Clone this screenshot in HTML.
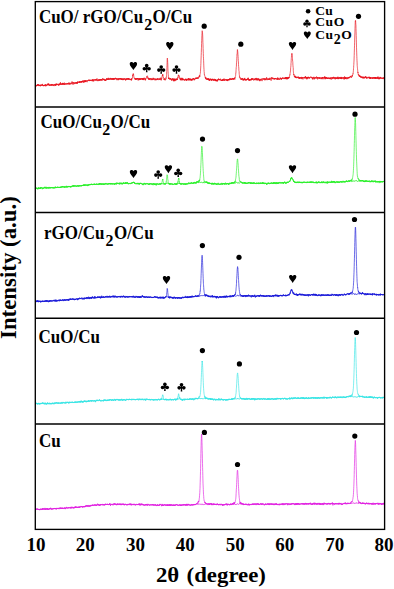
<!DOCTYPE html><html><head><meta charset="utf-8"><style>html,body{margin:0;padding:0;background:#fff;}body{width:394px;height:589px;overflow:hidden;position:relative;font-family:"Liberation Serif",serif;}</style></head><body><svg width="394" height="589" viewBox="0 0 394 589" style="position:absolute;left:0;top:0">
<path d="M35.50,85.3l.1-.1l.1-.3l.1-.3l.1,.4l.1,.1l.1,.5l.1,.9l.1-1.0l.1,.0l.1,.5l.1-.3l.1,.0l.1-.6l.1,.5l.1,.4l.1-.9l.1,.5l.1-.7l.1,.0l.1-.3l.1,.7l.1-1.0l.1,.8l.1,.1l.1,.0l.1-1.2l.1,.9l.1,.6l.1-.2l.1-.9l.1,.9l.1-.2l.1,.2l.1,.8l.1-.9l.1,.5l.1,.2l.1-.9l.1,.3l.1,.2l.1,.3l.1-.9l.1,.5l.1,.6l.1-1.4l.1,1.1l.1-.4l.1-.3l.1,1.3l.1-.4l.1-1.1l.1,.4l.1,.2l.1-.2l.1,.6l.1-.5l.1,.1l.1,.5l.1-1.1l.1,.3l.1-.4l.1,.3l.1-.3l.1,.3l.1,.2l.1,.5l.1,.1l.1-1.2l.1,.1l.1,.6l.1-1.4l.1,1.0l.1,.3l.1,.8l.1-.2l.1-.4l.1-.1l.1-.2l.1,1.1l.1-1.2l.1,.2l.1,.4l.1,.0l.1,.0l.1-.6l.1,.5l.1-.2l.1,.8l.1-.3l.1-.4l.1,.3l.1-.7l.1,.8l.1-.9l.1,.2l.1-.5l.1,.8l.1-1.0l.1-.4l.1,1.3l.1-.3l.1,.3l.1,1.1l.1-1.4l.1,.5l.1,.2l.1,.1l.1-.5l.1,.1l.1,.5l.1-.4l.1-.8l.1,.4l.1,.2l.1-.6l.1,.5l.1-.8l.1,.8l.1-.3l.1-.1l.1-.5l.1,.3l.1-.8l.1,.4l.1,.7l.1-1.3l.1,1.7l.1-1.6l.1,1.2l.1-.9l.1,.9l.1-.1l.1-1.1l.1,1.7l.1,.1l.1-.3l.1,.0l.1,.1l.1-.5l.1,.9l.1-.6l.1,.0l.1-.5l.1-.1l.1-.3l.1,1.5l.1-.8l.1,.6l.1-.5l.1-.4l.1,.3l.1-.1l.1,.4l.1-.1l.1,.1l.1-.5l.1,.0l.1,1.3l.1-1.4l.1-.3l.1,.6l.1,.3l.1-1.2l.1,.6l.1,.0l.1-.6l.1,1.1l.1,.0l.1,.0l.1-.3l.1,.5l.1-.6l.1,.5l.1-.5l.1-.1l.1,1.2l.1-1.0l.1,.7l.1-.3l.1-.6l.1,.2l.1,.5l.1-.2l.1,.1l.1,.2l.1,.7l.1-.4l.1-.3l.1-.8l.1-.6l.1,.7l.1,.1l.1-.5l.1,.7l.1,.3l.1,.0l.1,.4l.1-.9l.1,.9l.1-1.9l.1,1.1l.1-.1l.1,.0l.1,.7l.1-.1l.1-1.0l.1-.4l.1,1.1l.1-.9l.1,.5l.1,.4l.1-1.4l.1-.4l.1,1.4l.1-.1l.1-.1l.1,.1l.1-.3l.1,.0l.1,.6l.1-.2l.1-.5l.1,.9l.1-.3l.1,.2l.1-.6l.1,.3l.1,.0l.1,.1l.1,.6l.1-.7l.1,.4l.1-.4l.1,.9l.1-1.9l.1,1.1l.1-.7l.1,.2l.1-.7l.1,.4l.1,.6l.1-.6l.1,.4l.1-.4l.1,.8l.1-.7l.1-1.2l.1,.8l.1-.7l.1-.7l.1,1.4l.1,.9l.1-.5l.1-.7l.1,.0l.1,1.5l.1-.8l.1,.1l.1,.2l.1-.2l.1,.3l.1-.4l.1,.0l.1-.7l.1,.8l.1-.4l.1,.9l.1-1.6l.1,.7l.1-.1l.1-.8l.1,1.6l.1-.2l.1-.4l.1,.7l.1,.0l.1-1.7l.1,1.4l.1-.1l.1-.2l.1-.9l.1,.4l.1,.2l.1,.8l.1-.5l.1,.1l.1,.9l.1-1.5l.1,.0l.1-.8l.1,1.9l.1-.5l.1-.1l.1,.1l.1-.1l.1,.0l.1-.4l.1-.1l.1,.2l.1,.8l.1-.8l.1-.2l.1-.3l.1,.1l.1,1.1l.1-.3l.1,.1l.1-.4l.1-.3l.1,.3l.1,.6l.1-.7l.1,.1l.1,.0l.1,.0l.1-.6l.1,.5l.1-.3l.1,.7l.1-.8l.1,1.0l.1,.1l.1-.8l.1-.2l.1,.3l.1,.0l.1-.4l.1,.8l.1,.4l.1-1.0l.1,.1l.1-.6l.1,.4l.1-.9l.1,.2l.1,1.1l.1-1.0l.1,1.1l.1,.3l.1-.5l.1,.3l.1,.6l.1-1.2l.1-.1l.1-.2l.1,.7l.1,.6l.1-.2l.1-1.1l.1-.3l.1,.3l.1,.6l.1-.1l.1,.3l.1,.2l.1-.3l.1-.1l.1,.0l.1-.4l.1,.3l.1,.5l.1-.8l.1-.4l.1-1.1l.1,.9l.1-1.1l.1,.3l.1,1.4l.1,.2l.1-.1l.1-.7l.1,.7l.1-.1l.1,.6l.1,.8l.1-1.4l.1-.5l.1-.4l.1,.6l.1-.2l.1-.5l.1,.9l.1-.4l.1,1.3l.1,.0l.1,.0l.1-.8l.1,.4l.1-.6l.1-.2l.1,.0l.1-.4l.1-.2l.1,1.1l.1-.2l.1,.2l.1,.4l.1-1.4l.1,.5l.1,.3l.1-.2l.1-.2l.1,.4l.1-.1l.1-.8l.1,.2l.1,.9l.1-.3l.1-1.0l.1,1.2l.1-.2l.1,.2l.1-.7l.1,.0l.1-.5l.1,1.9l.1-1.5l.1,.9l.1-1.4l.1,.4l.1-.9l.1,.7l.1,.7l.1-.9l.1,1.0l.1-.6l.1-.7l.1,.2l.1,.0l.1,.1l.1-.2l.1,.1l.1,.1l.1,.0l.1,.1l.1,.4l.1,.5l.1-1.4l.1,.8l.1-.4l.1-.5l.1,1.1l.1-.8l.1,.9l.1-1.4l.1,.7l.1-.1l.1-.4l.1,.8l.1-.2l.1,.3l.1-.6l.1-.2l.1,.4l.1,.1l.1,.4l.1-.8l.1,.4l.1-1.0l.1,1.2l.1-.8l.1-.5l.1,1.0l.1,.6l.1-1.3l.1,.3l.1,.0l.1-.4l.1,.8l.1-.6l.1-.2l.1,.3l.1-.8l.1,1.0l.1-1.0l.1-.3l.1-.1l.1,2.2l.1-1.0l.1,.1l.1,.0l.1,.3l.1,.0l.1,.8l.1-1.7l.1-.3l.1,.3l.1-.4l.1,1.0l.1,.1l.1-.7l.1-.1l.1,.5l.1,.8l.1-2.2l.1,1.9l.1-1.0l.1,.9l.1-1.0l.1,.4l.1-.6l.1-.2l.1,1.3l.1-.1l.1-.6l.1-.2l.1-.3l.1,.8l.1,.1l.1-.2l.1-.2l.1-.5l.1,.6l.1,.0l.1,.8l.1,.3l.1-1.2l.1-.4l.1,.0l.1-.2l.1-.2l.1,.4l.1-.3l.1,.8l.1-.2l.1-.1l.1-.2l.1-.4l.1-.2l.1,.3l.1-.1l.1,.4l.1-.4l.1-.6l.1,.8l.1-.7l.1,.5l.1,.5l.1-.7l.1,1.1l.1-.1l.1-.4l.1-.3l.1-.1l.1-.3l.1,.3l.1,.0l.1,.5l.1-.6l.1,.7l.1-.1l.1-.2l.1-.3l.1,.5l.1-1.1l.1,1.0l.1-.2l.1,.3l.1,.1l.1-.6l.1,.2l.1,.3l.1-.1l.1-.2l.1-.6l.1,1.1l.1,.3l.1,.1l.1-.3l.1-1.2l.1,1.1l.1-.6l.1-1.2l.1,1.5l.1-1.0l.1-.1l.1,.5l.1,1.2l.1-.8l.1,.2l.1,.6l.1,.2l.1-1.2l.1-.2l.1-.8l.1,.4l.1,.8l.1-.3l.1,.0l.1,.3l.1-1.0l.1,.1l.1,.2l.1,.3l.1,.0l.1-.1l.1,.0l.1,.5l.1-.6l.1-.4l.1,1.1l.1-.4l.1,.0l.1-1.0l.1,.9l.1,.0l.1,.1l.1-.6l.1,.7l.1,.4l.1-.6l.1-.7l.1,.4l.1,.1l.1-1.4l.1,1.7l.1,.4l.1,.1l.1,.5l.1-.1l.1-.8l.1-.1l.1,.2l.1-.6l.1,.4l.1,.5l.1,.5l.1-1.0l.1-.2l.1,.2l.1,.2l.1-.7l.1,.9l.1-1.1l.1,.5l.1-.3l.1,.8l.1,.0l.1-1.1l.1,.2l.1,.7l.1-.1l.1-.6l.1,1.5l.1-.7l.1,.1l.1-.6l.1,.5l.1-.7l.1,.5l.1-.6l.1-.3l.1,.6l.1-.6l.1,.9l.1-.3l.1-.8l.1,.7l.1-.1l.1,.8l.1-1.0l.1,.2l.1,.6l.1,.6l.1-.1l.1-1.2l.1,.3l.1,.4l.1-.9l.1-.7l.1,.4l.1,.2l.1-.7l.1-.2l.1,.4l.1,1.2l.1-.9l.1,.2l.1,.4l.1,.0l.1-.6l.1,.6l.1-.5l.1,.3l.1-.6l.1,1.5l.1-.4l.1-.6l.1,.2l.1,.2l.1,.6l.1-1.1l.1,.1l.1,.2l.1,1.4l.1-.6l.1-.6l.1,.3l.1,1.0l.1-1.1l.1,.0l.1,.5l.1-.4l.1,.0l.1-.7l.1,1.2l.1-.2l.1-.7l.1,.1l.1-1.5l.1,1.2l.1-.4l.1,.3l.1,.5l.1-.6l.1-.6l.1,1.1l.1-.5l.1,.0l.1-.1l.1,.2l.1-1.0l.1,1.5l.1-.7l.1,.4l.1,.2l.1-.9l.1-1.0l.1,.7l.1,.1l.1,.7l.1,.4l.1-1.2l.1,1.1l.1-1.2l.1,.9l.1-.1l.1-.2l.1,.1l.1-.3l.1,.1l.1-.3l.1,.6l.1,.8l.1-.3l.1-.3l.1-.5l.1-1.0l.1,1.2l.1-.6l.1,.1l.1,.1l.1,.5l.1-.1l.1,.1l.1-.8l.1,.5l.1,1.0l.1-1.4l.1,.2l.1,.1l.1,.1l.1-.9l.1,.7l.1,.6l.1-.3l.1,.0l.1,.7l.1-1.1l.1,.4l.1-.4l.1,.9l.1-1.4l.1,.8l.1,.1l.1,.7l.1,.0l.1,.3l.1-1.9l.1,1.3l.1-.4l.1-.4l.1,.7l.1-.5l.1-.4l.1,.7l.1-.7l.1,.5l.1,.6l.1-.2l.1,.4l.1-.8l.1-.9l.1,.4l.1-.2l.1-.1l.1,.8l.1-.6l.1-.5l.1,1.2l.1-.3l.1,.1l.1,.1l.1,.2l.1-.2l.1,.5l.1-.5l.1,.0l.1,.0l.1-.8l.1,.6l.1,.3l.1,.3l.1-.7l.1,1.6l.1-.8l.1-.7l.1-.3l.1,.6l.1,.1l.1-.3l.1,.5l.1-.3l.1,.4l.1-.6l.1,.3l.1,.5l.1,.6l.1-1.8l.1,.6l.1-.3l.1,.8l.1-.9l.1,.6l.1,.3l.1-.5l.1-.1l.1,.4l.1-1.0l.1,.1l.1,.4l.1,.2l.1,.0l.1-.8l.1,.8l.1,.6l.1-.2l.1-.5l.1-.5l.1,.6l.1-.7l.1-.3l.1,.3l.1,1.3l.1-.5l.1,.3l.1-1.0l.1,.5l.1-.5l.1,.0l.1,1.6l.1-.5l.1-.5l.1,.3l.1,.0l.1,.6l.1-1.0l.1-.7l.1,.8l.1,.3l.1,.2l.1,.6l.1-.5l.1,.2l.1-1.2l.1,.9l.1,.6l.1-.8l.1,.0l.1-.2l.1,.8l.1-1.3l.1,.1l.1,.3l.1-.3l.1-.6l.1,.5l.1-.3l.1,.6l.1,.0l.1-.1l.1,.7l.1,.4l.1-.8l.1,.2l.1,.2l.1-.8l.1,.7l.1-.6l.1,1.1l.1,.7l.1-.2l.1-1.3l.1,.2l.1-.3l.1-.2l.1,.8l.1-1.2l.1,1.1l.1-.4l.1,.5l.1-.5l.1-.5l.1,.4l.1,.1l.1-.4l.1,.5l.1-.5l.1-.7l.1,1.3l.1,.2l.1-.3l.1-.1l.1,.5l.1-.8l.1,.0l.1,.2l.1,.6l.1-1.5l.1,1.3l.1-1.0l.1-.3l.1,1.0l.1-.5l.1-.3l.1,.6l.1,.7l.1,.1l.1-.7l.1,.5l.1,.0l.1-.8l.1,.4l.1,.2l.1,.0l.1-.1l.1,.1l.1,.2l.1-.3l.1,.0l.1,.8l.1-.6l.1,.5l.1-.1l.1-.2l.1,.7l.1-1.5l.1,.9l.1-.6l.1,1.3l.1-.2l.1-2.0l.1,.5l.1,.6l.1,.0l.1-.3l.1-.6l.1-.1l.1-.3l.1-.7l.1,.1l.1-2.2l.1,.9l.1-1.4l.1,.3l.1-.7l.1-.6l.1,.7l.1-.6l.1,.5l.1,.0l.1,1.2l.1,.8l.1,.7l.1,.1l.1,1.0l.1-.2l.1,.1l.1,.4l.1,.2l.1-.6l.1,.1l.1,.3l.1,.2l.1-.2l.1,1.1l.1-.6l.1,.6l.1-.9l.1,.5l.1-.1l.1-.6l.1,1.3l.1-1.0l.1,1.0l.1-.3l.1-1.0l.1,.3l.1,.7l.1-.1l.1,.1l.1-.3l.1-.6l.1,.7l.1-1.2l.1,1.3l.1-.8l.1,.0l.1,.4l.1,.2l.1-1.0l.1-.1l.1,.7l.1-.4l.1,.7l.1,1.4l.1-1.3l.1,.3l.1-1.1l.1,.8l.1-.3l.1,.3l.1,.4l.1,.7l.1-.8l.1,.0l.1-.8l.1,.4l.1-.3l.1,.9l.1-.7l.1,.9l.1-1.8l.1,1.3l.1,.5l.1-.6l.1-.1l.1,.1l.1-.6l.1,.3l.1,1.0l.1-.7l.1-1.1l.1,.1l.1,.4l.1,.7l.1-.8l.1,.0l.1,.8l.1,.0l.1-.5l.1,.1l.1-.2l.1,.4l.1-1.0l.1,1.3l.1-.7l.1,.3l.1,.8l.1-.5l.1-1.0l.1,1.3l.1,.3l.1-1.0l.1-.3l.1,.6l.1-.6l.1,1.5l.1-2.1l.1,.9l.1,.7l.1-.1l.1-.1l.1-.1l.1-.4l.1,.4l.1-1.6l.1,.9l.1,.1l.1,.4l.1,.0l.1-.5l.1-.1l.1,.9l.1-.4l.1-.4l.1,1.7l.1,.1l.1-1.7l.1,.6l.1,.8l.1-.9l.1-.6l.1-.3l.1-.1l.1-.1l.1-.2l.1,.4l.1-.6l.1-.2l.1-.8l.1,.4l.1-.5l.1,.1l.1,.1l.1-.9l.1,.0l.1,.0l.1-.1l.1,.4l.1,.2l.1,1.2l.1-.6l.1,1.6l.1-.4l.1-.3l.1,.3l.1,.2l.1,.5l.1-.4l.1,1.3l.1-1.1l.1-.7l.1,.9l.1-.8l.1,.8l.1,.6l.1,.0l.1-1.1l.1,.2l.1,1.2l.1-.7l.1-.3l.1,.4l.1,.7l.1-.7l.1-.6l.1,.3l.1,.2l.1-.5l.1-.1l.1,.4l.1-.5l.1,.4l.1,.3l.1,1.1l.1-1.6l.1,.6l.1,.0l.1,.5l.1,.1l.1-.8l.1,.0l.1-.6l.1,.6l.1,.5l.1-.2l.1-.5l.1,.7l.1,.4l.1,.2l.1-.6l.1,.3l.1-1.1l.1-.2l.1,1.3l.1-2.0l.1,1.2l.1,.3l.1-.2l.1-.2l.1,.2l.1,.0l.1-.2l.1-.9l.1,1.0l.1-.3l.1,.3l.1,.6l.1,.0l.1,.0l.1-.5l.1,.8l.1,.1l.1-.1l.1,.5l.1-.5l.1-.4l.1,.3l.1-1.0l.1,1.0l.1-.7l.1,.0l.1-.6l.1,.8l.1,.5l.1,.3l.1,.1l.1-.5l.1,.1l.1-.8l.1,.6l.1-.4l.1,.3l.1,.3l.1-1.1l.1-.7l.1,.2l.1-.1l.1,.3l.1,1.4l.1-.5l.1-.7l.1,1.0l.1,.0l.1-.8l.1-.1l.1,.4l.1,.2l.1,.3l.1,.5l.1-.1l.1-.1l.1-.2l.1-.4l.1-1.1l.1,.8l.1,.2l.1-.4l.1,.6l.1-.5l.1-.1l.1,1.0l.1-.5l.1-.3l.1,.3l.1,.2l.1-.4l.1-1.4l.1,.8l.1,.5l.1-.2l.1,.5l.1,.4l.1-.7l.1-.1l.1,1.5l.1-1.3l.1-.5l.1,.6l.1-.3l.1-1.1l.1,.5l.1-1.1l.1-.6l.1,.1l.1-.1l.1-1.1l.1-.2l.1-.3l.1,.9l.1-1.9l.1,1.1l.1-.2l.1,.5l.1,.7l.1,.7l.1,.7l.1,.0l.1-.2l.1,.6l.1,.7l.1,.4l.1,.7l.1-.5l.1,.4l.1-.1l.1-.4l.1-.8l.1-.1l.1,.2l.1,1.4l.1-.9l.1,1.0l.1-.3l.1,.8l.1-.4l.1-.5l.1-.4l.1,.1l.1-.1l.1-.2l.1-.3l.1,.7l.1-1.6l.1,.5l.1-1.1l.1,.0l.1-.1l.1-1.6l.1-.9l.1-2.6l.1-.7l.1-3.5l.1-2.1l.1-2.8l.1-3.8l.1-.7l.1-.2l.1,1.5l.1,.8l.1,2.0l.1,1.8l.1,3.9l.1,2.7l.1,1.0l.1,1.6l.1,1.1l.1,2.3l.1,1.8l.1-.6l.1,.5l.1,.2l.1-1.0l.1,1.3l.1-1.2l.1,.5l.1,.6l.1,.2l.1,.0l.1,.4l.1-.6l.1-.2l.1,.5l.1-.4l.1-.2l.1-.1l.1,.4l.1-.7l.1,.5l.1-.3l.1,.8l.1,.0l.1,.8l.1-1.7l.1,.3l.1,.9l.1-.3l.1,.1l.1,1.2l.1-1.0l.1-.2l.1,.1l.1,.8l.1,.2l.1-1.0l.1,.2l.1,.6l.1-.5l.1-.9l.1,.4l.1,.0l.1-1.2l.1,.8l.1,1.0l.1-.4l.1-.6l.1,1.1l.1,.6l.1,.2l.1-1.9l.1,2.5l.1-2.1l.1,.8l.1,.0l.1,.2l.1-.5l.1-.5l.1,1.0l.1-.8l.1-.9l.1,2.7l.1-1.2l.1,.7l.1-1.4l.1,1.2l.1,.2l.1,.0l.1-.8l.1-.9l.1,.5l.1-.8l.1,.2l.1,.8l.1-.5l.1,.5l.1,.1l.1,.5l.1-.5l.1-.8l.1,.6l.1-1.1l.1,.2l.1,1.0l.1-1.0l.1,.6l.1-.4l.1,.6l.1,.5l.1-1.2l.1,.3l.1-1.1l.1-.6l.1-.5l.1,.8l.1-.1l.1-1.5l.1-.9l.1,.3l.1-.7l.1,.5l.1-.3l.1,.3l.1,.6l.1-.2l.1,.6l.1-.3l.1,1.0l.1,.0l.1,1.0l.1,.0l.1,.7l.1,.4l.1-.6l.1,.2l.1,.0l.1,1.0l.1,.4l.1-.3l.1-.8l.1,.8l.1-1.3l.1,1.4l.1-1.1l.1-1.1l.1,2.8l.1-.3l.1-1.7l.1,.5l.1-.2l.1,.2l.1-.5l.1,.3l.1,1.0l.1-.1l.1,.3l.1-.9l.1,1.2l.1-1.5l.1,.2l.1-1.1l.1,.5l.1,1.7l.1-1.3l.1,1.0l.1-.3l.1-.7l.1,.6l.1-.3l.1,.0l.1,.6l.1,.0l.1-.2l.1-.3l.1,.5l.1-.1l.1,.3l.1,1.0l.1-.9l.1-.4l.1,.1l.1-.4l.1,.0l.1-.1l.1,.2l.1,.1l.1,.3l.1-.6l.1,.2l.1-.7l.1,1.4l.1-.7l.1,.8l.1-.6l.1,.4l.1-.6l.1,.6l.1,.8l.1-2.0l.1,1.4l.1,.2l.1-.7l.1,.2l.1,.5l.1-1.1l.1,.4l.1-.7l.1,.0l.1,.0l.1,.3l.1,.1l.1,.2l.1-.9l.1,1.6l.1-.6l.1-.4l.1-.5l.1,.1l.1,.2l.1,.0l.1-.9l.1,1.4l.1,.9l.1-2.4l.1,1.4l.1,.0l.1-.4l.1,.7l.1-1.1l.1,.6l.1,.8l.1-.9l.1,.0l.1,.4l.1-.1l.1,.9l.1-1.1l.1,.8l.1-1.0l.1,.8l.1-.4l.1-1.1l.1,1.0l.1-.4l.1,.3l.1,1.1l.1-1.4l.1,.0l.1,1.5l.1-.9l.1,.8l.1-.4l.1-.8l.1,.3l.1,.4l.1-.2l.1-.5l.1-.1l.1,.0l.1-.3l.1,1.6l.1-1.1l.1-.8l.1,.3l.1,.5l.1,.1l.1-.5l.1-.2l.1,.3l.1-1.0l.1,.3l.1,1.0l.1-.7l.1,.4l.1,.8l.1-.1l.1-.3l.1,.9l.1-.5l.1-.6l.1,.5l.1-.2l.1-.6l.1,.5l.1-.3l.1-1.0l.1,.6l.1-.3l.1,.0l.1-.6l.1,.6l.1,.2l.1,.0l.1-.5l.1,.5l.1-1.0l.1,.6l.1,.6l.1-.8l.1,.1l.1,.9l.1-.7l.1-.1l.1,.4l.1,.4l.1-1.9l.1,1.0l.1-.1l.1,.2l.1,.1l.1-.2l.1,.5l.1-.7l.1,.2l.1,.1l.1-.7l.1,.5l.1,.6l.1-.8l.1-.3l.1,.0l.1-.5l.1,.2l.1,.4l.1-1.1l.1-.1l.1,.5l.1-1.1l.1,.6l.1-1.1l.1,.0l.1,.1l.1,1.4l.1-1.6l.1-.3l.1-.6l.1-.5l.1-.4l.1-1.4l.1-.3l.1-2.7l.1-1.0l.1-2.6l.1-1.9l.1-3.4l.1-2.1l.1-2.6l.1-2.8l.1-3.7l.1-1.6l.1-3.7l.1-2.9l.1-2.6l.1-2.6l.1-1.8l.1-2.3l.1-.7l.1,.3l.1,.6l.1,1.0l.1,1.5l.1,1.9l.1,3.0l.1,3.5l.1,1.7l.1,4.2l.1,2.7l.1,2.4l.1,3.1l.1,1.6l.1,2.1l.1,2.8l.1,2.8l.1,2.0l.1,1.7l.1,1.9l.1,.5l.1,2.2l.1-.2l.1,.9l.1,.7l.1,.0l.1,.0l.1,.3l.1,.7l.1,.8l.1-.1l.1-.3l.1,.6l.1,.2l.1,.7l.1-1.3l.1,2.0l.1-1.0l.1-.4l.1,.7l.1,.2l.1-.2l.1,.4l.1-.3l.1,.8l.1,.1l.1-.3l.1,.8l.1-.8l.1-.1l.1-.6l.1,.5l.1,.6l.1-.9l.1,1.0l.1-.2l.1,.0l.1-1.2l.1,.9l.1,.3l.1-.6l.1,.6l.1-1.2l.1,1.4l.1-.7l.1,1.0l.1-1.2l.1,1.4l.1-.4l.1,.6l.1-.8l.1,.0l.1,1.3l.1-1.7l.1-.2l.1,.3l.1-.5l.1,1.2l.1,.5l.1-1.6l.1-.3l.1,1.2l.1,.0l.1-.3l.1,.0l.1-.4l.1,.1l.1-.4l.1,.0l.1,1.1l.1-.8l.1,1.4l.1-1.0l.1-.4l.1,1.1l.1,.7l.1-1.0l.1-.9l.1,.8l.1,.5l.1-1.3l.1-.2l.1,1.2l.1-.4l.1-.7l.1,.3l.1-.2l.1,.7l.1,.0l.1,.5l.1,.0l.1-1.1l.1,1.3l.1,.1l.1-.2l.1,.4l.1-.9l.1-.2l.1,.7l.1-.9l.1-.6l.1,1.7l.1-.6l.1,.1l.1-.5l.1,.4l.1-.1l.1,.3l.1,.3l.1-1.3l.1,1.6l.1-1.2l.1,.3l.1,1.0l.1-.5l.1-.8l.1,1.7l.1-1.5l.1,.5l.1-.3l.1,.7l.1-.7l.1,.9l.1-.6l.1,.8l.1-.6l.1,.0l.1,.9l.1-.8l.1-.3l.1,1.3l.1-1.1l.1-.5l.1,.6l.1-1.1l.1,1.2l.1,.1l.1-.8l.1-.1l.1,.4l.1-.2l.1-.6l.1,.6l.1-1.5l.1,.9l.1-.1l.1,.1l.1,.5l.1-.8l.1,.8l.1-.2l.1,.1l.1-.5l.1-.1l.1,.9l.1-.7l.1,.3l.1,.3l.1,.3l.1,.1l.1-1.3l.1-.4l.1,1.2l.1-.3l.1,.1l.1-.2l.1,1.0l.1-.1l.1-.2l.1,.0l.1,.3l.1-.2l.1,.0l.1,.4l.1-.8l.1,1.0l.1-1.0l.1,.4l.1-.6l.1,.0l.1,1.3l.1-1.0l.1-.7l.1,.4l.1,.2l.1,1.0l.1-1.2l.1,.4l.1-.6l.1,.5l.1,.1l.1,.6l.1-1.2l.1,.7l.1-.4l.1-.8l.1,.6l.1-.1l.1-1.0l.1,1.3l.1,.4l.1-.3l.1-.5l.1,1.2l.1-.6l.1,.4l.1-.1l.1-.8l.1,.8l.1-.2l.1,.1l.1-.2l.1,.0l.1,.2l.1-.7l.1-.3l.1,.0l.1,.7l.1-.6l.1,.4l.1,.3l.1-.2l.1,.1l.1-.5l.1,1.4l.1-.3l.1-.5l.1-.3l.1,1.1l.1-.9l.1-.4l.1,.4l.1,.4l.1,.6l.1-.8l.1,1.0l.1-1.3l.1,.4l.1-1.2l.1,1.0l.1-.7l.1,.3l.1,.5l.1,.3l.1-1.2l.1,.6l.1-.7l.1,.6l.1-.1l.1-.2l.1-.2l.1,.3l.1-.3l.1,.8l.1,.3l.1-1.9l.1,1.0l.1-.5l.1,.6l.1-.9l.1,.2l.1-.2l.1,.9l.1-.2l.1-.4l.1,.6l.1-.3l.1-.8l.1,1.0l.1-.3l.1,.1l.1,.3l.1,.4l.1-1.1l.1,.1l.1,1.0l.1-.2l.1-1.1l.1-.3l.1,.0l.1,.3l.1-.3l.1,.8l.1-.8l.1,.0l.1,1.2l.1-.8l.1,.2l.1,.4l.1,.2l.1-.4l.1-.1l.1-.6l.1,1.3l.1-.9l.1-.7l.1,.1l.1,.6l.1-.1l.1,.5l.1-.1l.1-1.1l.1,.2l.1-.4l.1,.8l.1-.3l.1,1.3l.1-1.4l.1-1.1l.1,.4l.1,.0l.1-.8l.1-.2l.1-.4l.1-.4l.1-1.5l.1-1.2l.1,.0l.1-2.2l.1-1.2l.1-1.9l.1-.7l.1-.7l.1-3.3l.1-.8l.1-1.4l.1-2.6l.1-1.6l.1-2.4l.1,.1l.1-1.4l.1-1.9l.1-1.5l.1,.2l.1,1.0l.1,.8l.1,.6l.1,2.1l.1,.6l.1,1.9l.1,1.9l.1,2.1l.1,.5l.1,3.2l.1,2.1l.1,.2l.1,1.4l.1,2.4l.1,.7l.1,.2l.1,2.7l.1,.5l.1,.5l.1,2.1l.1-.3l.1-.1l.1,.8l.1-.2l.1,.1l.1,.6l.1-.4l.1,.2l.1,1.1l.1-.2l.1,.2l.1-.1l.1,.2l.1,.4l.1-.5l.1,.7l.1-1.4l.1,.5l.1-.4l.1,.6l.1,.3l.1,.6l.1-.9l.1,.3l.1-.6l.1-.1l.1-.1l.1,.8l.1-1.0l.1,.9l.1,.0l.1-.2l.1-.3l.1-.3l.1,1.9l.1-1.5l.1,1.6l.1-.4l.1-.6l.1-.2l.1,1.1l.1-.1l.1-1.1l.1,.0l.1,.8l.1-.5l.1,.8l.1-1.2l.1,.3l.1-.9l.1,1.5l.1-1.0l.1-1.0l.1,1.1l.1,.1l.1,1.1l.1-.9l.1,.1l.1,.4l.1,.6l.1-.8l.1,.6l.1-.2l.1-.6l.1,.0l.1,.3l.1-.4l.1,1.0l.1-1.3l.1,1.2l.1,.1l.1-.9l.1-.4l.1,.1l.1,.1l.1,.2l.1,.0l.1,.3l.1-.7l.1,.2l.1-.8l.1,1.2l.1-.5l.1-.4l.1,.8l.1-.1l.1-1.7l.1,1.4l.1-.5l.1,1.4l.1,.5l.1-1.4l.1,.2l.1,.0l.1,.1l.1,.2l.1,.6l.1-1.0l.1,1.4l.1-1.2l.1,.7l.1,.6l.1-.2l.1-.9l.1,.0l.1,.0l.1,.4l.1,.5l.1-1.3l.1,.8l.1,.0l.1,.0l.1-.5l.1,.3l.1-.4l.1,.0l.1-.1l.1,.6l.1-1.6l.1,2.0l.1-.7l.1,.1l.1-.5l.1-.6l.1,.6l.1-.6l.1,.6l.1-1.0l.1,1.7l.1-.5l.1-.3l.1,.0l.1-.1l.1-.4l.1,.2l.1,.5l.1-.1l.1-.5l.1,.5l.1,.1l.1,.4l.1,.8l.1-.6l.1-.7l.1-.4l.1-.1l.1,.0l.1,1.2l.1-.8l.1,.5l.1-.4l.1,.3l.1,.6l.1-1.2l.1,.0l.1-.2l.1,.7l.1-.9l.1,.1l.1-.3l.1,.2l.1,.7l.1,1.0l.1-1.8l.1,.5l.1-.4l.1-.6l.1,.7l.1,.1l.1-.3l.1,1.9l.1-1.7l.1,1.0l.1,.1l.1-.3l.1,.4l.1,.2l.1-.3l.1,.3l.1,.0l.1-1.6l.1,1.9l.1,.3l.1-.8l.1-.1l.1-1.2l.1,.8l.1-.5l.1,.2l.1,.9l.1-1.0l.1,.3l.1-.7l.1,.9l.1,.3l.1-.4l.1,.3l.1,1.4l.1-1.7l.1,.2l.1,.1l.1,1.1l.1,.5l.1-.9l.1-.6l.1,.0l.1,.6l.1-1.0l.1,.9l.1,.1l.1-.5l.1,.0l.1,.1l.1,.4l.1-1.4l.1,.9l.1-.9l.1-.2l.1,.5l.1-.2l.1,.0l.1-.1l.1,.5l.1,1.4l.1,.3l.1-.8l.1,.1l.1-.9l.1,.0l.1,.0l.1-.9l.1,.1l.1,.3l.1-.2l.1-.4l.1,.8l.1-.2l.1,.8l.1-.5l.1-.2l.1,.0l.1-.4l.1-.6l.1,.3l.1,.4l.1,.0l.1,.7l.1-1.3l.1,1.1l.1,.0l.1,.7l.1-.1l.1-.2l.1,.7l.1-.5l.1-.9l.1,.9l.1-.6l.1-.6l.1,.8l.1-.9l.1,.9l.1-.5l.1-.2l.1-.1l.1-.3l.1,.3l.1,.0l.1,.0l.1,.0l.1-1.4l.1,2.2l.1-.7l.1,1.1l.1,.3l.1-.7l.1-.8l.1-.1l.1,.1l.1-.1l.1,.3l.1-.2l.1,1.1l.1-.6l.1,.2l.1-.5l.1,.3l.1-.2l.1,.4l.1,.3l.1-.3l.1-.8l.1-.3l.1,1.4l.1-.9l.1-.1l.1,.9l.1-.3l.1-.2l.1-.6l.1,1.3l.1-.9l.1,.0l.1-.3l.1-.9l.1,.4l.1,.9l.1,.1l.1,.0l.1-.4l.1,.2l.1,.3l.1-.4l.1,1.2l.1-.1l.1,.8l.1-1.0l.1-.6l.1-.6l.1-1.3l.1,1.3l.1,.2l.1,.3l.1-.2l.1,.1l.1-.2l.1,.2l.1,.2l.1-1.1l.1,.0l.1-.5l.1,1.5l.1-.1l.1,.0l.1-1.0l.1,1.2l.1,.0l.1,.0l.1-.2l.1,.3l.1-.5l.1,.3l.1-.5l.1,.1l.1,.2l.1-.2l.1,.6l.1-.5l.1,.6l.1-.5l.1-.4l.1,.8l.1-.9l.1,1.0l.1,.0l.1-1.1l.1,.0l.1,.7l.1-.3l.1-.5l.1,.6l.1-.4l.1,.7l.1-.4l.1,.3l.1,.0l.1,.3l.1,.2l.1-.6l.1-.2l.1-.2l.1,.5l.1,.2l.1-.3l.1-.1l.1,.3l.1,1.0l.1-1.4l.1,.3l.1,.0l.1-1.4l.1,1.7l.1-.5l.1,1.0l.1-.9l.1-.4l.1,.2l.1,.0l.1-.5l.1,.3l.1-.5l.1,.8l.1,.6l.1,.6l.1-.5l.1-.3l.1,.4l.1-.3l.1,.4l.1-.5l.1-.5l.1,.2l.1,.0l.1,.3l.1-.4l.1-.2l.1-.7l.1,.7l.1-.8l.1,1.2l.1,.1l.1-.9l.1,1.0l.1,.0l.1-.4l.1,.9l.1,.0l.1-1.6l.1,1.5l.1-.3l.1,.0l.1,.0l.1-1.0l.1,.2l.1-.2l.1,.0l.1,.1l.1-.6l.1,.5l.1,.6l.1-.5l.1,.3l.1-1.2l.1,.3l.1-.1l.1,.2l.1-.2l.1,.7l.1-.3l.1,.3l.1-.1l.1,.4l.1-.5l.1,1.0l.1-.3l.1,.0l.1-.4l.1,.2l.1,.1l.1-.2l.1-.6l.1,.4l.1,.0l.1,.6l.1-.6l.1-1.1l.1,1.8l.1-.7l.1-.7l.1,.3l.1-.4l.1,1.5l.1-.8l.1-1.0l.1,1.0l.1-.1l.1,1.3l.1-1.6l.1-.5l.1,1.2l.1-.1l.1-.5l.1-.9l.1,1.6l.1,.4l.1-1.9l.1,1.5l.1-.7l.1,1.4l.1-1.3l.1,.0l.1,.6l.1-.5l.1-.4l.1,.5l.1-.5l.1-.8l.1,2.0l.1-1.1l.1-.3l.1,.6l.1-1.0l.1,.1l.1,.5l.1-.3l.1,.2l.1,.5l.1-1.1l.1,.2l.1-.4l.1-1.2l.1,.1l.1-1.0l.1,.4l.1-.6l.1-.9l.1-1.2l.1,.0l.1-1.4l.1-.1l.1-1.9l.1-1.6l.1-.4l.1-1.5l.1-2.1l.1-.6l.1-2.4l.1-1.7l.1-1.3l.1-1.9l.1-1.1l.1-.7l.1,.5l.1,.0l.1-.7l.1,1.4l.1-.1l.1,1.2l.1,1.3l.1,1.3l.1,2.4l.1,.4l.1,.9l.1,2.9l.1,.7l.1,1.5l.1,.1l.1,3.2l.1,1.1l.1,1.0l.1,.9l.1,1.1l.1-.6l.1,.9l.1-.4l.1,.7l.1,.9l.1-.3l.1-.2l.1,1.0l.1-.4l.1-.4l.1,.7l.1-.3l.1-.7l.1,.5l.1,1.8l.1-1.7l.1,1.0l.1,.0l.1,.2l.1-.9l.1,.4l.1,.5l.1,.3l.1-.5l.1,.0l.1,.7l.1,.2l.1-.3l.1-.6l.1,.3l.1-.5l.1,.7l.1-1.3l.1,.5l.1,.2l.1-.2l.1,.8l.1-.2l.1-.1l.1,.4l.1-.8l.1,.6l.1,.2l.1,.0l.1,.3l.1-1.2l.1-.4l.1,.8l.1,.1l.1,.9l.1-.9l.1-.5l.1,.8l.1-.4l.1-.3l.1,1.9l.1-1.2l.1,.0l.1,.0l.1,.4l.1-.6l.1,.6l.1-.9l.1-.1l.1,1.4l.1,.1l.1-.5l.1-.1l.1-.1l.1-.7l.1,1.1l.1-.5l.1-.4l.1-.3l.1,.5l.1-.1l.1,.1l.1-.8l.1,1.3l.1,.9l.1-1.3l.1,.5l.1,.5l.1,.1l.1-.4l.1-1.1l.1,.7l.1-1.0l.1,.2l.1,.4l.1-.2l.1,.6l.1,1.3l.1-1.0l.1,.0l.1-.7l.1,.0l.1-.2l.1,.3l.1-.5l.1,.3l.1,.0l.1-.4l.1-.2l.1,.1l.1,.7l.1-.3l.1,.5l.1,.1l.1-.7l.1,.5l.1-1.0l.1,2.0l.1-.7l.1-1.0l.1-.5l.1,.6l.1-1.2l.1,.4l.1,1.0l.1-.1l.1-.3l.1,.9l.1-1.0l.1,.6l.1-.4l.1,.0l.1,.7l.1-.4l.1,1.6l.1-1.0l.1,1.2l.1-1.6l.1,.7l.1-1.2l.1,.2l.1,.4l.1,.3l.1-.9l.1,1.3l.1-1.0l.1,.2l.1,.3l.1-.1l.1-1.2l.1,1.6l.1-.4l.1-.4l.1-.4l.1-.1l.1,.0l.1,1.1l.1-.4l.1-.4l.1,.3l.1,.9l.1-1.0l.1-.1l.1,1.0l.1-.3l.1-.2l.1-.2l.1-.6l.1-.1l.1,.2l.1-.1l.1,.2l.1-.2l.1,.1l.1,.2l.1-.7l.1-.2l.1,1.0l.1,.0l.1,.2l.1,.2l.1-.1l.1-.4l.1,.3l.1,.1l.1-.5l.1,.8l.1-.7l.1-.3l.1,.7l.1,1.0l.1-1.1l.1,.8l.1,.6l.1,.1l.1-1.2l.1,1.5l.1-1.1l.1-.3l.1-.3l.1,.4l.1-.5l.1-.2l.1,.5l.1-.9l.1-.3l.1,1.3l.1,.3l.1,.4l.1-.9l.1,.9l.1,.1l.1,.4l.1-1.7l.1,.5l.1-.1l.1-.6l.1,.3l.1,.7l.1-1.0l.1,.0l.1,.6l.1,.1l.1,.1l.1-.7l.1,.6l.1,.2l.1-.7l.1,.1l.1,.5l.1,.2l.1-1.4l.1-.5l.1,.4l.1,.2l.1,.6l.1,.6l.1-.6l.1-.1l.1,.6l.1-.6l.1,.3l.1-.3l.1,1.8l.1-1.1l.1-.8l.1-.3l.1,.8l.1-.8l.1,.6l.1,.1l.1,.5l.1-.4l.1-.4l.1-.1l.1,.0l.1,.5l.1,.1l.1,.8l.1-1.0l.1,.7l.1-.7l.1,.1l.1-1.0l.1,.2l.1,.9l.1,.6l.1-.7l.1,.2l.1-.7l.1-.1l.1,.0l.1,.6l.1,.1l.1,.0l.1,.0l.1,.8l.1,.0l.1-.6l.1,.9l.1-.8l.1-.1l.1,.6l.1-.4l.1-.5l.1,.4l.1-1.0l.1,.5l.1-.9l.1,1.6l.1-1.5l.1,1.2l.1-1.0l.1,.0l.1,.7l.1,.4l.1,.1l.1,.8l.1-.9l.1,.1l.1-.9l.1,.7l.1-.3l.1-.6l.1,.6l.1,.1l.1-.2l.1,.1l.1-.4l.1-.1l.1,.7l.1-1.3l.1,.5l.1,.9l.1-2.0l.1,1.1l.1,.7l.1-1.1l.1,2.3l.1-2.4l.1,1.9l.1-.1l.1-.5l.1-.5l.1,.6l.1-.8l.1,.8l.1-.7l.1,.7l.1,.4l.1-1.4l.1,.3l.1,.4l.1-.7l.1,1.4l.1-.3l.1-1.0l.1,1.0l.1-.2l.1,.0l.1,.1l.1-.4l.1,1.0l.1-1.0l.1,.6l.1-.5l.1,.6l.1-.7l.1-.1l.1-.3l.1,1.0l.1,.0l.1,.4l.1-.6l.1-.6l.1,.0l.1,.2l.1-.1l.1,.8l.1,.0l.1-.8l.1-.1l.1,1.3l.1-.5l.1-.3l.1,.7l.1-.7l.1,.3l.1,.0l.1-.7l.1,1.5l.1-1.4l.1,.3l.1-.2l.1,.6l.1-.5l.1,.0l.1-.9l.1,.8l.1-.5l.1,.8l.1,.1l.1,.0l.1,1.1l.1-.9l.1-.3l.1,.0l.1-.2l.1,.3l.1,.0l.1-1.2l.1,1.5l.1-.5l.1,.1l.1-.1l.1-.8l.1,.1l.1,1.4l.1-.8l.1-.9l.1,.8l.1-.2l.1-.7l.1-.3l.1,.4l.1,1.0l.1-.3l.1,.0l.1,.4l.1,.3l.1-1.5l.1,1.2l.1-.1l.1-.3l.1,.3l.1,.1l.1,.3l.1-.9l.1,.5l.1,1.2l.1-1.6l.1-.3l.1,.9l.1,.1l.1-.1l.1-.8l.1,.9l.1-.9l.1-.3l.1,.4l.1,.4l.1,.6l.1,.1l.1-.5l.1,.7l.1-.5l.1,.3l.1-1.5l.1,.0l.1,1.3l.1-1.3l.1,.6l.1,.2l.1-.1l.1-.2l.1,.9l.1-2.0l.1,1.9l.1,.6l.1-1.1l.1,.0l.1,.4l.1,.4l.1-1.6l.1,.9l.1-.1l.1,.6l.1-.6l.1,.3l.1-.8l.1,.1l.1-.4l.1-.1l.1,.6l.1,.1l.1-.4l.1,1.3l.1-1.0l.1-.6l.1,1.4l.1-1.1l.1,.8l.1-.3l.1,.4l.1,.0l.1-.6l.1,.2l.1,.8l.1-1.9l.1,1.0l.1,.2l.1-.7l.1-.2l.1,1.9l.1-1.4l.1,1.2l.1-.9l.1-.1l.1,.3l.1,.1l.1,.2l.1-.6l.1-.1l.1-.1l.1,.5l.1-.2l.1-1.0l.1,.6l.1,.6l.1-.4l.1,.0l.1-.4l.1,.5l.1,.3l.1,.0l.1-.5l.1,1.3l.1-1.0l.1,1.6l.1-1.2l.1-.2l.1-.5l.1-1.2l.1,1.0l.1,.1l.1,.8l.1-1.5l.1,1.9l.1-.9l.1,.9l.1-1.7l.1,1.6l.1-.4l.1,.4l.1-.7l.1-.7l.1,1.1l.1,.0l.1-.1l.1,.4l.1,.5l.1-.6l.1-.8l.1-.3l.1,1.3l.1-.6l.1-.7l.1,.0l.1,.4l.1,.1l.1-.2l.1-.1l.1,1.4l.1-1.0l.1-.5l.1-.3l.1,.1l.1,.8l.1,.2l.1-.6l.1,.0l.1-.1l.1-.3l.1,.7l.1-.7l.1,1.1l.1-1.5l.1,.3l.1,.6l.1-.2l.1-.8l.1,.0l.1,.5l.1,.0l.1-.5l.1,.5l.1,.2l.1-.4l.1-.5l.1-.2l.1,.5l.1,.1l.1-.8l.1,.4l.1-.3l.1-.5l.1,.1l.1,.9l.1,.1l.1,.5l.1-.6l.1,.4l.1,.2l.1-.1l.1-1.0l.1,.3l.1,.0l.1-1.0l.1,.6l.1-.1l.1-.9l.1,.9l.1-1.2l.1-.1l.1-.3l.1-.7l.1,.2l.1-.5l.1,.2l.1-1.2l.1-.9l.1-1.3l.1-1.7l.1-1.0l.1-2.2l.1-.8l.1-2.5l.1-1.1l.1-3.1l.1-2.5l.1-3.3l.1-3.3l.1-3.1l.1-3.6l.1-4.2l.1-3.0l.1-2.1l.1-4.4l.1-2.9l.1-2.5l.1-2.2l.1,.3l.1-.8l.1,.1l.1,1.9l.1,1.8l.1,.6l.1,3.8l.1,3.2l.1,3.6l.1,3.8l.1,3.7l.1,4.3l.1,2.9l.1,2.8l.1,3.4l.1,2.4l.1,2.1l.1,2.1l.1,2.6l.1,.9l.1,1.3l.1,.8l.1,1.3l.1,.8l.1,1.5l.1,.8l.1-.7l.1,1.7l.1,.6l.1-.1l.1-.2l.1,1.1l.1-.8l.1-.1l.1,.3l.1,.8l.1,.5l.1,.3l.1-.5l.1-.5l.1,.8l.1-.4l.1,.5l.1-.7l.1,1.2l.1,.3l.1-1.0l.1,.8l.1-.8l.1-.2l.1,.2l.1,.8l.1,.2l.1-.7l.1,1.1l.1-.8l.1,1.1l.1-.4l.1-.3l.1,.5l.1-.8l.1,.0l.1-.3l.1,.9l.1-.1l.1-.1l.1-.1l.1,1.0l.1-.8l.1-.1l.1,1.1l.1-.1l.1-.5l.1-1.0l.1,.4l.1,.6l.1-.2l.1,1.1l.1-1.8l.1,1.0l.1-.3l.1,.8l.1-1.0l.1,.4l.1-.4l.1-.3l.1,.1l.1,.4l.1-.3l.1,1.3l.1-.1l.1-.7l.1-.7l.1,.6l.1-.3l.1,1.0l.1-.6l.1,.3l.1-.6l.1-1.0l.1,.7l.1-.4l.1,.7l.1-.2l.1-.4l.1,.3l.1,.9l.1-1.0l.1,.3l.1,.7l.1-.4l.1,.3l.1,.6l.1,.5l.1-2.1l.1,.8l.1,.3l.1-.1l.1-.1l.1-.2l.1,.7l.1-.6l.1,.2l.1-.1l.1,.1l.1-.1l.1,.5l.1-.5l.1-.1l.1-.1l.1-.6l.1,.3l.1,.0l.1,.6l.1-.5l.1-.1l.1,.9l.1-.1l.1-1.3l.1,1.7l.1-.7l.1-.1l.1,.6l.1-.3l.1-.3l.1,1.4l.1-1.8l.1,.7l.1,.4l.1-1.2l.1,.5l.1,.3l.1,1.1l.1-1.7l.1,.4l.1,.7l.1-.3l.1-.6l.1,.7l.1-.1l.1,.3l.1,.0l.1,.1l.1-.5l.1,.1l.1-.8l.1,.2l.1,.2l.1-.3l.1,.4l.1-.5l.1,1.0l.1,.7l.1-1.0l.1,.4l.1-.6l.1,.8l.1-.2l.1-.6l.1-.1l.1,.2l.1-.4l.1,.8l.1-.9l.1,.7l.1-.4l.1,.5l.1-.7l.1,.7l.1-.8l.1,1.0l.1-.4l.1,.1l.1,.0l.1,.5l.1-1.5l.1,1.0l.1-1.0l.1,1.6l.1-1.6l.1,.2l.1-.3l.1,1.8l.1-1.3l.1,.8l.1-.3l.1-.6l.1,.8l.1,.5l.1-.7l.1,.4l.1-1.0l.1,.2l.1-.2l.1,.1l.1,1.0l.1-.9l.1,.1l.1-.3l.1-.1l.1,1.4l.1-1.4l.1,.2l.1,.3l.1-.2l.1,1.3l.1-2.4l.1,1.4l.1,.1l.1-.5l.1,.2l.1,.6l.1,.6l.1-.9l.1-.2l.1,1.2l.1,.4l.1-1.0l.1-.9l.1,1.5l.1-1.0l.1,.5l.1-.7l.1-.1l.1,.1l.1,.7l.1-.1l.1-1.5l.1,.6l.1,1.3l.1-1.2l.1-.2l.1,.6l.1-.4l.1,.1l.1,.0l.1,.2l.1-.3l.1,.6l.1-.4l.1,.5l.1-.4l.1,.6l.1-.3l.1-.3l.1,.4l.1-.2l.1,.4l.1-.2l.1,.6l.1-.1l.1-.7l.1-.4l.1,.7l.1,.0l.1-.1l.1-.5l.1-.2l.1,1.3l.1,.2l.1-.2l.1-1.2l.1,.8l.1-.9l.1,.2l.1,.2l.1-.6" fill="none" stroke="#e8101a" stroke-width="0.65" stroke-linejoin="round"/>
<path d="M35.50,188.4l.4-.6l.4,.3l.4,.3l.4-.1l.4,.4l.4,.2l.4-.8l.4,.1l.4-.1l.4,.4l.4,.0l.4-.5l.4-.1l.4-.1l.4,.0l.4,.0l.4,.7l.4-.4l.4-.1l.4,.2l.4-.1l.4-.2l.4-.6l.4,.0l.4,.4l.4,.6l.4-.6l.4,.4l.4,.0l.4-.4l.4,.1l.4,.2l.4-.2l.4-.2l.4,.1l.4,.0l.4,.2l.4-.1l.4-.5l.4,.4l.4,.0l.4-.1l.4,.2l.4-.2l.4,.2l.4,.1l.4-.2l.4,.4l.4-.6l.4-.3l.4,.4l.4,.0l.4-.1l.4-.3l.4,.1l.4,.0l.4,.1l.4,.4l.4-.5l.4,.1l.4,.0l.4-.1l.4-.1l.4,.0l.4-.2l.4,.2l.4-.4l.4,.0l.4,.3l.4-.1l.4,.2l.4,.0l.4,.0l.4-.5l.4,.1l.4,.2l.4,.0l.4-.2l.4,.3l.4-.2l.4-.6l.4,.1l.4,.3l.4-.2l.4,.1l.4,.1l.4,.0l.4,.2l.4-.3l.4-.1l.4-.1l.4-.2l.4-.2l.4,.0l.4,.0l.4,.1l.4,.1l.4-.1l.4,.2l.4-.2l.4-.1l.4,.1l.4,.2l.4-.2l.4-.3l.4,.4l.4,.0l.4-.4l.4-.1l.4,.2l.4-.2l.4,.0l.4,.0l.4,.1l.4-.1l.4-.1l.4-.2l.4,.0l.4,.1l.4-.6l.4,.0l.4,.5l.4-.2l.4-.4l.4,.5l.4,.0l.4-.3l.4,.1l.4,.1l.4,.0l.4,.1l.4-.3l.4,.0l.4,.0l.4-.4l.4-.1l.4,.2l.4-.1l.4-.2l.4,.1l.4-.4l.4,.7l.4-.1l.4-.5l.4,.2l.4-.1l.4-.2l.4,.2l.4-.1l.4,.6l.4-.4l.4,.1l.4-.5l.4,.4l.4-.1l.4,.2l.4,.1l.4-.3l.4,.0l.4-.3l.4-.2l.4,.0l.4,.4l.4-.2l.4,.1l.4-.1l.4,.1l.4-.1l.4,.1l.4-.2l.4,.4l.4-.1l.4-.5l.4-.3l.4,.3l.4,.2l.4,.2l.4-.5l.4,.4l.4,.2l.4-.4l.4,.1l.4,.1l.4-.6l.4,.1l.4,.4l.4-.3l.4,.2l.4-.1l.4,.1l.4-.1l.4,.2l.4,.2l.4,.0l.4-.3l.4,.4l.4-.2l.4,.1l.4-.3l.4-.2l.4-.3l.4,.4l.4-.2l.4,.0l.4-.1l.4,.1l.4-.1l.4,.1l.4,.0l.4,.2l.4-.7l.4,.4l.4-.1l.4,.0l.4-.3l.4,.8l.4,.1l.4-.4l.4-.2l.4-.2l.4,.1l.4,.2l.4-.2l.4,.1l.4-.2l.4,.1l.4-.2l.4,.2l.4,.1l.4-.3l.4,.2l.4,.3l.4,.0l.4,.0l.4-.1l.4,.1l.4,.0l.4,.2l.4-.4l.4-.2l.4-.3l.4,.1l.4-.3l.4-.2l.4-.1l.4,.2l.4,.3l.4,.4l.4,.3l.4,.2l.4-.2l.4,.4l.4-.3l.4-.3l.4,.3l.4,.0l.4-.3l.4,.3l.4,.3l.4-.3l.4,.1l.4-.2l.4-.4l.4,.4l.4,.3l.4-.2l.4,.2l.4,.6l.4,.1l.4-.6l.4,.0l.4-.2l.4-.2l.4,.2l.4,.3l.4,.0l.4-.4l.4,.4l.4-.1l.4-.3l.4,.2l.4,.2l.4-.2l.4,.2l.4-.2l.4-.1l.4,.3l.4-.1l.4-.1l.4,.3l.4-.1l.4-.1l.4,.1l.4,.1l.4-.6l.4,.7l.4,.1l.4-.2l.4,.2l.4-.2l.4,.1l.4,.4l.4-.9l.4,.2l.4,.0l.4,.0l.4,.2l.4,.2l.4,.0l.4-.3l.4,.1l.4-.5l.4,.2l.4-.2l.4,.3l.4-.1l.4-.1l.4,.1l.4,.3l.4-.3l.4,.1l.4,.0l.4,.0l.4,.0l.4-.1l.4,.0l.4-.3l.4-.4l.4,.2l.4-.1l.4-.1l.4,.3l.4,.2l.4,.3l.4,.2l.4-.3l.4,.2l.4-.1l.4,.0l.4,.2l.4-.2l.4,.3l.4,.2l.4-.1l.4,.0l.4-.2l.4,.0l.4-.3l.4,.3l.4,.0l.4-.4l.4,.1l.4,.4l.4-.8l.4-.1l.4,.3l.4-.1l.4-.4l.4-.2l.4,1.0l.4-.4l.4,.4l.4,.1l.4,.2l.4-.4l.4-.1l.4,.0l.4,.2l.4,.4l.4-.3l.4-.1l.4,.3l.4-.1l.4,.0l.4,.2l.4-.2l.4,.1l.4-.7l.4-.1l.4,.8l.4-.5l.4-.5l.4,.1l.4,.4l.4-.2l.4,.1l.4,.0l.4-.4l.4-.3l.4-.1l.4,.4l.4,.2l.4-.2l.4,.0l.4-.1l.4-.2l.4,.1l.4-.3l.4-.2l.4,.1l.4-.1l.4,.0l.4-.3l.4-.1l.4,.0l.4,.2l.4,.2l.4,.0l.4-.3l.4,.0l.4,.1l.4,.2l.4-.1l.4-.1l.4,.0l.4,.0l.4,.4l.4-.2l.4-.1l.4-.3l.4,.9l.4-.2l.4-.2l.4-.1l.4-.1l.4,.0l.4,.2l.4-.6l.4,.2l.4,.8l.4,.1l.4-.3l.4,.7l.4-.1l.4-.1l.4,.2l.4-.1l.4,.1l.4,.3l.4,.0l.4-.4l.4,.3l.4,.2l.4-.2l.4-.2l.4,.4l.4-.3l.4-.3l.4,.3l.4,.3l.4-.2l.4,.3l.4,.2l.4,.1l.4-.2l.4,.1l.4-.4l.4,.3l.4-.1l.4,.3l.4-.1l.4-.1l.4-.1l.4,.3l.4-.5l.4-.3l.4,.3l.4,.2l.4-.5l.4,.6l.4-.4l.4,.2l.4,.2l.4-.5l.4,.0l.4,.5l.4-.3l.4,.0l.4,.1l.4-.1l.4-.3l.4,.1l.4,.3l.4-.1l.4,.0l.4-.5l.4,.0l.4,.4l.4-.1l.4-.6l.4,.0l.4-.1l.4,.4l.4,.0l.4-.4l.4-.1l.4,.2l.4-.1l.4,.2l.4-.2l.4-.2l.4-.4l.4,.3l.4,.1l.4,.2l.4,.1l.4-.4l.4,.5l.4,.3l.4-.4l.4-.4l.4-.4l.4,.1l.4,.2l.4,.2l.4,.0l.4,.0l.4,.5l.4,.0l.4,.0l.4-.7l.4,.2l.4,.2l.4,.3l.4,.0l.4-.3l.4,.4l.4-.2l.4,.1l.4-.2l.4,.1l.4-.1l.4-.1l.4-.3l.4,.5l.4-.3l.4-.1l.4,.7l.4,.0l.4-.2l.4,.0l.4-.3l.4,.3l.4,.3l.4-.6l.4,.2l.4,.0l.4,.2l.4,.0l.4,.1l.4,.0l.4-.3l.4,.5l.4-.3l.4,.1l.4-.2l.4-.1l.4,.2l.4,.2l.4-.4l.4,.1l.4-.1l.4,.1l.4,.4l.4-.4l.4-.2l.4,.3l.4-.6l.4,.5l.4,.2l.4-.1l.4,.1l.4,.0l.4,.0l.4-.1l.4,.0l.4,.0l.4,.5l.4,.1l.4-.5l.4-.2l.4,.2l.4,.2l.4,.2l.4-.1l.4-.6l.4,.0l.4,.3l.4-.2l.4-.1l.4-.2l.4,.3l.4,.3l.4-.6l.4,.2l.4,.2l.4-.3l.4-.2l.4,.5l.4-.1l.4-.2l.4,.2l.4-.4l.4,.7l.4-.1l.4-.3l.4-.2l.4-.1l.4,.3l.4-.7l.4,.2l.4-.1l.4,.5l.4,.0l.4-.2l.4,.1l.4-.1l.4-.2l.4,.3l.4,.2l.4-.5l.4-.2l.4,.0l.4,.7l.4-.1l.4-.3l.4-.1l.4,.1l.4-.2l.4,.0l.4-.2l.4-.2l.4,.0l.4-.4l.4-.2l.4-.5l.4-.8l.4-1.2l.4-.7l.4-.6l.4,.1l.4,.8l.4,.7l.4,.8l.4,.8l.4,.5l.4,.2l.4,.6l.4-.1l.4,.1l.4,.2l.4,.1l.4-.1l.4-.1l.4,.0l.4,.1l.4,.0l.4-.2l.4,.1l.4,.1l.4-.1l.4-.2l.4,.5l.4,.0l.4-.2l.4-.1l.4,.3l.4-.3l.4-.2l.4,.2l.4,.0l.4,.0l.4-.3l.4,.3l.4,.0l.4,.1l.4,.2l.4-.1l.4-.1l.4-.1l.4-.2l.4,.2l.4,.1l.4-.4l.4,.3l.4,.4l.4-.6l.4,.3l.4,.1l.4-.3l.4,.0l.4-.1l.4,.2l.4-.1l.4,.1l.4,.0l.4,.3l.4,.2l.4-.4l.4,.1l.4-.2l.4,.0l.4,.2l.4,.3l.4-.2l.4-.3l.4-.1l.4-.1l.4,.2l.4,.0l.4,.0l.4,.2l.4,.2l.4-.3l.4,.0l.4-.3l.4,.3l.4,.2l.4-.5l.4,.1l.4-.2l.4,.2l.4,.4l.4,.0l.4-.1l.4,.2l.4-.3l.4,.1l.4-.1l.4-.2l.4-.1l.4,.4l.4-.2l.4,.0l.4-.1l.4,.1l.4-.2l.4,.0l.4-.1l.4-.2l.4,.4l.4,.0l.4-.2l.4,.1l.4-.3l.4,.0l.4-.2l.4,.6l.4,.5l.4-.5l.4-.4l.4,.3l.4,.2l.4-.3l.4,.0l.4,.5l.4-.5l.4-.1l.4,.4l.4,.1l.4-.6l.4-.1l.4,.1l.4,.1l.4-.1l.4,.1l.4,.0l.4-.1l.4-.3l.4,.3l.4,.0l.4-.1l.4,.0l.4,.3l.4-.3l.4-.4l.4-.2l.4,.1l.4,.1l.4,.4l.4-.5l.4-.2l.4,.1l.4,.1l.4,.2l.4-.1l.4-.5l.4,.5l.4-.3l.4,.4l.4,.1l.4-.4l.4,.3l.4-.1l.4-.3l.4,.0l.4,.0l.4,.2l.4-.1l.4-.4l.4,.2l.4-.1l.4-.2l.4,.5l.4,.3l.4-.4l.4-.1l.4,.1l.4,.0l.4,.2l.4-.1l.4,.0l.4-.3l.4-.2l.4,.2l.4,.5l.4-.4l.4-.4l.4,.4l.4,.3l.4,.0l.4,.2l.4-.1l.4-.1l.4,.0l.4,.1l.4-.4l.4,.0l.4,.3l.4,.1l.4-.3l.4,.2l.4,.1l.4-.2l.4,.0l.4,.3l.4-.1l.4,.2l.4,.0l.4-.5l.4,.1l.4,.2l.4-.1l.4,.2l.4,.2l.4-.5l.4,.0l.4,.2l.4,.1l.4,.2l.4-.1l.4,.0l.4,.3l.4,.0l.4-.2l.4-.1l.4,.0l.4,.3l.4,.0l.4,.0l.4-.2l.4,.2l.4,.1l.4-.4l.4,.2l.4,.4l.4-.3l.4-.2l.4,.0l.4,.0l.4,.1" fill="none" stroke="#2af02a" stroke-width="1.0" stroke-linejoin="round"/><path d="M35.50,188.3l.1-.2l.1,.1l.1-.3l.1-.1l.1,.4l.1-.5l.1,.1l.1,.2l.1,.3l.1,.2l.1-.3l.1,.6l.1,.2l.1-.3l.1-.6l.1-.4l.1,.4l.1,.2l.1,.5l.1-.2l.1-.1l.1,.7l.1-.6l.1,.7l.1-.4l.1-.9l.1,.5l.1-.6l.1-.2l.1-.2l.1-.2l.1,1.0l.1-.5l.1,.5l.1-.6l.1,.3l.1,.1l.1-.4l.1,.1l.1,.8l.1,.0l.1-.3l.1,.4l.1,.0l.1,.3l.1-1.1l.1,.5l.1,.3l.1-.8l.1,.6l.1-1.5l.1,1.4l.1-.5l.1-.6l.1,.9l.1-.1l.1,.1l.1-.1l.1-.3l.1-.2l.1,.0l.1,.2l.1,.2l.1-.3l.1,.3l.1,.5l.1,.0l.1,.7l.1,.0l.1-1.0l.1-.1l.1-.4l.1-.1l.1,.6l.1-.4l.1-.1l.1,.4l.1,.4l.1-.2l.1-.2l.1,.4l.1-.1l.1-.2l.1,.2l.1-.8l.1,.4l.1-.5l.1,.8l.1-.1l.1-.8l.1,.5l.1-1.0l.1,.9l.1-.4l.1-.5l.1,.0l.1,.4l.1,.4l.1-.1l.1,.3l.1-.4l.1,.7l.1,.2l.1-.8l.1,.6l.1-.7l.1-.7l.1,.7l.1,.0l.1,.5l.1-.4l.1,1.0l.1,.1l.1-.2l.1,.1l.1-.4l.1-.5l.1,.3l.1,.1l.1-.4l.1-.1l.1-.5l.1,1.1l.1-.3l.1-.5l.1,.6l.1,.2l.1-.3l.1,.2l.1,.2l.1-.9l.1,.3l.1,.2l.1,.2l.1,.2l.1-1.4l.1,.7l.1,.4l.1,.2l.1,.1l.1-1.1l.1,.4l.1-.1l.1,.5l.1-.6l.1,.9l.1,.2l.1-.4l.1-.8l.1,.6l.1,.1l.1-.7l.1,.3l.1,.0l.1,.2l.1-.4l.1,.2l.1-.3l.1,.1l.1,.2l.1,.3l.1-.2l.1,.3l.1-.9l.1,1.1l.1-.7l.1,.4l.1-.2l.1,.3l.1,.2l.1-.6l.1,.2l.1,.0l.1-.1l.1-.7l.1,.6l.1-.1l.1-.2l.1,.2l.1-.2l.1,1.0l.1-.1l.1,.3l.1-.9l.1-.1l.1,.2l.1-.5l.1,.5l.1-.3l.1,.2l.1,.2l.1,.3l.1,.4l.1-.6l.1-.8l.1,.7l.1-1.0l.1,.3l.1-.4l.1,.2l.1,.8l.1-.5l.1,.1l.1,.1l.1,.1l.1,.5l.1-.9l.1,.1l.1,.6l.1-.8l.1,.3l.1,.5l.1-.4l.1-.4l.1-.1l.1,.0l.1,.2l.1,.1l.1,.4l.1,.0l.1-.6l.1,.1l.1,.4l.1-.8l.1,.6l.1-.1l.1-.2l.1,.0l.1,.6l.1-.5l.1,.2l.1,.2l.1,.3l.1-.8l.1,.6l.1-.5l.1,.0l.1-.1l.1-.1l.1,.2l.1,.8l.1-.4l.1-.2l.1,.4l.1-.5l.1,.5l.1-.3l.1-.4l.1,.5l.1-.7l.1,.7l.1-.7l.1,.6l.1,.4l.1-.2l.1-.6l.1,.1l.1-.1l.1-.3l.1-.1l.1,.4l.1,.4l.1-.8l.1,.6l.1,.1l.1-.2l.1-.5l.1,.5l.1-.8l.1,.7l.1,.2l.1-1.2l.1,1.0l.1,.1l.1,.0l.1-.3l.1,.1l.1-.4l.1,.4l.1,.2l.1-.4l.1-.2l.1,.5l.1,.2l.1,.1l.1-.2l.1,.1l.1-.5l.1-.5l.1,1.2l.1,.3l.1-1.0l.1,.2l.1,.2l.1,.0l.1-.2l.1,.3l.1-.5l.1,.2l.1,.0l.1-.1l.1,.5l.1-.1l.1,.1l.1-.4l.1,.5l.1-.7l.1,.4l.1-1.3l.1,.6l.1,.6l.1-.4l.1,.2l.1-.6l.1,1.2l.1-.1l.1-.3l.1,.1l.1,.1l.1,.2l.1-.5l.1-.8l.1,.2l.1,.4l.1-.5l.1-.2l.1,.4l.1,.0l.1,.3l.1-.7l.1,.4l.1,.5l.1-.4l.1,.2l.1,.5l.1-.9l.1,.3l.1-.3l.1,.1l.1,.2l.1-.3l.1-.3l.1,1.0l.1-.4l.1,.3l.1-.3l.1,.1l.1,.2l.1,.1l.1-.7l.1,.9l.1-.7l.1,.3l.1,.6l.1-.8l.1,.5l.1-.8l.1,.3l.1-.3l.1,.3l.1-.4l.1,.1l.1,.3l.1-.8l.1,.2l.1,.4l.1-.4l.1-.1l.1-.2l.1,.5l.1-.2l.1,.0l.1-.1l.1,.8l.1-.9l.1-.6l.1,.9l.1,.2l.1-.1l.1-.8l.1,1.0l.1-.4l.1,.0l.1-.5l.1,.7l.1-.1l.1,.3l.1-.4l.1-.5l.1,.5l.1-.3l.1,.5l.1-.3l.1,.3l.1,.0l.1,.1l.1-.2l.1-.2l.1,.1l.1-.1l.1,.2l.1-.2l.1-.7l.1,.8l.1,.5l.1-.5l.1,.2l.1,.0l.1-.3l.1-.1l.1,.6l.1,.3l.1-.3l.1,.0l.1-.1l.1-.3l.1,.0l.1-.1l.1,.1l.1-.6l.1,.2l.1,.4l.1,.1l.1-.7l.1,.9l.1-.7l.1,1.4l.1-.6l.1-.1l.1-.6l.1-.3l.1,.3l.1-.1l.1-.1l.1,.4l.1,.0l.1,.0l.1-.4l.1-.2l.1,.5l.1-.4l.1,.5l.1,.6l.1-.3l.1-.5l.1,.3l.1,.3l.1-.6l.1-.1l.1,.2l.1-.1l.1-.1l.1-.1l.1,.3l.1-.2l.1,.5l.1-.5l.1,.5l.1,.0l.1-.9l.1,.9l.1-.5l.1,.5l.1-.4l.1-.3l.1,.2l.1-.4l.1,.3l.1,.0l.1-.1l.1,.2l.1-.5l.1,.5l.1-.6l.1,.6l.1,.0l.1,.0l.1-.4l.1,.8l.1-1.2l.1,.1l.1-.3l.1,.8l.1-.7l.1,.8l.1-.6l.1,.6l.1-.2l.1,.4l.1-.3l.1-.5l.1,.4l.1-.6l.1,.0l.1,.6l.1-1.2l.1,1.0l.1-.3l.1,.1l.1,.4l.1,.2l.1-.3l.1,.1l.1,.3l.1-.3l.1-.3l.1-.3l.1,.0l.1,.1l.1,.4l.1,.1l.1-.1l.1,.4l.1-.7l.1,.0l.1,.1l.1,.7l.1-1.2l.1,.8l.1,.0l.1,.0l.1,.8l.1-.4l.1-.1l.1-.8l.1,.6l.1-.6l.1,.2l.1-.2l.1-.4l.1,.7l.1,.4l.1-.2l.1-.2l.1-.8l.1,1.1l.1-.2l.1-.4l.1-.1l.1,.1l.1-.3l.1,.3l.1-.5l.1-.1l.1,.4l.1-.4l.1,.4l.1,.3l.1-.6l.1,.6l.1-.6l.1,.5l.1-.2l.1-.4l.1,.0l.1-.3l.1,.2l.1,.1l.1,.8l.1-.2l.1-1.1l.1,.7l.1-.2l.1-.2l.1,.4l.1,.1l.1-.1l.1,.3l.1,.2l.1-.4l.1,.3l.1-.1l.1-.5l.1-.2l.1,.4l.1,.0l.1-.2l.1-.3l.1,.6l.1,.0l.1,.1l.1,.2l.1-.7l.1,.1l.1-.1l.1-.3l.1,1.0l.1-.4l.1-.7l.1,.7l.1-.3l.1,.6l.1-.6l.1-.1l.1,.1l.1,.2l.1,.0l.1,.0l.1,.3l.1,.4l.1-.8l.1,.1l.1,.0l.1,.0l.1,.3l.1-.7l.1,.4l.1-.1l.1,.2l.1-.6l.1,.2l.1,.1l.1-.7l.1,.9l.1-.3l.1,.3l.1,.1l.1,.2l.1,.1l.1,.2l.1-.6l.1-.1l.1,.1l.1,.4l.1,.1l.1-.2l.1-.3l.1,.4l.1-.2l.1,.0l.1-.3l.1-.7l.1,.6l.1,.4l.1-.1l.1-.8l.1,.6l.1-.7l.1,1.2l.1-.7l.1-.6l.1,.6l.1-.4l.1,.4l.1-.2l.1-.4l.1,.7l.1-.7l.1,.9l.1-.3l.1-.2l.1-.2l.1,1.0l.1,.0l.1-1.0l.1,.9l.1-.3l.1-.2l.1,.2l.1-.2l.1,.5l.1-.5l.1-.6l.1,1.2l.1-.4l.1-.6l.1,.3l.1-.1l.1,.2l.1-.1l.1-.1l.1,.0l.1,.0l.1,.5l.1-.4l.1,1.0l.1-1.0l.1,.4l.1-.3l.1-.4l.1,.9l.1-.3l.1-.5l.1,.5l.1,.4l.1-.7l.1,.8l.1-.3l.1-.3l.1,.2l.1,.0l.1-.4l.1-.1l.1,.3l.1-.3l.1-.7l.1,.4l.1,.0l.1-.2l.1-.1l.1,1.0l.1-.3l.1,.0l.1,.5l.1-.5l.1,.2l.1,.0l.1-.2l.1,.0l.1,.2l.1-.4l.1,.3l.1-.5l.1,.3l.1-.3l.1,.5l.1-.1l.1,.7l.1-.2l.1,.0l.1,.4l.1-.1l.1-.5l.1-.6l.1-.2l.1,.5l.1-.2l.1-.1l.1,.2l.1,.0l.1,.7l.1-.9l.1,.1l.1,.3l.1-.8l.1,.5l.1,.1l.1-.4l.1-.2l.1,.2l.1-.3l.1,1.2l.1-.3l.1-.3l.1-.4l.1,.6l.1,.3l.1-1.1l.1,.3l.1-.3l.1,1.0l.1-.3l.1,.7l.1-.8l.1-.3l.1,.1l.1,.5l.1-.9l.1,.8l.1,.0l.1-.3l.1-.3l.1,.7l.1,.3l.1-.8l.1,.3l.1,.5l.1-.6l.1,.0l.1-.3l.1,.5l.1,.2l.1-.1l.1-.3l.1-.3l.1,.2l.1,.0l.1,.2l.1-.3l.1,.0l.1,.6l.1,.1l.1-.4l.1,.2l.1,.4l.1-.2l.1-.4l.1,.3l.1-.1l.1,.3l.1-.6l.1,.7l.1-.3l.1-.7l.1,.8l.1-.1l.1-.8l.1,1.0l.1-1.0l.1,.0l.1,.0l.1,.2l.1,.0l.1-.3l.1,.6l.1-.1l.1,.3l.1,.6l.1-.9l.1-1.1l.1,.7l.1-.2l.1,.3l.1,.1l.1-.5l.1,.1l.1,.2l.1,.2l.1-.8l.1,1.0l.1-.3l.1,.2l.1,.0l.1-.4l.1,.3l.1,.5l.1,.1l.1-.5l.1-.2l.1-.1l.1,.7l.1-.3l.1-.3l.1-.5l.1,.5l.1-.5l.1,1.3l.1-.4l.1-.3l.1,.1l.1,.8l.1-.7l.1-1.0l.1,.3l.1-.3l.1,.0l.1,.7l.1,.8l.1-.3l.1-.4l.1-.1l.1,.0l.1,.3l.1-.8l.1-.1l.1,1.2l.1-.8l.1,.4l.1-.5l.1,.4l.1-.6l.1,.6l.1,.7l.1,.0l.1-.3l.1,.5l.1-.7l.1-.3l.1,.4l.1,.3l.1-.4l.1-.6l.1,.7l.1-.2l.1-.3l.1-.8l.1,1.2l.1-.1l.1-.2l.1-.9l.1,.0l.1,1.1l.1-.1l.1-.1l.1-.1l.1,.3l.1-.3l.1,.0l.1-.4l.1,.3l.1-.2l.1,.5l.1,.0l.1-.7l.1,1.0l.1-.9l.1,.4l.1,.3l.1-.1l.1-1.2l.1,1.3l.1-.1l.1,.2l.1-1.3l.1,.5l.1,.2l.1-.3l.1,.7l.1-.8l.1,.6l.1-.1l.1-.5l.1,.4l.1,.1l.1,.0l.1,.4l.1-.5l.1,.3l.1-1.0l.1-.4l.1,1.1l.1,.2l.1-.1l.1-.3l.1,.5l.1,.7l.1-.8l.1-.1l.1-.1l.1,1.1l.1-.6l.1,.1l.1,.3l.1,.1l.1-.9l.1,.7l.1-.1l.1-.1l.1,.2l.1-.7l.1,.2l.1-.1l.1,.5l.1-.5l.1,.3l.1-.5l.1,.4l.1-.1l.1,.0l.1,.2l.1-.1l.1,.1l.1-.7l.1,1.0l.1-.8l.1,.1l.1-.1l.1,.4l.1-.7l.1,.5l.1,.1l.1,.0l.1-.3l.1-.1l.1-.5l.1,.8l.1,.0l.1-.1l.1,.0l.1-.4l.1-.4l.1,.6l.1,.0l.1-1.0l.1,.8l.1-.3l.1,.2l.1-.4l.1,.3l.1,.1l.1-.2l.1-.6l.1,.8l.1-.2l.1-.5l.1,.8l.1-.7l.1,1.0l.1,.3l.1-.6l.1,.8l.1-.2l.1,.2l.1-.9l.1,.8l.1,.0l.1,.1l.1,.0l.1,.4l.1-.2l.1-.1l.1,.0l.1-.1l.1,.2l.1-.1l.1,.0l.1-.2l.1,.6l.1,.0l.1-.5l.1,.1l.1,.0l.1-.6l.1,.4l.1,.4l.1-.7l.1-.4l.1,.6l.1-.2l.1,1.0l.1-.6l.1,.1l.1-.3l.1,.3l.1-.2l.1-.3l.1,.2l.1-.3l.1,1.0l.1-.9l.1,.2l.1,.0l.1-.1l.1,1.1l.1-1.3l.1,1.3l.1-.9l.1,.4l.1,.6l.1-1.6l.1,.2l.1,.9l.1-.4l.1-.1l.1,.2l.1-.4l.1,.3l.1,.4l.1-.8l.1,.1l.1,.3l.1,.2l.1-.9l.1,.5l.1-.1l.1,.0l.1,.2l.1,.0l.1-.2l.1-.1l.1,.4l.1,.2l.1,.3l.1-.7l.1,.1l.1,.2l.1,.2l.1-.1l.1,.1l.1,.9l.1-.7l.1,.2l.1-.4l.1,.8l.1-.2l.1,.7l.1-.7l.1,.1l.1,.0l.1-.1l.1-1.0l.1,1.0l.1-.6l.1,.0l.1-.3l.1,.1l.1,.1l.1-.9l.1,.9l.1-.2l.1-.2l.1,.1l.1,.9l.1-.5l.1-.2l.1,.6l.1-.8l.1,.5l.1-.2l.1,.1l.1,.3l.1,.2l.1-.6l.1,.2l.1,.0l.1-.4l.1,.0l.1-.2l.1,.2l.1,.0l.1-.3l.1,.8l.1,.0l.1-.4l.1,.0l.1,.0l.1,.0l.1-.1l.1-.1l.1-.2l.1,.8l.1-.1l.1-.2l.1,.3l.1-.2l.1-.1l.1,.2l.1,.9l.1-.6l.1,.0l.1-.5l.1,.2l.1,.8l.1-.7l.1,.2l.1,.1l.1-.3l.1,.5l.1-.7l.1,.1l.1-.5l.1,1.1l.1-.9l.1,.1l.1,.4l.1-.7l.1,.3l.1-.1l.1,.3l.1-.5l.1,.5l.1-.1l.1-.3l.1-.2l.1,.1l.1,.1l.1,.5l.1-.1l.1,.0l.1-.3l.1,.7l.1-.7l.1,.5l.1-.2l.1-.2l.1,.0l.1-.1l.1,.9l.1-.7l.1,.1l.1,.5l.1-.3l.1,.3l.1-.5l.1-.1l.1,1.3l.1-1.2l.1-.1l.1,.0l.1,.0l.1-.6l.1,.7l.1,.1l.1,.4l.1-.1l.1,.0l.1-.3l.1-.6l.1,.9l.1-.8l.1,.5l.1,.6l.1-.7l.1,.4l.1-.2l.1,.3l.1-.3l.1-.1l.1,.5l.1-.5l.1-.6l.1,.4l.1,.5l.1-.6l.1,.9l.1,.2l.1,.7l.1-1.2l.1,.3l.1-1.1l.1,.3l.1-.1l.1,.0l.1,.0l.1-.1l.1,.0l.1,.2l.1,.4l.1,.0l.1-.2l.1,.2l.1,.1l.1-1.0l.1,.3l.1,.2l.1,.0l.1,.5l.1-.1l.1-.4l.1,.2l.1,.4l.1-.3l.1,.0l.1,.3l.1,.0l.1,.3l.1-.3l.1-.3l.1-.4l.1-.1l.1,.1l.1-.7l.1,1.0l.1,.4l.1-.5l.1-.2l.1,.5l.1-.7l.1,.4l.1,.5l.1-.5l.1,.1l.1-.2l.1,.0l.1-.1l.1-.2l.1,.3l.1-.8l.1,.5l.1,.4l.1-.7l.1,.0l.1-.5l.1,.0l.1-.3l.1-.3l.1-.8l.1-.9l.1-.1l.1-.3l.1,.1l.1-1.2l.1,.9l.1-.4l.1,1.3l.1,.4l.1,.4l.1,.5l.1,.3l.1,.0l.1,.7l.1,.6l.1-.2l.1,.3l.1-.4l.1,1.0l.1-.7l.1-.1l.1,.1l.1-.2l.1,.3l.1,.5l.1,.0l.1,.1l.1,.0l.1-.8l.1,.4l.1,.3l.1,.2l.1-1.2l.1,.0l.1,.7l.1-.2l.1-.6l.1,.2l.1-.7l.1-1.1l.1,.2l.1-.9l.1-.6l.1-.9l.1-1.3l.1-.9l.1-1.2l.1-1.2l.1-.1l.1,.3l.1,.1l.1,.9l.1,.0l.1,.5l.1,1.9l.1,1.1l.1,.0l.1,.4l.1,1.5l.1,.8l.1,.0l.1,.6l.1,.1l.1,.4l.1-.1l.1,.7l.1-.1l.1-.3l.1-.4l.1,1.5l.1-.8l.1,.2l.1-.3l.1,.6l.1-.9l.1,.5l.1-.1l.1,.3l.1-.7l.1,.1l.1,.5l.1,.6l.1-1.2l.1,.5l.1-.2l.1,.5l.1-.1l.1-.1l.1,.0l.1,.2l.1-.4l.1,.1l.1-.3l.1,.4l.1-.1l.1-.1l.1,.4l.1,.0l.1-.1l.1,.3l.1-1.0l.1,1.1l.1-.1l.1-.1l.1-.3l.1,.6l.1-.1l.1-.1l.1-.2l.1,.1l.1,.2l.1,.3l.1-.1l.1-.3l.1-.1l.1,.1l.1-.2l.1-.1l.1,.4l.1-.5l.1-.2l.1,.3l.1-.3l.1-.1l.1-.6l.1,.9l.1-.1l.1,.1l.1,.2l.1,.1l.1-.2l.1,.8l.1-1.0l.1,.4l.1,.1l.1-1.0l.1,.3l.1-.4l.1,.8l.1-.4l.1-.2l.1,1.2l.1-.3l.1-.6l.1,.8l.1-.4l.1,.7l.1-.8l.1-.8l.1,.0l.1-.4l.1,.1l.1-.1l.1,.3l.1-.5l.1-.9l.1-.2l.1,.5l.1-.7l.1-1.3l.1-.5l.1-.3l.1-.2l.1-1.0l.1,.9l.1-.3l.1,.6l.1-.5l.1,1.4l.1,1.3l.1-.4l.1,1.8l.1,.3l.1-.3l.1-.1l.1,.9l.1-.1l.1,.0l.1-.2l.1,.1l.1,.6l.1-.5l.1,.5l.1-.7l.1,.3l.1-.3l.1,1.1l.1-1.0l.1,.3l.1,.4l.1-.3l.1,.8l.1-.3l.1-.5l.1-.2l.1-.7l.1,.4l.1,.1l.1,.0l.1-.3l.1,.1l.1,.3l.1,.5l.1,.0l.1-.3l.1,.1l.1,.3l.1-.4l.1,.4l.1-.7l.1,.8l.1,.0l.1-.1l.1-.1l.1-.2l.1,.5l.1-.4l.1-.5l.1,.0l.1,.7l.1,.3l.1-.2l.1,.2l.1-.3l.1-.6l.1,.2l.1-.4l.1,.6l.1-.4l.1,.6l.1-.1l.1-.4l.1,.9l.1,.0l.1-.9l.1,.5l.1,.1l.1-.4l.1,.6l.1-.5l.1,.5l.1-.4l.1-.1l.1-.1l.1-.1l.1-.2l.1-.4l.1-.2l.1,.3l.1,.1l.1,.4l.1,.3l.1,.0l.1,.0l.1,.0l.1,.3l.1-.3l.1-.7l.1,.1l.1-.3l.1-.1l.1,.2l.1-.1l.1-.3l.1-.4l.1,1.1l.1,.5l.1-.7l.1,.5l.1-.2l.1,.3l.1-.5l.1-.1l.1-.1l.1-.5l.1,.6l.1,.1l.1-.7l.1,1.1l.1,.0l.1-.2l.1,.1l.1-.6l.1-.4l.1,.2l.1-.1l.1,.8l.1-.3l.1-.7l.1,.1l.1,.3l.1,.0l.1-.6l.1,.2l.1,.9l.1-.2l.1-.8l.1,.1l.1,.5l.1,.2l.1,.2l.1-.3l.1-.5l.1,.5l.1,.1l.1-.2l.1-.1l.1,.3l.1-.2l.1-.3l.1,.4l.1-.5l.1,.7l.1-.3l.1-.7l.1,.4l.1,.4l.1-1.2l.1,.7l.1,.6l.1-.9l.1,.4l.1-.6l.1,.5l.1-.9l.1,.3l.1,.2l.1,.2l.1,.0l.1,.1l.1,.5l.1-.4l.1,.1l.1-.6l.1,.6l.1,1.0l.1-.6l.1-.4l.1,.1l.1,.0l.1-.6l.1,.9l.1-.9l.1-.1l.1,.6l.1-1.4l.1,.7l.1-.9l.1,.6l.1,.3l.1-.2l.1,.0l.1-.3l.1,.2l.1-.4l.1,.3l.1-.2l.1,.6l.1-.6l.1,.7l.1-.3l.1-.1l.1,.4l.1-.2l.1-.9l.1,.7l.1-1.5l.1,1.0l.1-.4l.1-.8l.1,.5l.1-.5l.1,.7l.1-1.2l.1,.6l.1-.6l.1-1.3l.1-.7l.1,.0l.1-1.3l.1-1.1l.1-1.4l.1-1.8l.1-1.4l.1-2.3l.1-2.5l.1-1.6l.1-1.7l.1-2.5l.1-3.0l.1-2.3l.1-2.2l.1-2.0l.1-2.1l.1-1.7l.1-.6l.1,.0l.1,1.0l.1-.1l.1,1.0l.1,2.8l.1,1.6l.1,2.5l.1,2.8l.1,2.0l.1,1.9l.1,2.2l.1,2.9l.1,1.6l.1,2.2l.1,1.0l.1,1.8l.1,.9l.1,1.9l.1,1.1l.1,1.3l.1,1.2l.1,.0l.1,.2l.1,1.2l.1-.2l.1,.4l.1,.1l.1,.4l.1,.0l.1-.2l.1,.2l.1-.5l.1,.2l.1,.2l.1,.3l.1,.0l.1,.0l.1-.2l.1-.2l.1-.1l.1,.9l.1-.1l.1-.3l.1,.6l.1-.1l.1-.2l.1-.9l.1,.3l.1,.0l.1,.7l.1-.8l.1,.2l.1-.1l.1,.4l.1,.6l.1-.8l.1,.0l.1,1.4l.1-.1l.1-.4l.1,.5l.1,.0l.1-1.2l.1,.6l.1,.4l.1-.4l.1,.2l.1,.7l.1-.3l.1-.3l.1,.2l.1-.5l.1,.8l.1-.9l.1,.9l.1-1.0l.1,.7l.1-.3l.1,.3l.1,.6l.1,.0l.1,.1l.1-.6l.1,.0l.1,.1l.1,.1l.1-.3l.1,.5l.1-.2l.1,.5l.1-.2l.1,.1l.1-.5l.1,.3l.1-.3l.1,.3l.1-.1l.1,.5l.1-1.0l.1,1.4l.1-1.3l.1,.7l.1-.1l.1-1.2l.1,.9l.1,.7l.1-1.2l.1,.9l.1-.5l.1,.1l.1,.3l.1-.9l.1,.8l.1-.3l.1-.2l.1,.6l.1,.8l.1-1.0l.1,.2l.1-.1l.1-.2l.1,.3l.1,.6l.1-.6l.1,.0l.1-.6l.1,1.0l.1-1.4l.1,.6l.1,.0l.1,.1l.1-.3l.1-.1l.1,.5l.1,.2l.1-.4l.1,.1l.1,.5l.1,.1l.1-.8l.1,.0l.1,.0l.1,1.3l.1-.8l.1,.1l.1,.3l.1,.6l.1-.3l.1-1.0l.1,.7l.1-.1l.1,.1l.1-.5l.1,.3l.1-.2l.1,.4l.1-.2l.1-.6l.1,.2l.1,.3l.1,.4l.1-.1l.1-.3l.1-1.2l.1,.8l.1,.0l.1,.1l.1-.2l.1,.4l.1,.0l.1,1.1l.1-.8l.1-.3l.1,.1l.1,.0l.1,.2l.1-.1l.1,.3l.1,.2l.1-.1l.1-.2l.1,.3l.1-.4l.1-.5l.1-.2l.1,.3l.1,.1l.1,.2l.1,.3l.1-.4l.1,.0l.1,.4l.1,.3l.1-.7l.1,.3l.1,.0l.1-.4l.1-.2l.1-.8l.1,1.1l.1-.3l.1-.1l.1-.1l.1-.2l.1,.5l.1,.1l.1,.6l.1-.8l.1,.8l.1-.6l.1,.3l.1-.8l.1,.2l.1,.5l.1-.2l.1-.4l.1,.5l.1,.1l.1-.7l.1-.1l.1,.4l.1-.4l.1,.4l.1-.3l.1-.1l.1,.4l.1,.8l.1-.8l.1,.4l.1-.2l.1-.6l.1,.9l.1-.5l.1-.1l.1-.8l.1-.1l.1,.0l.1,.8l.1,.1l.1,.7l.1,.3l.1-.4l.1-.2l.1,.2l.1,.2l.1-1.0l.1,.4l.1-.3l.1,.1l.1,.4l.1-.6l.1-.1l.1,.8l.1-.4l.1-.3l.1,.1l.1,.5l.1-.6l.1,.4l.1-.3l.1,.5l.1,.0l.1-.2l.1-.2l.1,.1l.1-.1l.1,1.4l.1-1.1l.1,.2l.1,.2l.1-.9l.1,.3l.1,.0l.1-.3l.1-.1l.1,.2l.1,.8l.1-.5l.1-.3l.1-.2l.1-.6l.1,.9l.1-.4l.1-.4l.1,.5l.1,.0l.1,.0l.1-.1l.1,.2l.1-.1l.1,.5l.1-.1l.1,.0l.1-.4l.1-.1l.1,.6l.1-1.5l.1,1.0l.1-.1l.1,.0l.1-.3l.1,.0l.1-.4l.1,.0l.1,.4l.1-.7l.1,1.1l.1,.2l.1-1.4l.1,.7l.1,.6l.1,.1l.1-.1l.1,.0l.1-.1l.1-.1l.1,.3l.1-.8l.1,.3l.1-.9l.1,.5l.1-.5l.1,1.0l.1,.3l.1-.6l.1-.8l.1,.3l.1,.0l.1-.1l.1,.2l.1-.3l.1-1.2l.1,1.4l.1-.9l.1-.4l.1,.2l.1-1.1l.1-.9l.1-.6l.1-.3l.1-.6l.1-.7l.1-1.5l.1-1.5l.1-.8l.1-1.8l.1-.6l.1-2.0l.1-1.6l.1-1.5l.1-1.2l.1-1.9l.1-1.5l.1-.7l.1-1.0l.1-.2l.1-.3l.1,.0l.1,.8l.1,.7l.1,1.8l.1,.6l.1,1.1l.1,1.7l.1,1.7l.1,1.3l.1,1.6l.1,1.7l.1,1.6l.1,1.4l.1,1.3l.1,.3l.1,1.2l.1,.0l.1,1.9l.1,.6l.1,.6l.1-.1l.1,.7l.1-.1l.1-.1l.1-.3l.1,.3l.1,.3l.1,.3l.1,.3l.1-.5l.1,.4l.1,.1l.1-.4l.1-.3l.1,.6l.1-.2l.1,.5l.1,.0l.1,.2l.1,.1l.1,.2l.1-.4l.1,.6l.1-.9l.1,.6l.1,.1l.1-.4l.1-.3l.1,1.1l.1-.4l.1,.6l.1,.1l.1-.2l.1,.0l.1,.2l.1-.2l.1-.3l.1,.5l.1-.1l.1-.1l.1-.1l.1-.3l.1-.3l.1-.5l.1,.0l.1,.8l.1-.7l.1,.5l.1-.4l.1,.6l.1-.3l.1,1.3l.1-1.2l.1,.0l.1,.7l.1,.2l.1-1.1l.1,.9l.1,.2l.1-.8l.1,.5l.1-.6l.1-.1l.1,.2l.1,.1l.1-.3l.1,1.4l.1-.9l.1-.1l.1,.4l.1-.4l.1,.6l.1-.5l.1,.2l.1-.2l.1,.1l.1,.0l.1-.1l.1,.6l.1-.9l.1,.1l.1,.2l.1,.2l.1-.1l.1,.2l.1-.7l.1,.6l.1-.4l.1-.1l.1,.2l.1-.9l.1,.9l.1-.4l.1-.5l.1,.5l.1,.5l.1-.5l.1,.3l.1,.0l.1-.1l.1-.1l.1,.3l.1,.4l.1-.3l.1-.6l.1,.4l.1-.1l.1-.3l.1,.7l.1-.4l.1,.0l.1,1.1l.1-1.1l.1,.9l.1-.7l.1,.4l.1-.1l.1-.2l.1-.7l.1,.8l.1-.2l.1-.2l.1,.4l.1,.3l.1-.5l.1,.2l.1-.5l.1,.4l.1,.0l.1,.8l.1-.6l.1,.0l.1,.6l.1-.6l.1,.7l.1-.7l.1,.0l.1,.4l.1-.4l.1,.1l.1-.9l.1,.6l.1-.3l.1,.2l.1-.5l.1,1.0l.1-.3l.1-.4l.1-.1l.1,.1l.1,.8l.1-.4l.1-.1l.1,.2l.1-.3l.1,.4l.1,.2l.1-.3l.1,.3l.1-.6l.1,.5l.1-.1l.1,.1l.1-.1l.1-.3l.1,.0l.1,.4l.1-.6l.1-.3l.1,.9l.1,.3l.1-.3l.1,.1l.1-.4l.1,.2l.1,.3l.1-.1l.1-.3l.1-.2l.1-.2l.1,.7l.1-.1l.1,.1l.1,.3l.1-.5l.1,.1l.1-1.0l.1,1.0l.1,.0l.1,.2l.1-.2l.1,.0l.1,.6l.1-.8l.1,.4l.1,.2l.1-.7l.1-.3l.1,.4l.1-.2l.1,.3l.1,.0l.1-.6l.1,.5l.1,.3l.1-.5l.1,.0l.1-.4l.1,.7l.1,.3l.1-1.0l.1,.8l.1,.0l.1-.3l.1,.1l.1-.1l.1,.0l.1,.4l.1-.1l.1-.2l.1,.2l.1-.4l.1-.6l.1,1.0l.1,.3l.1-.6l.1,.7l.1-.5l.1,.1l.1,.2l.1-1.7l.1,.2l.1,1.2l.1-.5l.1-.2l.1,1.1l.1-.3l.1-.6l.1,.1l.1,.7l.1,.2l.1-1.2l.1,.7l.1-.2l.1-.5l.1,.5l.1-.3l.1,.3l.1,.9l.1-.4l.1-.1l.1,.0l.1-.1l.1,.2l.1-.8l.1,.4l.1,.5l.1-.7l.1,.0l.1,.6l.1,.2l.1-.9l.1-.1l.1,.6l.1-.2l.1-.3l.1,.4l.1,.1l.1,.1l.1,1.0l.1-.4l.1-.1l.1,.3l.1,.6l.1-.8l.1-.5l.1,.1l.1-.2l.1-.4l.1,.3l.1-.1l.1-.2l.1-.2l.1,.5l.1-.8l.1,.8l.1-.1l.1,.1l.1-.9l.1,1.4l.1-1.1l.1,.4l.1,.5l.1-.4l.1,.1l.1-.5l.1,.5l.1,.3l.1,.1l.1-.3l.1,.0l.1,.0l.1-.5l.1-.2l.1,.7l.1-.8l.1,.8l.1-.4l.1,.5l.1-.6l.1,.5l.1-.1l.1-.2l.1-.1l.1-.3l.1,.3l.1-.2l.1,.5l.1-.4l.1-.4l.1,.4l.1,.1l.1-.5l.1,.6l.1-.1l.1,.3l.1-.7l.1,.3l.1,.8l.1-.8l.1,.6l.1-.1l.1-.3l.1,.0l.1-.6l.1,.3l.1-.3l.1,.0l.1,.9l.1-.8l.1-.2l.1,1.3l.1-.8l.1-1.0l.1,1.4l.1,.3l.1-.4l.1,.2l.1-.6l.1,.2l.1-.8l.1,.5l.1,.6l.1-.2l.1-.1l.1-.5l.1,.6l.1-.3l.1,.5l.1-.6l.1,.4l.1-.8l.1,1.0l.1-.9l.1,.7l.1,.8l.1-.8l.1-.3l.1,.5l.1-.2l.1-.2l.1-1.0l.1,.7l.1-.5l.1,1.5l.1-.3l.1-.1l.1,.4l.1-.1l.1-.7l.1,.8l.1-.8l.1-.6l.1,1.2l.1,.1l.1-.2l.1-.4l.1-.5l.1,.6l.1,.3l.1-.5l.1,.4l.1-.6l.1,.7l.1,.1l.1-1.0l.1-.2l.1,.1l.1,.1l.1,.0l.1-.2l.1,.1l.1,.0l.1,.1l.1,.1l.1,.0l.1-.3l.1,.2l.1-.2l.1,.7l.1-.3l.1,.7l.1-.3l.1,.0l.1-.4l.1,.1l.1,.1l.1-.1l.1-.3l.1-.2l.1,.6l.1,.0l.1,.3l.1,.0l.1-.5l.1-.5l.1,.5l.1-.6l.1,.2l.1,.9l.1-.4l.1-.6l.1,.2l.1,.2l.1-.6l.1,1.0l.1-.2l.1,.9l.1-1.1l.1,.7l.1-.7l.1,.5l.1-.8l.1,.5l.1-.3l.1-.1l.1,.1l.1,.0l.1,.0l.1,.4l.1-.2l.1-1.3l.1,1.2l.1-.4l.1,.7l.1,.3l.1-.6l.1,.1l.1,.3l.1-.2l.1,.7l.1-.3l.1-.1l.1,.2l.1-.8l.1,.2l.1-.4l.1,.3l.1,.5l.1,.3l.1-.7l.1-.3l.1,.0l.1-.2l.1,.2l.1,.5l.1-1.3l.1,.1l.1,1.2l.1-1.1l.1,.7l.1-.7l.1,.8l.1-.1l.1-.2l.1,.1l.1-.4l.1,.2l.1,.4l.1-.2l.1-.6l.1-.1l.1,.1l.1,.0l.1-.2l.1-.2l.1,.2l.1-.1l.1,.1l.1-.2l.1,.3l.1-1.0l.1,.9l.1-.5l.1-.2l.1-.1l.1-.1l.1-.3l.1-.4l.1-.5l.1-.9l.1,.4l.1-.4l.1-.2l.1,.7l.1-1.5l.1,.5l.1,.2l.1-.1l.1-.1l.1-.9l.1,.0l.1,.5l.1-.1l.1,.9l.1-.2l.1,.0l.1,.4l.1,.0l.1,.3l.1-.1l.1,.3l.1,.1l.1,.4l.1-.3l.1,.1l.1,.7l.1,.3l.1-.2l.1,.4l.1-.2l.1,1.3l.1-1.0l.1,1.1l.1-.9l.1,.5l.1-.1l.1,.0l.1,.6l.1,.1l.1-.2l.1-.1l.1,1.1l.1-.2l.1-.5l.1-.3l.1,.1l.1-.1l.1,.5l.1-.6l.1,.4l.1-.3l.1,.9l.1,.1l.1-.5l.1,.1l.1,.5l.1-.6l.1-.3l.1,.7l.1-.2l.1-.3l.1,.2l.1-.3l.1-.7l.1,.8l.1-.2l.1,.4l.1-.4l.1,.0l.1,.3l.1-.2l.1-.5l.1,.7l.1-.2l.1,.5l.1,.3l.1-1.1l.1,.1l.1-.1l.1,.0l.1,.0l.1,.3l.1,.2l.1-.8l.1,.1l.1-.1l.1,1.1l.1,.2l.1-1.1l.1,.0l.1,.5l.1,.3l.1,.0l.1-.4l.1,.1l.1-.2l.1-.3l.1,1.0l.1-.6l.1-.2l.1,.4l.1-.4l.1,.5l.1,.4l.1-.8l.1,.6l.1,.4l.1-.7l.1-.5l.1,.2l.1,.0l.1-.2l.1-.1l.1,.4l.1,.2l.1,.3l.1-.6l.1,1.0l.1-.4l.1,.0l.1-.7l.1,.6l.1-.7l.1,.7l.1-.2l.1-.8l.1,.1l.1,1.0l.1-.1l.1-.4l.1,.0l.1,.0l.1-.2l.1,.1l.1-.2l.1,.1l.1,.4l.1-.7l.1,.6l.1-.3l.1,.2l.1,.1l.1,.2l.1,.1l.1-.1l.1-.3l.1,.2l.1-.5l.1,.3l.1,.2l.1-.1l.1,.0l.1-.4l.1,.9l.1-.6l.1,.5l.1-.1l.1,.3l.1-.5l.1-.3l.1-.3l.1,.3l.1-.3l.1,.8l.1,.2l.1-1.2l.1,.2l.1,.6l.1,.3l.1-.4l.1,.0l.1,.0l.1-.1l.1,.4l.1-.4l.1-.5l.1,.4l.1,.1l.1-.2l.1,.2l.1-.1l.1,.0l.1,.2l.1-.3l.1-.4l.1,.2l.1,.3l.1,.6l.1-.4l.1,.5l.1-.1l.1-.9l.1,.9l.1-.8l.1-.2l.1-.1l.1,1.0l.1-1.2l.1,.3l.1,1.0l.1-.1l.1-.8l.1,.7l.1-.2l.1,.1l.1,.2l.1-.6l.1,.2l.1,.4l.1-1.2l.1,.5l.1,.3l.1-.5l.1,.1l.1-.3l.1,.5l.1-.2l.1,.6l.1,.1l.1-.3l.1-.1l.1,.3l.1,.0l.1-.6l.1,.7l.1-.1l.1,.2l.1-.8l.1,.7l.1,.5l.1-.4l.1-.8l.1,.5l.1,.0l.1,.1l.1,.1l.1,.2l.1-.2l.1,.3l.1-.3l.1,.3l.1,.1l.1-.7l.1,.2l.1-.4l.1,.2l.1-.1l.1,.6l.1-.5l.1,.9l.1-1.3l.1,.3l.1,.4l.1,.0l.1-.7l.1-.2l.1,1.0l.1-1.0l.1,1.0l.1-.4l.1,.3l.1,.8l.1-.3l.1,.2l.1-.9l.1,.5l.1-.3l.1,.0l.1,.5l.1-1.2l.1,.5l.1-.1l.1-.2l.1,.8l.1-.9l.1,.3l.1,.0l.1-.8l.1,.3l.1,.1l.1,.5l.1,.3l.1,.0l.1-.2l.1-.9l.1,.8l.1-.1l.1,.5l.1,.0l.1,.3l.1-.6l.1,.1l.1-.6l.1,.3l.1-.4l.1,.8l.1-.6l.1,.3l.1-.1l.1,.2l.1,.4l.1-.4l.1,.1l.1-.4l.1,.7l.1-.7l.1,.5l.1,.4l.1-1.6l.1,.5l.1,.3l.1,.5l.1-.9l.1,.4l.1-.2l.1,.6l.1-.7l.1,.7l.1-1.1l.1,.4l.1,1.2l.1-.8l.1-.4l.1,1.0l.1-.5l.1,.1l.1-.8l.1,.5l.1,.1l.1-.9l.1,.9l.1-.4l.1,.5l.1-.1l.1-.6l.1,.1l.1,.3l.1,.2l.1,.0l.1,.3l.1,.2l.1-.1l.1,.4l.1-.3l.1-.6l.1-.5l.1,1.0l.1-.3l.1-.1l.1,.1l.1-.2l.1,.4l.1-.9l.1,.7l.1-.1l.1,.9l.1-.7l.1,.0l.1,.1l.1,.3l.1-.8l.1,.0l.1,.0l.1,1.1l.1-.9l.1-.9l.1,1.0l.1,.8l.1-1.4l.1,1.4l.1-1.4l.1,.3l.1-.3l.1,.1l.1-.2l.1,.3l.1-.3l.1,1.1l.1-.9l.1,.4l.1,.0l.1-.4l.1,.2l.1,.0l.1-.1l.1,.2l.1,.0l.1-.5l.1-.1l.1,.2l.1,.3l.1,.5l.1,.1l.1-.5l.1,.3l.1-.4l.1,.3l.1-.3l.1,.2l.1-.4l.1,.1l.1,.9l.1-1.2l.1,.4l.1-.4l.1,.6l.1,.3l.1-1.0l.1-.9l.1,1.4l.1,.1l.1-.7l.1,.5l.1,.4l.1-.9l.1,.9l.1-.1l.1-.5l.1-.3l.1,.1l.1,.1l.1,.3l.1-.4l.1,1.2l.1-.7l.1-1.1l.1,1.3l.1-.5l.1-.3l.1,.1l.1-.4l.1,.8l.1-1.1l.1,.5l.1,.7l.1,.0l.1-.7l.1-.2l.1,.8l.1-.2l.1,.3l.1,.4l.1-.5l.1,.8l.1-1.0l.1,1.3l.1-1.0l.1,.1l.1-.3l.1,.4l.1-.1l.1-.2l.1-.1l.1,.1l.1-.1l.1-.7l.1-.1l.1,.0l.1,.8l.1,.0l.1,.2l.1,.2l.1-.3l.1-.4l.1-.2l.1-.2l.1,.8l.1,.1l.1-.6l.1,.5l.1,.4l.1,.5l.1-.7l.1,.3l.1,.2l.1-1.3l.1,.2l.1,.1l.1-.1l.1,.9l.1-.4l.1-.2l.1-.4l.1,.9l.1,.0l.1-.4l.1,.0l.1-.3l.1,.5l.1,.2l.1-.3l.1-.2l.1,.1l.1-.6l.1,.1l.1,.5l.1-.3l.1-.4l.1,.5l.1,.2l.1-.1l.1-.1l.1-.2l.1,.2l.1,.6l.1-.8l.1-.2l.1,.4l.1-.5l.1,.5l.1-.2l.1,.6l.1-.3l.1,.2l.1,.4l.1-.8l.1-.2l.1,.4l.1-.2l.1,.1l.1-.3l.1,.2l.1-.2l.1-.8l.1,.7l.1,.1l.1,.4l.1-.4l.1-.1l.1,.7l.1-.6l.1,.4l.1-.1l.1,.3l.1-.3l.1-.5l.1,.7l.1-.4l.1-.1l.1,.8l.1-.4l.1-.5l.1,.3l.1-.1l.1,.1l.1-.5l.1,1.0l.1-.2l.1-.3l.1-.1l.1,.0l.1,.0l.1-.8l.1,.3l.1-.2l.1,.2l.1,.0l.1-.6l.1,.4l.1,.7l.1-.8l.1,.3l.1-.3l.1,.8l.1-.4l.1-.1l.1-.1l.1,.5l.1,.4l.1-.1l.1-.8l.1,1.0l.1-1.0l.1-.3l.1,.3l.1-.1l.1-.2l.1,.1l.1,.3l.1-.2l.1-.5l.1,.6l.1-.2l.1,.6l.1-.2l.1,.1l.1,.0l.1,.3l.1-.6l.1-.2l.1,.4l.1-1.1l.1,.6l.1,.1l.1-.5l.1,.5l.1-.3l.1-.2l.1-.1l.1,.4l.1-.3l.1-.1l.1,.5l.1-.2l.1,.3l.1-.8l.1-.6l.1,1.0l.1,.1l.1-.5l.1,.7l.1-.1l.1-1.2l.1-.2l.1-.5l.1,.6l.1-.4l.1-.3l.1-.8l.1-.1l.1-.7l.1-.7l.1-.5l.1-.8l.1-.6l.1-1.0l.1-1.4l.1-1.8l.1-2.0l.1-2.0l.1-2.2l.1-3.0l.1-2.8l.1-3.4l.1-3.6l.1-3.6l.1-4.3l.1-3.1l.1-5.0l.1-3.3l.1-4.3l.1-2.2l.1-3.0l.1-3.0l.1-1.3l.1-.7l.1,.8l.1,1.3l.1,2.8l.1,1.4l.1,4.3l.1,3.3l.1,4.3l.1,4.4l.1,3.8l.1,4.0l.1,3.4l.1,3.4l.1,3.2l.1,3.3l.1,1.9l.1,2.8l.1,1.9l.1,2.2l.1,1.7l.1,2.0l.1,1.6l.1,.8l.1-.2l.1,1.0l.1,.0l.1,.9l.1,.7l.1,.1l.1,.3l.1-.1l.1-.6l.1,.4l.1,.6l.1,.2l.1,.6l.1-.5l.1,.4l.1,.1l.1,.4l.1-.3l.1-.4l.1,.9l.1-.1l.1,.1l.1-.6l.1,.6l.1-.6l.1,.0l.1,.6l.1-.2l.1,.5l.1,.3l.1-.5l.1,.5l.1-.9l.1,.5l.1-.6l.1,.4l.1-.3l.1,.1l.1,.3l.1-.6l.1,.7l.1-.1l.1,.5l.1,.1l.1-.2l.1-.1l.1-.3l.1,.3l.1-.4l.1,.3l.1-.7l.1,.8l.1-.8l.1,1.0l.1-.6l.1,.5l.1-.3l.1,.6l.1-.2l.1,.4l.1-.2l.1,.0l.1,.4l.1-.8l.1,.6l.1-.4l.1-.4l.1,.6l.1,.0l.1,.7l.1-1.0l.1,.3l.1,.0l.1-.7l.1,.7l.1-.6l.1,.9l.1,.0l.1-.7l.1-.6l.1,.8l.1,.0l.1,.4l.1-.3l.1-.4l.1,.3l.1-.3l.1,.9l.1-1.2l.1,.2l.1,.4l.1-.5l.1,.1l.1,.1l.1,.1l.1,.2l.1,.5l.1-.2l.1-.6l.1,.4l.1,.3l.1-.7l.1,.2l.1,.0l.1,.1l.1-.2l.1-.1l.1-.1l.1,.6l.1-.4l.1,1.0l.1-.8l.1,.0l.1,.4l.1-.3l.1-.1l.1-.1l.1-.1l.1,.0l.1-.2l.1,.7l.1-.5l.1,.2l.1,.0l.1,.4l.1,.7l.1-1.0l.1,.4l.1-.3l.1-.1l.1,.5l.1-.8l.1,.8l.1-.2l.1-.3l.1,.9l.1-.4l.1,.1l.1-1.0l.1,.4l.1-.5l.1,.5l.1,.2l.1-1.1l.1,.7l.1,.0l.1,.7l.1-.5l.1-.4l.1,.4l.1-.3l.1,.0l.1,.2l.1-.1l.1,.2l.1-.5l.1,1.5l.1-.3l.1-.2l.1-.7l.1-.3l.1,.3l.1,.1l.1,.7l.1-.4l.1-.6l.1,.5l.1,.2l.1-.5l.1,.5l.1-.2l.1-.3l.1-.2l.1,.3l.1,.5l.1-.8l.1,.0l.1,1.0l.1-1.3l.1,1.6l.1-.7l.1,.4l.1,.3l.1-1.4l.1,.3l.1,1.2l.1-1.0l.1,.1l.1,.2l.1,.3l.1,.1l.1-.2l.1-.1l.1-.1l.1,.3l.1,.3l.1-.4l.1,.5l.1-1.0l.1,.7l.1,.3l.1-.1l.1-.5l.1-.5l.1,.0l.1,.1l.1,.3l.1-.3l.1-.3l.1,.4l.1,.4l.1,.3l.1-.8l.1,.3l.1-.4l.1,.4l.1,1.5l.1-1.3l.1,.0l.1,.0l.1-.4l.1-.2l.1,.6l.1-.2l.1,.5l.1-1.2l.1,1.0l.1,.3l.1-1.1l.1,1.0l.1-.8l.1,.9l.1,.3l.1-.6l.1,.1l.1-.6l.1,.2l.1,.3l.1-.6l.1,.2l.1,.3l.1,.3l.1-.8l.1,.8l.1-.3l.1,.3l.1,.0l.1-.1l.1,.3l.1-1.1l.1,.3l.1-.3l.1,.5l.1-.1l.1,.0l.1-.3l.1,.3l.1-.1l.1,.3l.1-.4l.1,.6l.1-.5l.1-.6l.1,.6l.1-.4l.1,1.0" fill="none" stroke="#2af02a" stroke-width="0.65" stroke-linejoin="round"/>
<path d="M35.50,301.4l.4,.2l.4,.1l.4-.2l.4-.3l.4,.0l.4,.4l.4,.1l.4-.5l.4,.0l.4,.2l.4,.2l.4,.1l.4,.0l.4-.2l.4-.2l.4,.1l.4,.1l.4-.6l.4,.2l.4,.2l.4,.3l.4-.3l.4-.2l.4,.2l.4-.3l.4,.0l.4-.1l.4,.3l.4-.1l.4,.2l.4-.1l.4,.3l.4-.4l.4,.2l.4-.1l.4-.6l.4,.1l.4,.0l.4,.1l.4,.2l.4-.4l.4,.3l.4,.2l.4-.5l.4-.1l.4,.1l.4,.2l.4-.3l.4,.2l.4-.1l.4,.2l.4,.0l.4-.1l.4,.0l.4,.0l.4-.2l.4-.2l.4,.1l.4-.1l.4-.2l.4,.4l.4-.1l.4-.3l.4-.1l.4,.6l.4-.3l.4,.2l.4-.6l.4,.2l.4,.2l.4-.1l.4-.1l.4-.1l.4,.5l.4-.1l.4-.3l.4-.2l.4-.2l.4,.1l.4-.1l.4,.0l.4,.4l.4-.2l.4-.4l.4-.5l.4,.4l.4,.0l.4-.2l.4,.0l.4,.0l.4,.4l.4-.5l.4,.2l.4,.1l.4-.2l.4,.2l.4,.1l.4-.1l.4,.0l.4-.1l.4-.3l.4-.1l.4,.0l.4,.3l.4,.1l.4-.3l.4-.4l.4,.1l.4,.0l.4-.6l.4,.0l.4,.3l.4,.2l.4-.3l.4-.2l.4,.4l.4,.2l.4-.1l.4,.1l.4,.0l.4,.0l.4-.1l.4-.2l.4,.0l.4-.1l.4-.4l.4-.1l.4,.3l.4,.2l.4-.3l.4-.1l.4-.1l.4,.2l.4,.5l.4-.2l.4-.7l.4,.5l.4-.1l.4-.1l.4,.0l.4-.3l.4-.5l.4,.3l.4,.4l.4,.1l.4,.0l.4-.3l.4,.0l.4,.1l.4-.1l.4,.5l.4-.4l.4,.0l.4-.2l.4,.1l.4,.0l.4-.6l.4,.2l.4,.1l.4,.2l.4-.5l.4,.2l.4,.8l.4-.6l.4-.4l.4,.1l.4,.4l.4-.6l.4,.3l.4-.1l.4-.1l.4,.3l.4-.1l.4-.5l.4,.1l.4,.0l.4,.3l.4-.2l.4-.2l.4,.2l.4,.0l.4-.1l.4,.2l.4,.2l.4-.6l.4,.0l.4,.4l.4,.1l.4-.5l.4-.3l.4,.5l.4-.1l.4-.6l.4,.3l.4,.1l.4,.1l.4,.0l.4-.3l.4,.1l.4,.3l.4,.0l.4,.2l.4-.2l.4,.3l.4,.1l.4-.6l.4,.2l.4,.0l.4-.4l.4,.3l.4-.1l.4,.1l.4,.1l.4,.0l.4,.0l.4-.4l.4,.1l.4,.4l.4-.1l.4-.5l.4,.4l.4,.1l.4,.0l.4-.2l.4,.6l.4-.5l.4,.1l.4,.2l.4-.4l.4,.3l.4,.0l.4-.1l.4,.2l.4,.0l.4-.1l.4-.4l.4,.2l.4,.1l.4,.0l.4,.3l.4-.2l.4,.3l.4-.4l.4-.3l.4,.4l.4-.1l.4,.0l.4,.2l.4-.2l.4,.3l.4-.7l.4,.1l.4,.4l.4-.2l.4,.4l.4-.2l.4,.3l.4-.3l.4,.2l.4,.1l.4-.1l.4,.1l.4-.5l.4,.4l.4-.1l.4,.0l.4-.4l.4,.1l.4,.2l.4,.0l.4,.1l.4,.0l.4,.1l.4,.0l.4,.0l.4-.1l.4,.2l.4-.4l.4,.5l.4,.0l.4,.2l.4-.3l.4-.3l.4,.5l.4,.1l.4,.0l.4-.1l.4-.6l.4,.7l.4,.1l.4-.1l.4-.1l.4,.3l.4-.1l.4-.1l.4-.2l.4-.2l.4-.4l.4,.4l.4,.1l.4,.3l.4-.1l.4-.2l.4,.3l.4,.0l.4-.3l.4,.6l.4,.1l.4-.2l.4-.4l.4,.0l.4,.4l.4,.0l.4-.1l.4,.2l.4-.1l.4,.0l.4,.0l.4-.2l.4,.6l.4-.1l.4-.2l.4-.4l.4,.0l.4-.2l.4-.2l.4-.2l.4,.4l.4-.1l.4-.2l.4,.2l.4,.2l.4,.3l.4-.1l.4,.2l.4-.3l.4-.1l.4,.3l.4-.2l.4-.2l.4,.5l.4,.0l.4-.1l.4,.5l.4-.2l.4-.5l.4-.3l.4,.5l.4,.3l.4,.0l.4,.0l.4-.1l.4,.2l.4,.2l.4-.2l.4-.4l.4,.2l.4,.0l.4,.3l.4-.2l.4,.3l.4,.0l.4-.1l.4,.1l.4-.2l.4-.1l.4-.4l.4,.0l.4,.4l.4-.2l.4-.3l.4,.0l.4-.2l.4-.2l.4,.4l.4,.1l.4-.3l.4,.4l.4-.2l.4,.1l.4-.4l.4,.2l.4,.1l.4-.1l.4-.2l.4-.1l.4-.2l.4,.0l.4,.3l.4-.2l.4-.1l.4-.3l.4-.2l.4,.4l.4,.0l.4-.1l.4,.0l.4-.1l.4-.4l.4-.2l.4,.3l.4,.2l.4,.1l.4-.3l.4-.3l.4,.5l.4-.3l.4,.0l.4,.1l.4,.1l.4,.1l.4-.6l.4,.0l.4-.1l.4,.0l.4-.1l.4,.1l.4,.0l.4,.0l.4,.0l.4-.4l.4,.5l.4,.1l.4,.1l.4,.1l.4-.2l.4,.0l.4-.3l.4,.1l.4,.2l.4,.1l.4,.5l.4,.0l.4,.1l.4,.2l.4-.5l.4,.0l.4,.4l.4-.3l.4,.3l.4,.1l.4-.7l.4,.5l.4,.3l.4-.2l.4-.1l.4,.1l.4-.2l.4,.3l.4-.1l.4,.4l.4,.2l.4-.3l.4-.3l.4,.2l.4,.3l.4,.2l.4,.2l.4-.1l.4-.8l.4,.2l.4,.0l.4,.1l.4,.3l.4-.3l.4,.2l.4-.2l.4,.0l.4,.3l.4-.5l.4-.2l.4,.1l.4,.3l.4-.5l.4,.4l.4,.3l.4-.8l.4-.1l.4,.6l.4,.1l.4-.1l.4-.1l.4-.4l.4,.2l.4-.3l.4,.2l.4,.2l.4-.4l.4,.2l.4,.2l.4,.1l.4-.5l.4-.3l.4,.4l.4-.2l.4-.1l.4-.2l.4-.3l.4,.5l.4,.3l.4-.4l.4,.2l.4-.4l.4-.3l.4-.3l.4,.7l.4-.1l.4,.1l.4-.2l.4,.1l.4,.4l.4-.1l.4-.1l.4-.2l.4,.1l.4,.2l.4,.2l.4,.0l.4-.1l.4,.0l.4-.1l.4-.2l.4,.0l.4,.0l.4,.4l.4-.1l.4-.1l.4,.1l.4,.0l.4-.5l.4,.3l.4,.0l.4-.2l.4,.2l.4-.1l.4,.4l.4-.1l.4,.1l.4,.2l.4,.2l.4-.8l.4,.3l.4,.0l.4-.2l.4,.4l.4,.1l.4-.6l.4-.4l.4,1.0l.4,.1l.4-.3l.4,.0l.4,.0l.4-.6l.4,.2l.4-.1l.4,.0l.4,.2l.4,.0l.4,.0l.4-.1l.4-.2l.4,.1l.4,.4l.4-.4l.4,.0l.4,.3l.4-.2l.4-.2l.4,.3l.4,.4l.4-.2l.4,.1l.4,.0l.4,.1l.4,.1l.4-.5l.4-.1l.4-.2l.4,.3l.4-.2l.4,.0l.4,.2l.4,.1l.4,.2l.4-.2l.4,.1l.4-.3l.4,.5l.4,.2l.4-.2l.4-.3l.4-.4l.4,.3l.4,.1l.4-.2l.4-.1l.4-.3l.4-.1l.4,.0l.4,.3l.4,.0l.4-.2l.4-.2l.4,.4l.4,.7l.4-.7l.4-.1l.4,.2l.4,.0l.4-.2l.4-.2l.4,.2l.4,.0l.4,.3l.4,.0l.4-.3l.4,.3l.4-.7l.4-.1l.4,.6l.4-.2l.4,.3l.4-.1l.4,.0l.4-.3l.4,.0l.4,.4l.4-.3l.4-.1l.4-.2l.4-.5l.4,.1l.4-.2l.4-.1l.4-.7l.4-.8l.4-1.4l.4-1.1l.4-.4l.4,.1l.4,.8l.4,1.0l.4,1.2l.4,.2l.4,.5l.4,.4l.4,.2l.4,.4l.4-.2l.4,.1l.4-.6l.4,.4l.4,.6l.4-.2l.4,.0l.4-.1l.4-.1l.4-.1l.4-.3l.4,.2l.4,.2l.4-.1l.4,.4l.4-.3l.4-.1l.4-.2l.4,.4l.4,.0l.4,.0l.4-.2l.4,.6l.4,.0l.4,.0l.4,.0l.4-.3l.4,.3l.4-.1l.4-.3l.4,.4l.4-.4l.4,.1l.4,.3l.4-.5l.4,.1l.4,.2l.4,.2l.4-.1l.4-.5l.4-.1l.4,.4l.4-.2l.4-.1l.4,.6l.4-.4l.4-.5l.4,.5l.4,.1l.4-.2l.4,.4l.4,.3l.4-.5l.4-.1l.4,.7l.4,.1l.4-.2l.4-.4l.4,.2l.4-.2l.4,.3l.4-.2l.4,.0l.4,.3l.4-.1l.4-.2l.4-.2l.4,.0l.4,.3l.4-.1l.4,.0l.4,.2l.4,.0l.4,.0l.4-.4l.4,.3l.4,.1l.4-.3l.4,.3l.4-.1l.4-.3l.4,.1l.4-.1l.4-.1l.4,.4l.4-.1l.4,.3l.4-.3l.4-.1l.4,.5l.4-.6l.4-.5l.4,.3l.4,.0l.4,.1l.4,.5l.4-.4l.4-.3l.4-.2l.4,.4l.4,.4l.4-.2l.4-.7l.4,.6l.4,.0l.4,.0l.4,.6l.4,.1l.4-.4l.4-.3l.4-.2l.4,.2l.4,.1l.4,.1l.4-.5l.4,.4l.4-.5l.4,.1l.4,.5l.4-.2l.4,.2l.4-.4l.4-.1l.4,.0l.4-.1l.4,.2l.4,.2l.4-.3l.4-.4l.4,.0l.4-.4l.4,.5l.4,.2l.4-.2l.4-.4l.4,.4l.4,.1l.4-.5l.4-.5l.4,.3l.4,.4l.4,.0l.4,.0l.4-.2l.4-.1l.4-.2l.4-.1l.4,.2l.4,.9l.4-.5l.4-.3l.4,.2l.4,.6l.4-.4l.4-.1l.4-.2l.4,.3l.4-.1l.4-.6l.4,.4l.4,.0l.4,.2l.4-.3l.4-.3l.4,.3l.4,.3l.4-.5l.4-.4l.4,.3l.4,.3l.4-.5l.4,.6l.4,.1l.4,.2l.4,.0l.4-.6l.4,.7l.4,.1l.4,.0l.4-.3l.4-.1l.4,.0l.4,.3l.4,.2l.4-.2l.4-.3l.4,.4l.4-.2l.4-.1l.4,.1l.4,.5l.4-.7l.4,.4l.4-.2l.4-.2l.4,.0l.4,.2l.4-.2l.4,.3l.4,.1l.4-.1l.4,.2l.4,.3l.4-.2l.4,.0l.4-.1l.4-.1l.4-.1l.4,.4l.4,.0l.4-.3l.4,.4l.4,.0l.4-.2l.4-.1l.4,.0l.4,.2l.4,.0l.4,.2l.4,.0l.4-.2l.4,.0" fill="none" stroke="#1a1ad8" stroke-width="0.8" stroke-linejoin="round"/><path d="M35.50,301.2l.1,.6l.1,.0l.1-.8l.1,.8l.1,.1l.1-.5l.1,.5l.1,.1l.1-.8l.1-.4l.1,.9l.1-.4l.1-.5l.1,.5l.1-.9l.1,.7l.1,.5l.1-1.6l.1,1.5l.1-.7l.1,.5l.1-.2l.1,.9l.1-.3l.1-.3l.1-.2l.1,.2l.1,.8l.1-1.2l.1,.5l.1-.2l.1-.9l.1,1.1l.1-.7l.1,.9l.1,.2l.1-.7l.1,.0l.1-.3l.1-.1l.1,1.1l.1-.6l.1,.0l.1,.2l.1,.3l.1,.1l.1-.5l.1,.2l.1-.1l.1,.8l.1-1.6l.1,.5l.1,.6l.1-.5l.1,.5l.1,.2l.1,.2l.1-1.3l.1,.8l.1-.4l.1,.4l.1-.4l.1,.4l.1-.6l.1,.5l.1,.0l.1,.0l.1-.3l.1-.3l.1,.9l.1-.8l.1,.2l.1-.9l.1,.0l.1,.6l.1,.0l.1,.6l.1,.2l.1,.2l.1-.1l.1-.3l.1-.2l.1-.4l.1,.9l.1-.7l.1,.0l.1,.4l.1-.2l.1,.2l.1-.7l.1,.8l.1-.5l.1-.3l.1,.0l.1,.0l.1-.2l.1,1.2l.1-1.4l.1,.9l.1-.4l.1-.3l.1,.0l.1,.1l.1,.6l.1-.1l.1-.4l.1-.6l.1-.1l.1,1.3l.1-.9l.1-.2l.1,1.2l.1-1.2l.1,.9l.1,.2l.1-.3l.1,.3l.1-1.0l.1,.2l.1,.5l.1,.0l.1-.4l.1,.4l.1-.3l.1-.6l.1,1.1l.1-.3l.1,.7l.1,.4l.1-.9l.1,.2l.1-.7l.1,.9l.1-.3l.1,.0l.1,.3l.1-.9l.1,.8l.1,.0l.1,.3l.1-1.5l.1,.5l.1,.9l.1-1.3l.1,.0l.1,.8l.1,.4l.1-1.0l.1-.3l.1,.2l.1,.1l.1-.3l.1-.2l.1,.7l.1,.0l.1,.1l.1-.2l.1-.2l.1,1.1l.1-.6l.1-.3l.1,.2l.1,.0l.1-.4l.1,.0l.1,.5l.1,.1l.1-.4l.1,.2l.1-.2l.1,.1l.1,.4l.1,.1l.1-.6l.1-.1l.1-.3l.1,.3l.1-.6l.1,.4l.1,.1l.1-.7l.1,.6l.1-.1l.1,.4l.1-.4l.1,.6l.1,.6l.1-.7l.1-.1l.1-.6l.1,.4l.1-.8l.1,.7l.1-.3l.1,.6l.1-.9l.1,.3l.1,.3l.1,.3l.1-.9l.1,.7l.1,1.2l.1-.8l.1-.2l.1-1.3l.1,1.0l.1,.4l.1,.0l.1,.2l.1,.2l.1-.2l.1-.1l.1-.9l.1,1.5l.1-1.2l.1,.0l.1,.6l.1-.1l.1,.2l.1-.6l.1,.2l.1,.1l.1-.7l.1,.4l.1-.1l.1-.1l.1-.2l.1-.3l.1,.7l.1-.1l.1,.2l.1-.2l.1-.1l.1-.3l.1,.7l.1-.5l.1,1.2l.1-.2l.1-.3l.1-1.2l.1-.1l.1,.7l.1-.4l.1,1.1l.1-.4l.1-.3l.1,.0l.1,.6l.1-.9l.1,.5l.1-.9l.1,.4l.1-.2l.1,.3l.1,.0l.1,.4l.1,.0l.1-.3l.1-.2l.1,.3l.1,.0l.1,.0l.1-.4l.1,.8l.1,.1l.1-.4l.1-.3l.1,.3l.1,.0l.1-.2l.1-.7l.1,.2l.1-.5l.1,.5l.1,.5l.1-.5l.1,.3l.1-.1l.1,.1l.1,1.1l.1-.7l.1-.1l.1-.3l.1,.4l.1-.5l.1,.3l.1-.5l.1,.3l.1-.3l.1-.5l.1,1.5l.1-.4l.1-.5l.1-.2l.1,.6l.1,.0l.1,.1l.1-.3l.1,.3l.1,.2l.1-.1l.1-1.1l.1,.8l.1-.4l.1-.3l.1,.3l.1,.0l.1,.5l.1-.2l.1-.4l.1,.0l.1,.8l.1-.2l.1-.4l.1,.0l.1,.4l.1-.2l.1-.5l.1,1.0l.1-.9l.1,.3l.1-.6l.1,.5l.1-.3l.1,.3l.1,.4l.1-.5l.1,.3l.1,.1l.1-.4l.1,.9l.1-1.3l.1,1.5l.1-1.6l.1,.7l.1,.2l.1-.5l.1-1.0l.1,.3l.1,.2l.1,.4l.1,.2l.1,.0l.1,.2l.1-.7l.1,.8l.1-1.3l.1,.8l.1-.5l.1-.3l.1,.8l.1-.3l.1,.4l.1-1.0l.1,.2l.1,.4l.1-.2l.1,.2l.1-.1l.1,.0l.1-.3l.1,1.0l.1-.5l.1-.1l.1,.4l.1-.2l.1-.1l.1-.1l.1-.4l.1,.1l.1-.8l.1,.6l.1,.1l.1,.5l.1,.5l.1-.5l.1-.2l.1,.4l.1-.5l.1,.5l.1-.1l.1-.8l.1,.9l.1,.0l.1-.6l.1,.1l.1,.1l.1,.9l.1,.2l.1-.7l.1,.4l.1-1.1l.1,.8l.1,.4l.1-.2l.1-.8l.1,.7l.1-.5l.1,.6l.1-.8l.1,.3l.1-.5l.1,.5l.1-.3l.1,.6l.1-.3l.1-.1l.1-.3l.1-.2l.1,.1l.1,.3l.1-.2l.1,.1l.1,.0l.1,.1l.1-.2l.1-.7l.1,1.2l.1,.1l.1-.6l.1,1.3l.1-1.3l.1,1.0l.1-.8l.1,.0l.1,.3l.1-.4l.1-.4l.1-.5l.1,.1l.1,.7l.1,.5l.1-.3l.1-.3l.1,.0l.1,.1l.1,.2l.1-1.0l.1,.4l.1-.3l.1-.2l.1-.3l.1,.9l.1-.3l.1-.2l.1,.3l.1,.3l.1-.2l.1,.5l.1-.7l.1-.1l.1,.3l.1-.4l.1,.3l.1,.7l.1-.1l.1-.5l.1-.3l.1-.4l.1-.1l.1,.7l.1,.0l.1-.1l.1,.0l.1,.9l.1,.0l.1-.3l.1-.1l.1,.5l.1-.5l.1,.1l.1-.9l.1-.2l.1,.0l.1-.2l.1,1.1l.1-.1l.1-.5l.1,.6l.1,.2l.1-.3l.1-.6l.1,1.2l.1,.1l.1-.8l.1,1.0l.1-.8l.1-.4l.1,.2l.1-.6l.1,.4l.1-.6l.1,1.0l.1-.2l.1-.8l.1,.9l.1-.7l.1,.7l.1,.1l.1-.3l.1-.4l.1,.2l.1-.1l.1-.1l.1,.5l.1,.2l.1-.1l.1-1.0l.1-.2l.1,.5l.1,.3l.1-1.0l.1,.8l.1,1.1l.1-1.1l.1,.0l.1,.2l.1,.3l.1-.5l.1-.2l.1-.6l.1,1.0l.1-.5l.1,.0l.1,.3l.1,.3l.1-.8l.1-.3l.1,.2l.1-.1l.1-.6l.1,1.1l.1,.7l.1-.5l.1,.8l.1-1.4l.1,.9l.1,.8l.1-.2l.1-.8l.1-.3l.1,.3l.1-.7l.1,.1l.1-.4l.1,.8l.1,.0l.1,.9l.1-.6l.1-.6l.1,.4l.1-.5l.1,.3l.1-.1l.1,.3l.1,.2l.1-1.3l.1,1.1l.1,.3l.1-.9l.1,1.1l.1-.9l.1,1.2l.1-.9l.1-.2l.1-.2l.1,.4l.1-1.2l.1,.0l.1-.4l.1,1.3l.1-.5l.1,.7l.1,.0l.1-.8l.1,1.0l.1-.2l.1,.0l.1,.1l.1,.0l.1,.1l.1,.3l.1-.7l.1-.2l.1,.3l.1,.5l.1-.7l.1,.9l.1-2.2l.1,.9l.1,.1l.1,.5l.1,.6l.1-.7l.1-.2l.1,.6l.1,.2l.1-1.8l.1,1.2l.1,.1l.1-.3l.1,.3l.1,.5l.1-.1l.1-.1l.1-.5l.1,.2l.1-.3l.1,.2l.1-.2l.1,.2l.1,.4l.1-.2l.1,.0l.1-.9l.1,.8l.1,.1l.1-.4l.1,.1l.1-1.1l.1,1.3l.1,.0l.1-.9l.1,1.0l.1-.5l.1,.3l.1-.5l.1,.1l.1-.3l.1,.0l.1,.4l.1,.2l.1-1.0l.1,.9l.1-.3l.1-.3l.1,1.2l.1-.1l.1-.9l.1,.0l.1,.9l.1-.5l.1-.4l.1-.8l.1,.6l.1,.5l.1-.5l.1,.4l.1,1.0l.1-.2l.1,.4l.1-.2l.1,.0l.1-1.4l.1,.3l.1-.4l.1,1.3l.1-.9l.1-.2l.1-.2l.1,.0l.1-1.0l.1,2.3l.1-1.0l.1,.2l.1-.6l.1,.6l.1,.5l.1-.4l.1,.2l.1-.7l.1,.3l.1,.1l.1-.2l.1,.1l.1,.0l.1-.2l.1,.7l.1-.6l.1-.3l.1,.7l.1-1.2l.1,.6l.1,.5l.1,.1l.1-.3l.1,.0l.1,.4l.1-.4l.1-.1l.1,.5l.1-.3l.1,.0l.1,.2l.1-.3l.1-.6l.1,.3l.1,.7l.1-.9l.1,.1l.1-.2l.1,.5l.1-.7l.1,.7l.1,.2l.1-.4l.1,.0l.1-.3l.1,.6l.1-.4l.1,.0l.1,.1l.1-.3l.1,.5l.1,.4l.1-1.6l.1,.4l.1,.6l.1-.5l.1,.4l.1,.2l.1,.6l.1,.0l.1-.7l.1,.2l.1-.3l.1,.0l.1-.4l.1-.3l.1,.6l.1,.6l.1,.1l.1-1.0l.1,.7l.1-.1l.1,.4l.1-.7l.1,.6l.1-.5l.1,.2l.1,.0l.1-1.2l.1,.9l.1,.6l.1-.7l.1,.6l.1-.2l.1-.1l.1,.2l.1,.4l.1,.3l.1-.1l.1-1.1l.1,.6l.1-.9l.1,.3l.1-.1l.1,.2l.1-.1l.1,.3l.1-.7l.1,1.1l.1-.3l.1-.1l.1-.3l.1,.8l.1-.3l.1,.0l.1-.6l.1-.1l.1-.1l.1,.0l.1,.0l.1,.5l.1-.6l.1,1.1l.1-1.9l.1,1.5l.1-.4l.1,.9l.1-1.2l.1,.9l.1-.8l.1-.1l.1,.6l.1,.3l.1-.7l.1,1.3l.1-1.3l.1,.9l.1-.9l.1-.3l.1,.3l.1-.5l.1,.9l.1-1.1l.1,1.0l.1,.0l.1-.3l.1,.4l.1-.1l.1-.1l.1,.6l.1-.3l.1,.2l.1,.5l.1-.6l.1,.4l.1-.7l.1,.4l.1-.1l.1-.4l.1-.4l.1,.1l.1,.4l.1,.6l.1-.2l.1-.1l.1,.4l.1,.1l.1,.1l.1-.8l.1,.3l.1-.3l.1-.6l.1,.5l.1-.4l.1,.4l.1,.5l.1-.8l.1,.2l.1-.1l.1,.2l.1-.5l.1,.4l.1-.5l.1,.3l.1,.6l.1-.2l.1-.1l.1,.0l.1,.6l.1,.1l.1-.9l.1-.1l.1,.0l.1,1.1l.1-1.1l.1-.2l.1,.8l.1,.4l.1-1.1l.1,.3l.1-.6l.1,.4l.1,1.0l.1-.7l.1,.0l.1,.2l.1,.0l.1-.3l.1-.5l.1,.0l.1,1.1l.1-1.2l.1,.8l.1-.7l.1,.9l.1-.3l.1-.3l.1,1.2l.1-1.1l.1,.3l.1-.3l.1,.0l.1,.1l.1-.2l.1,.1l.1,.4l.1-1.3l.1,.4l.1,.2l.1,.2l.1,.7l.1,.0l.1,.0l.1-.4l.1,1.1l.1-1.5l.1,.1l.1,.3l.1,.2l.1-.2l.1-.5l.1-.2l.1,.4l.1,.2l.1,.1l.1-.1l.1,1.2l.1-.5l.1,.4l.1-1.0l.1,.1l.1-.1l.1-.1l.1,.1l.1,.0l.1-.6l.1,.8l.1,.2l.1-.9l.1,.6l.1,.4l.1,.0l.1-.7l.1,.4l.1,.6l.1-.3l.1-.5l.1,.2l.1,.8l.1-.5l.1-.5l.1,.2l.1,.2l.1-.3l.1-.1l.1-.1l.1-.2l.1,1.2l.1-.1l.1,.0l.1-.7l.1,.2l.1,.2l.1,.2l.1-1.3l.1,.8l.1-.4l.1,.5l.1-.5l.1,.6l.1-.4l.1,.0l.1,.5l.1-.6l.1-.2l.1,.4l.1-.1l.1,.2l.1,.3l.1-.4l.1-.1l.1,.6l.1-.4l.1,.2l.1-.3l.1-.5l.1,.4l.1-.6l.1,1.0l.1-.2l.1-.1l.1-.3l.1,.5l.1,.0l.1,.3l.1-.5l.1-.3l.1,.8l.1-.9l.1,.4l.1,.5l.1-1.3l.1,.8l.1,.0l.1-.2l.1,.2l.1-.4l.1-.5l.1,1.7l.1-1.0l.1,.5l.1,.1l.1-.6l.1,.3l.1,.2l.1,.6l.1-.5l.1,.3l.1-.6l.1-.1l.1,.2l.1,.0l.1,.0l.1,.6l.1-.2l.1-.2l.1,.7l.1-.8l.1-.1l.1-.1l.1-.6l.1-.3l.1,.6l.1-.1l.1-.3l.1,.6l.1,.2l.1-.3l.1-.5l.1,.7l.1,.8l.1-.5l.1,.0l.1-.2l.1,.4l.1-.7l.1,.2l.1,.5l.1-.8l.1,.4l.1,.0l.1,.6l.1-.8l.1,.6l.1-.4l.1,.1l.1-.9l.1,.5l.1,.7l.1-.3l.1-.2l.1,1.0l.1-.6l.1-.5l.1,.4l.1-.2l.1,.9l.1-1.1l.1,.5l.1,.2l.1-.8l.1,.7l.1-.9l.1,.9l.1-1.1l.1,.6l.1,.8l.1-.7l.1-.2l.1,.0l.1,.9l.1-.6l.1,.4l.1-.7l.1,.0l.1-.1l.1,.2l.1-.1l.1,.6l.1,.0l.1-.4l.1-.4l.1-1.0l.1,.7l.1,.4l.1,.1l.1-1.5l.1,.4l.1,1.1l.1-.5l.1,.3l.1,.1l.1,.4l.1-.8l.1,.4l.1,.7l.1-.4l.1-.4l.1,.6l.1-.1l.1-.4l.1,.7l.1,.0l.1-.3l.1,.3l.1-.8l.1,.8l.1-.3l.1-.4l.1,.0l.1,.9l.1-.8l.1,.2l.1-.2l.1,.0l.1,.9l.1,.3l.1-.2l.1-.5l.1,.0l.1-.4l.1,.0l.1-.1l.1,.9l.1-.6l.1,.0l.1-.2l.1,.2l.1-.5l.1,.5l.1,.1l.1,.4l.1-.8l.1,.5l.1-.3l.1-.1l.1,1.1l.1-.3l.1-.5l.1,.4l.1-.1l.1,.5l.1-.9l.1,.3l.1-.3l.1,.0l.1-.2l.1-.2l.1,.2l.1,.6l.1-.5l.1,.2l.1,.3l.1-.3l.1,.5l.1-.2l.1-.9l.1,.8l.1-.3l.1,.6l.1,.2l.1-.6l.1-.1l.1,.1l.1,.0l.1,.2l.1-.2l.1-.4l.1,.3l.1-.1l.1-.3l.1,.1l.1,.3l.1,.5l.1,.1l.1,.2l.1-.5l.1-.1l.1,.2l.1,.5l.1-.5l.1,.0l.1-.6l.1,.6l.1,.0l.1-.5l.1,1.0l.1-1.0l.1,1.0l.1-.5l.1,.1l.1-.5l.1,.2l.1,.4l.1-.5l.1,.0l.1,.6l.1-.1l.1-.3l.1,.0l.1,.5l.1-.9l.1,.2l.1-.1l.1-.7l.1-.1l.1,.6l.1,.3l.1-.5l.1-.1l.1,.0l.1,.7l.1-.4l.1-.6l.1,1.0l.1-.1l.1,.1l.1,.2l.1,.3l.1-.2l.1-.2l.1-.9l.1,.9l.1-.1l.1,.5l.1-.2l.1-.2l.1,.2l.1-.5l.1,.0l.1-.3l.1,.5l.1,.2l.1,.5l.1-.8l.1,.6l.1,.5l.1-1.7l.1,.3l.1,.1l.1,.5l.1,.4l.1-.1l.1-.2l.1-.2l.1,.3l.1,.2l.1,.0l.1-.5l.1,1.2l.1-1.1l.1,.7l.1-.5l.1-.5l.1,.5l.1-.3l.1-.3l.1,.3l.1-.4l.1,1.2l.1-.6l.1-.6l.1-.3l.1,1.5l.1-.5l.1,.0l.1-.4l.1-.3l.1-.1l.1,1.7l.1-.3l.1-.8l.1,.7l.1-1.4l.1,.9l.1,.1l.1-.5l.1,.2l.1-.1l.1,.2l.1,.5l.1-.2l.1-.2l.1,.2l.1-1.0l.1,1.6l.1-.8l.1-.5l.1,.2l.1-.2l.1,.0l.1,.1l.1-.8l.1,1.5l.1,.1l.1-.8l.1,1.3l.1-.2l.1-.2l.1,.2l.1-1.1l.1,.8l.1-.9l.1,1.4l.1-1.3l.1-.3l.1,1.0l.1-.4l.1-.2l.1,.2l.1,.0l.1,.5l.1-1.1l.1,.1l.1-.1l.1,.2l.1-.1l.1-.4l.1,.6l.1-.8l.1,.3l.1-.2l.1-.3l.1,.5l.1-.2l.1-.5l.1-.3l.1-1.4l.1-.2l.1-1.8l.1-.8l.1-1.2l.1-1.5l.1-.5l.1,.1l.1,.5l.1,.2l.1,.9l.1,.8l.1,1.7l.1,.5l.1,.8l.1,1.4l.1,.6l.1,.2l.1,.0l.1,1.1l.1,.6l.1-.4l.1-.2l.1-.7l.1,1.2l.1-.8l.1,.7l.1-.4l.1,.2l.1,.1l.1-.8l.1,1.8l.1-1.7l.1,.5l.1-.4l.1,.1l.1,.5l.1-1.0l.1,.7l.1,.4l.1-.1l.1,.1l.1-.2l.1-.5l.1,.0l.1,.3l.1,.3l.1-.3l.1,.6l.1-.7l.1,.2l.1,.1l.1-.5l.1,1.0l.1-.7l.1,.5l.1,1.0l.1-1.6l.1,.4l.1,.0l.1,.2l.1-.2l.1,.0l.1,1.1l.1-1.5l.1,.4l.1,.9l.1-.4l.1-.6l.1,.1l.1,.1l.1,1.0l.1-.8l.1-.9l.1,.4l.1-.5l.1,1.0l.1-.6l.1,.6l.1-.2l.1,.6l.1-.5l.1-.1l.1-.2l.1,.3l.1,.2l.1-.1l.1,1.1l.1-1.1l.1-.3l.1,.6l.1-.6l.1,.4l.1-.1l.1-.1l.1,.6l.1-.6l.1,.5l.1-.5l.1-.6l.1,.2l.1,.4l.1,.1l.1,.1l.1,.2l.1-.5l.1,.3l.1-.4l.1,.2l.1,1.2l.1-.8l.1-.8l.1,1.0l.1-.3l.1-.1l.1,.4l.1-.6l.1,.0l.1-.4l.1,.7l.1-.9l.1,.4l.1,.5l.1-.2l.1,.5l.1,.5l.1-1.1l.1,.7l.1-1.0l.1,.1l.1,.2l.1,.4l.1-.5l.1,.2l.1,.2l.1-.4l.1,.4l.1-.2l.1,.1l.1,.2l.1-.3l.1,.7l.1-.8l.1,.1l.1,1.1l.1-.2l.1-.6l.1,.3l.1-.2l.1-.5l.1,.6l.1-.3l.1,.4l.1-1.3l.1,.9l.1-.4l.1-.5l.1,.1l.1-.1l.1-.2l.1,.2l.1,.6l.1-.8l.1,.7l.1-.8l.1,.8l.1,.6l.1-.3l.1,.0l.1-.8l.1,.7l.1-.7l.1,.4l.1-.1l.1-.3l.1,.9l.1-.7l.1,.4l.1-.4l.1-.1l.1,.3l.1-.2l.1-.3l.1-.1l.1,.2l.1-.2l.1-.2l.1-.3l.1-.5l.1,1.4l.1-.1l.1,.6l.1-.2l.1,.2l.1,.2l.1-1.1l.1-.3l.1,.9l.1-.7l.1,.3l.1,.9l.1-.3l.1,.2l.1-1.0l.1,.3l.1,.5l.1-1.1l.1,.7l.1,.1l.1-.9l.1,1.6l.1-1.2l.1,.2l.1,.5l.1-1.2l.1,.7l.1-.2l.1,.3l.1-.3l.1,.8l.1-1.0l.1,.7l.1,.0l.1-.4l.1,.0l.1,.1l.1,.5l.1-.3l.1-.4l.1-.3l.1,.4l.1,.2l.1-.5l.1,.8l.1-1.3l.1,1.8l.1-1.1l.1-.6l.1-.3l.1,1.0l.1,.0l.1-.4l.1,.1l.1,.4l.1-.2l.1,.5l.1-.2l.1-.3l.1-.6l.1,1.1l.1-.7l.1-.4l.1,.8l.1-.2l.1-1.2l.1,.2l.1,.4l.1-.4l.1,.2l.1,1.1l.1,.3l.1-1.3l.1,.3l.1,.3l.1-.2l.1-.5l.1,.8l.1-.5l.1,.4l.1,.1l.1-.7l.1,1.0l.1-.5l.1-.1l.1-.2l.1,.4l.1,.3l.1-.9l.1,.5l.1-.4l.1-.3l.1,.2l.1,.0l.1,.2l.1,.1l.1-.7l.1-.1l.1,.1l.1,.4l.1-.4l.1-.3l.1-.2l.1,1.3l.1,.0l.1-.6l.1,.9l.1-.6l.1,.2l.1,.3l.1-.5l.1-.2l.1-.4l.1,.9l.1,.2l.1,.0l.1-.5l.1-.4l.1,.5l.1-1.0l.1,.4l.1,.2l.1,.0l.1,.9l.1-.7l.1,.3l.1-.2l.1-.6l.1,.7l.1-.6l.1-.3l.1-.1l.1-.4l.1,.3l.1-.1l.1,.3l.1-.5l.1,.3l.1-.5l.1-.7l.1,.2l.1-.4l.1-.2l.1-.1l.1,.2l.1-1.4l.1-1.2l.1-.3l.1,.3l.1-2.3l.1-1.2l.1-1.7l.1-1.1l.1-1.6l.1-2.7l.1-1.9l.1-3.3l.1-2.1l.1-3.3l.1-1.9l.1-3.2l.1-2.2l.1-2.8l.1-1.6l.1-1.6l.1-1.1l.1-.4l.1,.3l.1,1.2l.1,2.2l.1,1.7l.1,2.1l.1,3.0l.1,2.1l.1,2.9l.1,2.8l.1,2.6l.1,2.5l.1,2.4l.1,2.3l.1,1.1l.1,1.5l.1,1.5l.1,1.6l.1,1.1l.1,.4l.1,1.1l.1,.6l.1,.6l.1,.5l.1,.4l.1,.3l.1,.9l.1-.8l.1,.8l.1,.6l.1,.2l.1-.7l.1,.0l.1-.4l.1,.7l.1,1.0l.1-1.7l.1,.3l.1,.8l.1,.1l.1-1.0l.1,.7l.1,.2l.1-.9l.1,.9l.1-1.0l.1,1.2l.1-.3l.1-.4l.1-.4l.1,.7l.1,.3l.1-.1l.1-.3l.1,.3l.1,.7l.1-.8l.1,.2l.1,.3l.1,.0l.1,.3l.1,.3l.1-.4l.1,.3l.1-1.2l.1,.7l.1,.6l.1-.6l.1,.9l.1-1.3l.1,1.4l.1-.2l.1-.4l.1,.0l.1,.1l.1-.3l.1-.5l.1,.1l.1,.7l.1-.2l.1,.3l.1-.8l.1,.2l.1,.0l.1,.4l.1,.4l.1,.4l.1-.6l.1,.0l.1,.5l.1-1.2l.1-.5l.1,1.1l.1,.0l.1,.0l.1,.3l.1-.2l.1,.1l.1,.0l.1,.0l.1-.1l.1-.4l.1-.2l.1-1.0l.1,1.5l.1-1.0l.1,.9l.1,1.0l.1-1.0l.1-.3l.1,1.2l.1-.8l.1-.2l.1,.0l.1,.5l.1-.2l.1-.5l.1,.6l.1-.6l.1,.8l.1-.6l.1,.5l.1-.6l.1,.1l.1,.8l.1-1.3l.1,.1l.1,.6l.1,.0l.1-.2l.1,.2l.1,1.0l.1-1.4l.1,.4l.1,.1l.1-.4l.1,.4l.1,.4l.1-.4l.1,.8l.1-.8l.1,.5l.1,.2l.1,1.1l.1-2.1l.1,.6l.1,.9l.1-1.2l.1,.5l.1-.5l.1-.6l.1,.9l.1-.4l.1,.3l.1-.7l.1,1.1l.1-1.2l.1,.9l.1,.6l.1-.3l.1-.2l.1,.3l.1-.3l.1,1.2l.1-1.2l.1,.4l.1-.3l.1-.1l.1,.7l.1-.4l.1-.4l.1-.3l.1,.2l.1,.0l.1-.5l.1,.2l.1-.1l.1,1.1l.1-.8l.1,.0l.1,.3l.1-.3l.1-.7l.1,.4l.1,1.0l.1-.4l.1,.2l.1-.5l.1-.2l.1,.4l.1,.8l.1-1.0l.1,.0l.1,.6l.1-.6l.1-.1l.1,.3l.1,.0l.1-.1l.1,.5l.1-.6l.1,.2l.1,.1l.1-.7l.1,.2l.1-.5l.1,1.1l.1,.0l.1,.3l.1-.1l.1,.2l.1-.3l.1-.9l.1,.7l.1-.8l.1,1.3l.1-1.1l.1,.1l.1-.6l.1,.7l.1,.1l.1-1.0l.1,.6l.1,.2l.1,.0l.1,.9l.1,.3l.1-1.4l.1,.8l.1-.8l.1,.6l.1-1.3l.1,.7l.1,.9l.1-.8l.1,1.0l.1-.6l.1,.5l.1-.1l.1-.7l.1-.1l.1,.0l.1,.3l.1-.4l.1-.5l.1,1.5l.1-1.9l.1,.7l.1,.5l.1-.4l.1,.5l.1,.0l.1-.6l.1,.9l.1-.6l.1-.2l.1,.9l.1-1.0l.1,.8l.1,.1l.1,.1l.1-.2l.1-.3l.1-.5l.1,.6l.1-.1l.1-.6l.1,.0l.1,.9l.1-.8l.1,.5l.1-.2l.1-.6l.1,1.2l.1-.6l.1,.0l.1-.7l.1,.5l.1,.2l.1-.2l.1,1.1l.1-1.6l.1,1.0l.1-1.1l.1,.2l.1-.3l.1,.8l.1-.3l.1-.1l.1,.0l.1-.2l.1,.4l.1-.3l.1,.4l.1,.1l.1-.7l.1,.7l.1,.7l.1-.6l.1,.1l.1-.3l.1-.3l.1,.1l.1-.7l.1,.5l.1-.7l.1,.8l.1-.6l.1,1.2l.1,.0l.1-1.0l.1,1.1l.1-.5l.1,.4l.1-.9l.1,.2l.1-.2l.1,.4l.1-1.1l.1,1.2l.1-.5l.1-.5l.1,.0l.1,.4l.1-.3l.1,.0l.1-.9l.1-.4l.1,.4l.1,.0l.1-.1l.1,.6l.1,.1l.1-1.1l.1-1.1l.1,.5l.1-1.6l.1-.5l.1-.4l.1-1.0l.1-1.5l.1-1.0l.1-1.0l.1-1.5l.1-1.2l.1-4.0l.1-.9l.1-1.7l.1-1.2l.1-2.2l.1-1.8l.1-2.5l.1-.8l.1-.7l.1-1.1l.1-.1l.1,.6l.1,1.2l.1-.2l.1,2.7l.1,1.0l.1,1.3l.1,2.3l.1,1.7l.1,2.2l.1,1.0l.1,2.5l.1,.9l.1,2.1l.1,1.3l.1,.8l.1,1.5l.1,.5l.1,1.4l.1,.2l.1,.6l.1,.9l.1,.6l.1,.0l.1,.9l.1-.1l.1,.5l.1-.7l.1,.0l.1,.6l.1,.0l.1,.3l.1,.3l.1,.2l.1,.4l.1-.5l.1-.5l.1,.6l.1-.4l.1,.5l.1-.6l.1,1.2l.1-.4l.1-.2l.1-.4l.1,.8l.1-.3l.1,.3l.1-.5l.1,.1l.1,.7l.1,.2l.1-1.2l.1,.4l.1,.4l.1-.3l.1-.3l.1,1.3l.1-1.2l.1,.4l.1-.3l.1,.2l.1-.7l.1,.9l.1-.5l.1-.2l.1,.9l.1-.9l.1-.2l.1,.1l.1,.7l.1-.5l.1-.1l.1-.4l.1,.3l.1,.4l.1-.1l.1-.8l.1,.7l.1,.5l.1,.9l.1-1.2l.1-.6l.1,1.0l.1-.6l.1-.2l.1,.8l.1-.5l.1-.5l.1,.0l.1,.8l.1,.0l.1-.7l.1,1.0l.1-.9l.1,1.1l.1-.8l.1-.3l.1,.0l.1-.2l.1,.3l.1,.7l.1-.7l.1,.6l.1-.5l.1,.2l.1,.5l.1-1.1l.1,.4l.1-1.1l.1,.4l.1,.5l.1,.6l.1,.0l.1-.5l.1,.3l.1,.1l.1-.9l.1,.7l.1,.5l.1,.1l.1-.5l.1,.0l.1-.2l.1,.1l.1,.1l.1,.3l.1-.1l.1-.3l.1,.6l.1,.1l.1-.6l.1,.2l.1-.1l.1-.6l.1,1.0l.1,.4l.1,.6l.1-.8l.1-.2l.1,.0l.1-.1l.1,.1l.1-1.0l.1,.6l.1,.0l.1-1.0l.1,1.6l.1-.8l.1,.5l.1-.5l.1,.2l.1,.0l.1,.1l.1,.3l.1-.6l.1-.3l.1,.2l.1,.1l.1,.7l.1-.8l.1,1.3l.1-.4l.1-.3l.1,.4l.1-.8l.1,.1l.1,.1l.1-.5l.1-.7l.1,1.4l.1-.7l.1-.8l.1,.7l.1,.8l.1,.2l.1,.4l.1,.4l.1-.4l.1,.4l.1-.6l.1-.8l.1,.9l.1-.9l.1,.4l.1-.1l.1-.5l.1,.1l.1,.2l.1,.4l.1,.4l.1-.6l.1,.5l.1-.7l.1-.7l.1,.0l.1,.3l.1-.2l.1,.3l.1,.4l.1-.2l.1,.3l.1-.5l.1-.4l.1-.1l.1-.2l.1,.6l.1,.2l.1-.2l.1,.3l.1,.7l.1-1.2l.1,.5l.1-.3l.1-.2l.1,1.0l.1-.4l.1,.4l.1-1.1l.1,1.3l.1,.3l.1-1.3l.1,.3l.1-.2l.1,.4l.1-.7l.1,.5l.1,.0l.1-.6l.1-.7l.1,.7l.1,.2l.1,.7l.1-.5l.1-.3l.1,.9l.1-.2l.1,.1l.1-.4l.1,.3l.1,.0l.1-1.1l.1,.7l.1,.3l.1-.4l.1,.9l.1-.9l.1,.7l.1-.7l.1,.3l.1-.3l.1-.2l.1-.2l.1,.5l.1,.0l.1-.4l.1-.1l.1,.1l.1,.8l.1-.7l.1,1.2l.1-1.0l.1,1.0l.1,.0l.1,.2l.1-.6l.1-.4l.1-.2l.1,.8l.1-.3l.1-.1l.1,.0l.1,.4l.1-.2l.1,.5l.1-1.4l.1,1.0l.1-.5l.1,.3l.1,.1l.1-.1l.1,.4l.1,.0l.1-.7l.1,.4l.1-.1l.1,.2l.1-.3l.1-.1l.1,.3l.1-.9l.1,1.4l.1-1.1l.1-.3l.1,.6l.1,.1l.1,.3l.1,.2l.1-.5l.1-.1l.1,.2l.1-.1l.1-.5l.1,.8l.1,.1l.1-.6l.1,.1l.1-.4l.1-.4l.1,.4l.1,.2l.1,.2l.1-.5l.1-.1l.1,1.0l.1,.4l.1-1.4l.1,.9l.1,.5l.1-.9l.1-.2l.1,.7l.1-.4l.1-.2l.1,.7l.1,.2l.1-.1l.1-.5l.1,.0l.1,.2l.1-.4l.1,.6l.1-.1l.1-.7l.1,.8l.1,.5l.1-.3l.1-.8l.1,.3l.1,.2l.1,.1l.1-.3l.1-.2l.1,.7l.1,.3l.1-1.1l.1-.4l.1,.8l.1-.1l.1-.1l.1-.6l.1,.3l.1-.6l.1,1.2l.1,.3l.1-1.0l.1-.6l.1,1.0l.1,.1l.1,.0l.1-.3l.1,.4l.1,.9l.1-1.5l.1,.1l.1,.3l.1-.8l.1,.8l.1-.6l.1-.5l.1,.2l.1,.6l.1,.0l.1,.0l.1-.3l.1-.3l.1,.3l.1-.1l.1,1.0l.1-1.8l.1,1.5l.1-.2l.1,.1l.1-.3l.1-.2l.1,.1l.1-.4l.1,1.4l.1-.4l.1-.1l.1-.3l.1-1.0l.1,.7l.1,.2l.1,.3l.1-1.1l.1,.5l.1-.2l.1,.4l.1-.2l.1,.7l.1,.1l.1-.5l.1,1.3l.1,.1l.1-1.2l.1,.6l.1-1.1l.1-.1l.1,1.0l.1-.5l.1,.4l.1-.4l.1,.5l.1-.3l.1,.4l.1,.1l.1-.5l.1-.4l.1,.1l.1-.4l.1,.7l.1-.2l.1-.4l.1,.3l.1-.6l.1,1.0l.1-.3l.1,.4l.1-.8l.1-.1l.1-.3l.1,.9l.1-.8l.1,1.0l.1-.4l.1,.4l.1-.9l.1,.6l.1,.3l.1,.2l.1-.9l.1,.6l.1-.4l.1,.5l.1-.5l.1-.1l.1,.3l.1,.5l.1-.5l.1,.5l.1-.7l.1,.4l.1-.7l.1,.3l.1-.7l.1,.1l.1,.1l.1-.4l.1-.2l.1,.8l.1,.2l.1,.2l.1-.3l.1,.5l.1-.6l.1,.3l.1-.4l.1,.6l.1,.2l.1-.6l.1,.4l.1,.3l.1-.1l.1,.0l.1-.3l.1-.6l.1,.7l.1-.5l.1,.5l.1-1.0l.1,1.6l.1,.1l.1-.8l.1-.7l.1,.3l.1,.6l.1-.2l.1-.5l.1,.9l.1,.0l.1,.0l.1-.7l.1,.2l.1-.4l.1,.5l.1-.5l.1,.6l.1-.4l.1,.1l.1,.0l.1,.0l.1-.7l.1,.9l.1-.6l.1-.3l.1-.2l.1-.1l.1-.2l.1,.5l.1-.1l.1,.2l.1,.0l.1-.3l.1,1.1l.1-1.1l.1,.1l.1,.2l.1-.2l.1,.1l.1,.1l.1-.7l.1-.3l.1,.1l.1-1.2l.1,.8l.1-.4l.1-.1l.1-1.3l.1,.2l.1-.5l.1-.1l.1,.1l.1-.6l.1-.4l.1,.5l.1-.8l.1-1.0l.1,.5l.1,.6l.1-.1l.1-.1l.1,.0l.1-.2l.1,.3l.1-.3l.1,.5l.1,.3l.1,.4l.1,.3l.1,.4l.1-.1l.1,1.0l.1-.4l.1,1.2l.1,.1l.1-.7l.1,.8l.1-.7l.1,.9l.1-.3l.1-.4l.1-.5l.1,1.1l.1-.4l.1,1.5l.1-1.0l.1,.3l.1,.4l.1-.2l.1,.1l.1-.1l.1,.5l.1-.4l.1,.6l.1-.7l.1,.6l.1-.8l.1,.4l.1,.3l.1,.3l.1-1.2l.1,.5l.1-.1l.1,.5l.1-.9l.1,.4l.1-.4l.1-.4l.1,.7l.1-.3l.1,.9l.1,.3l.1,.4l.1-.9l.1,1.1l.1,.0l.1-1.3l.1,1.5l.1-.4l.1-1.0l.1,.6l.1-.9l.1,.7l.1,.0l.1,.2l.1-.7l.1,.4l.1-.3l.1,.4l.1,.2l.1-.3l.1,.6l.1-.5l.1-.3l.1,.4l.1-.9l.1,.4l.1-1.0l.1,.8l.1-.2l.1,.4l.1-.5l.1,.2l.1,.4l.1,.1l.1,.3l.1-.7l.1-.3l.1-.3l.1,1.4l.1-1.0l.1,.4l.1,.1l.1,.7l.1-.5l.1,.5l.1-.9l.1,.6l.1,.0l.1,.1l.1-.9l.1,.3l.1,.1l.1-.9l.1,.8l.1,.0l.1,.1l.1-.6l.1,.7l.1,.3l.1,.2l.1-.6l.1,.5l.1,.5l.1-1.0l.1,.0l.1,.1l.1-.5l.1,.5l.1,.6l.1-1.1l.1,.3l.1,.6l.1,.0l.1-.3l.1,.0l.1,.3l.1,.1l.1,.2l.1-.4l.1,.5l.1-1.2l.1,1.0l.1-.5l.1,.4l.1-.1l.1,.5l.1-.5l.1,.3l.1-.8l.1,.5l.1,.5l.1-.3l.1-.4l.1,.3l.1-.1l.1,.0l.1,.0l.1,.7l.1-.2l.1,.1l.1,.0l.1-1.1l.1,.4l.1-.4l.1-.4l.1,.4l.1,.3l.1,.9l.1-.7l.1-.2l.1-.1l.1-.3l.1,.3l.1-.1l.1-.5l.1,.4l.1,1.8l.1-1.0l.1-.4l.1,.4l.1-.7l.1,.4l.1,.2l.1-1.2l.1,.4l.1,.2l.1-.1l.1,.0l.1,.4l.1,.5l.1-.2l.1,.1l.1,.2l.1-.6l.1,.3l.1-.3l.1,.4l.1-.4l.1,.1l.1,.7l.1-.7l.1-.8l.1,.5l.1-.1l.1-.3l.1,.1l.1,.3l.1-.5l.1,.4l.1-.1l.1,.4l.1-.2l.1-.3l.1,.3l.1,.6l.1-1.4l.1,.1l.1,.7l.1-.7l.1,1.2l.1-1.3l.1,.2l.1,.6l.1,.8l.1-.1l.1-.1l.1-.2l.1,.1l.1-1.6l.1,.8l.1,.5l.1-1.1l.1,.7l.1,.5l.1,.1l.1-.5l.1,.6l.1-.4l.1,.3l.1-.7l.1,.0l.1-.2l.1,1.1l.1-1.6l.1,.0l.1,1.1l.1,.2l.1-1.1l.1,1.1l.1-.1l.1,.8l.1-1.1l.1,.1l.1,.6l.1-.3l.1-.6l.1,.2l.1-.7l.1,1.3l.1-.7l.1,.9l.1,.0l.1-.5l.1,.4l.1,.4l.1-.1l.1,.3l.1,.1l.1-.4l.1,.1l.1-.6l.1,.0l.1,.6l.1-.4l.1-.8l.1,.4l.1-.3l.1,.2l.1,.7l.1-.8l.1,.3l.1,.3l.1-.4l.1,.1l.1-.7l.1,.6l.1-.1l.1,.1l.1,.1l.1,.0l.1,.3l.1,.4l.1-.7l.1,.4l.1-.3l.1-.6l.1,.9l.1,.4l.1,.0l.1-.8l.1,1.2l.1-1.0l.1-.2l.1,.1l.1,.8l.1-.5l.1,.1l.1-1.3l.1,.8l.1,.0l.1,.2l.1-.6l.1,.7l.1-.7l.1-.2l.1-.2l.1,1.1l.1,.1l.1-.5l.1,.7l.1-.5l.1,.1l.1-.6l.1,.2l.1,.1l.1,.1l.1-.3l.1,.7l.1,.2l.1-1.0l.1,.6l.1-.6l.1,.5l.1-.5l.1,.4l.1,.3l.1-.3l.1,.5l.1-.6l.1,.1l.1,.2l.1-.5l.1,.2l.1-.2l.1-.1l.1,.5l.1-.3l.1,.6l.1,.2l.1-.6l.1-.1l.1,.1l.1,.1l.1-.7l.1,1.2l.1-.5l.1,.6l.1-.9l.1,.4l.1,.1l.1,.0l.1,.4l.1-.5l.1-.1l.1,.0l.1-1.1l.1,.6l.1,.0l.1,1.0l.1-.5l.1,.1l.1,.0l.1-.3l.1,.7l.1-.9l.1-.5l.1,.9l.1,.2l.1-.5l.1,.0l.1,.4l.1,.4l.1-.5l.1,.7l.1-.6l.1,.7l.1-1.3l.1,.8l.1-.1l.1,.0l.1-.5l.1,.9l.1-.4l.1-.3l.1,.1l.1-.2l.1,.2l.1-.5l.1-.1l.1,.6l.1,.0l.1,.8l.1-.9l.1,.7l.1,.2l.1-.8l.1,.2l.1-.3l.1-.3l.1,.5l.1-1.1l.1,.0l.1-.4l.1,.6l.1,.6l.1-.4l.1,.4l.1-.5l.1,.6l.1-.5l.1-.2l.1,.7l.1-.3l.1,.2l.1-.1l.1,.4l.1-.1l.1-.4l.1,.3l.1,.3l.1-.2l.1-.4l.1,.8l.1-1.0l.1,.2l.1-.1l.1-.4l.1-.1l.1,.5l.1-.1l.1-.1l.1-.5l.1,.7l.1,.2l.1,.5l.1,.3l.1-.4l.1,.3l.1,.3l.1-1.3l.1,1.1l.1-.8l.1,.4l.1-.5l.1-.7l.1-.1l.1,.6l.1-.1l.1,.4l.1-.1l.1,1.0l.1-.7l.1,.8l.1-1.2l.1,.4l.1,.1l.1-.8l.1,.2l.1,.5l.1,.3l.1,.3l.1,.1l.1,.3l.1-1.0l.1,.3l.1,.8l.1-.9l.1-.3l.1-.6l.1,.8l.1-.6l.1,.6l.1,.3l.1-.5l.1-.1l.1-.6l.1,.5l.1-.5l.1,.4l.1,.9l.1-1.4l.1,.5l.1-.3l.1,1.0l.1-.7l.1-.1l.1,.1l.1,1.0l.1-.3l.1,.0l.1-.3l.1,.2l.1,.1l.1-.5l.1-.6l.1,.0l.1,.2l.1,.6l.1-.8l.1,.3l.1,.0l.1-.5l.1-.2l.1,.8l.1,.1l.1,.1l.1,.1l.1,.4l.1-.4l.1,.0l.1-.8l.1,.7l.1-.1l.1,.5l.1-.1l.1,.4l.1,.0l.1-.1l.1-.3l.1-.3l.1-.3l.1,.1l.1-.5l.1,.3l.1-.1l.1-.6l.1-.3l.1,.7l.1,.0l.1,.3l.1,.5l.1-.8l.1-.1l.1,.5l.1,.5l.1,.1l.1-1.0l.1,.4l.1-.2l.1,.8l.1-.2l.1-.1l.1,.2l.1-.7l.1,.2l.1,.0l.1-.3l.1-.2l.1,.4l.1-.2l.1,.4l.1-.1l.1-.4l.1-.9l.1,.1l.1,.3l.1,.2l.1-.6l.1,.3l.1,.3l.1-.1l.1,.4l.1,.0l.1,.0l.1,.0l.1,.2l.1,.1l.1-.5l.1-.5l.1,.4l.1,.4l.1-.9l.1,.9l.1-.7l.1,.0l.1-.3l.1,.8l.1,.0l.1,.1l.1-.9l.1,1.1l.1-1.0l.1,.3l.1,.2l.1-.5l.1,.2l.1-.4l.1,.0l.1-.5l.1,.5l.1,.2l.1-.8l.1,.1l.1,.2l.1-.1l.1,.3l.1,.1l.1,.0l.1,.2l.1-.4l.1-.9l.1,.2l.1,.5l.1,.4l.1-1.1l.1-.5l.1,.7l.1-.9l.1-.1l.1-.2l.1-1.2l.1-.2l.1-.5l.1-.6l.1-.6l.1-1.7l.1-.6l.1-2.6l.1-.9l.1-1.7l.1-2.6l.1-3.1l.1-2.3l.1-3.4l.1-2.4l.1-4.4l.1-3.5l.1-4.0l.1-3.9l.1-4.4l.1-4.1l.1-4.5l.1-3.2l.1-3.7l.1-1.9l.1-1.7l.1-.3l.1,.1l.1,.9l.1,2.5l.1,3.3l.1,4.4l.1,3.6l.1,4.4l.1,4.9l.1,3.7l.1,4.4l.1,3.8l.1,3.5l.1,3.6l.1,3.6l.1,2.8l.1,2.1l.1,3.1l.1,.8l.1,1.3l.1,1.2l.1,1.3l.1,1.5l.1-.3l.1,1.8l.1,.2l.1,.8l.1,.3l.1-.2l.1,.6l.1,1.0l.1-.8l.1,.3l.1-.1l.1,1.0l.1,.1l.1-.2l.1,.4l.1,.2l.1-.6l.1,.9l.1-.6l.1,.1l.1,.2l.1-.1l.1,.6l.1,.0l.1,.5l.1-.6l.1-.4l.1,.2l.1-.5l.1,.3l.1,.9l.1-.9l.1,.2l.1,.4l.1,.0l.1,.2l.1-.4l.1,.1l.1,.9l.1-.7l.1,.0l.1,.2l.1-1.0l.1,.4l.1-.3l.1,.4l.1-.3l.1-.8l.1,1.1l.1-1.2l.1,1.2l.1-.1l.1,.1l.1,.2l.1,.5l.1-.7l.1-.3l.1,.5l.1-.1l.1,.2l.1-.1l.1-.1l.1,.2l.1,.2l.1,.6l.1,.0l.1,.2l.1-1.2l.1,.3l.1,.0l.1,.3l.1-.2l.1,1.3l.1-.3l.1-.8l.1-.2l.1-.1l.1-.3l.1-.1l.1,.7l.1,.6l.1-.1l.1,.2l.1-1.0l.1-.4l.1,1.8l.1-.7l.1-.2l.1,.6l.1-1.0l.1,.2l.1-.1l.1,.8l.1-.3l.1-1.1l.1,1.4l.1-.9l.1,.1l.1-.3l.1,1.0l.1-.6l.1,.4l.1-.9l.1,.9l.1-.4l.1-.2l.1,.1l.1-.1l.1-.1l.1,.1l.1,.6l.1,.3l.1-1.1l.1,.2l.1,.1l.1-.5l.1,.3l.1,.1l.1,.0l.1,.3l.1,.5l.1,.1l.1-.3l.1,.1l.1-.6l.1,.0l.1,.5l.1-.2l.1,.7l.1-1.0l.1-.3l.1,.5l.1-.3l.1-.2l.1,1.0l.1,.4l.1-.3l.1-.5l.1,.5l.1-.3l.1-.6l.1,.7l.1-.4l.1,.4l.1-.7l.1,.4l.1,.0l.1-.6l.1,1.7l.1-1.9l.1,.3l.1,.2l.1-.5l.1,.6l.1-.3l.1,.3l.1,.2l.1-.2l.1,.0l.1,.1l.1,.2l.1,.2l.1-.5l.1-.1l.1,.0l.1,.1l.1-.2l.1-.2l.1-.2l.1,1.4l.1-1.1l.1,1.3l.1-.2l.1,.1l.1-.5l.1,.1l.1,.1l.1-.2l.1,.1l.1,.3l.1-.7l.1,.5l.1,.4l.1,.2l.1-.9l.1,.4l.1,.1l.1-.1l.1-1.0l.1,1.2l.1-1.0l.1,1.6l.1-.9l.1-.2l.1,.3l.1-.2l.1-.4l.1,.1l.1,.4l.1-.6l.1,.7l.1,.1l.1,.0l.1,.0l.1,.0l.1-.2l.1,.1l.1-.4l.1,.3l.1,.4l.1,.4l.1-1.0l.1-.4l.1,1.4l.1-.4l.1,.1l.1-.6l.1-.1l.1-.3l.1-.2l.1,1.0l.1,.1l.1-.2l.1-.6l.1,.3l.1,.0l.1,.1l.1-1.2l.1,1.4l.1,.6l.1-1.1l.1,.3l.1,.0l.1-.4l.1,.4l.1-.5l.1,.2l.1,.2l.1-.1l.1,.1l.1-.4l.1,.6l.1-.6l.1,.7l.1-.4l.1-.3l.1,.4l.1-.3l.1,.1l.1,.3l.1,.5l.1-.1l.1,.0l.1-.3l.1-.5l.1,.4l.1-.1l.1,.1l.1-.2l.1,.2l.1,.4l.1-.8l.1,.4l.1,.6" fill="none" stroke="#1a1ad8" stroke-width="0.65" stroke-linejoin="round"/>
<path d="M35.50,404.0l.4-.1l.4-.3l.4-.1l.4,.0l.4,.5l.4-.3l.4-.3l.4,.0l.4,.3l.4,.4l.4-.6l.4,.3l.4-.4l.4,.3l.4-.1l.4-.5l.4,.1l.4,.1l.4,.2l.4,.0l.4,.0l.4-.2l.4,.5l.4-.2l.4,.2l.4,.0l.4,.1l.4-.1l.4-.3l.4-.1l.4,.0l.4,.4l.4-.2l.4-.4l.4,.1l.4,.0l.4,.2l.4-.1l.4,.2l.4-.1l.4-.2l.4-.1l.4,.0l.4-.2l.4,.4l.4,.2l.4-.4l.4,.0l.4,.1l.4-.2l.4,.0l.4-.2l.4,.0l.4,.1l.4,.1l.4,.2l.4,.0l.4-.3l.4,.0l.4,.0l.4-.1l.4,.0l.4,.2l.4,.2l.4-.4l.4-.1l.4,.1l.4-.1l.4-.3l.4-.1l.4,.6l.4-.2l.4,.1l.4-.1l.4,.1l.4-.2l.4-.1l.4,.0l.4-.1l.4-.3l.4,.1l.4,.4l.4,.3l.4-.5l.4-.1l.4,.2l.4-.2l.4-.1l.4,.1l.4-.1l.4,.1l.4-.2l.4-.1l.4,.3l.4,.1l.4-.2l.4-.3l.4,.2l.4,.2l.4-.2l.4-.3l.4,.2l.4,.3l.4-.4l.4,.2l.4-.1l.4-.2l.4,.2l.4-.4l.4,.0l.4-.1l.4,.3l.4-.3l.4,.1l.4-.1l.4-.1l.4,.3l.4,.1l.4-.1l.4,.0l.4-.1l.4-.2l.4-.1l.4,.1l.4-.1l.4,.2l.4-.2l.4,.0l.4,.1l.4-.1l.4,.1l.4-.3l.4-.2l.4-.2l.4,.3l.4,.0l.4-.1l.4-.3l.4,.1l.4,.4l.4-.4l.4-.1l.4,.1l.4,.2l.4-.1l.4-.1l.4-.1l.4,.1l.4,.0l.4,.6l.4-.5l.4-.3l.4-.1l.4,.2l.4-.1l.4-.4l.4,.4l.4,.3l.4-.8l.4,.0l.4-.1l.4,.6l.4,.1l.4,.1l.4-.4l.4,.1l.4,.2l.4-.1l.4-.1l.4-.1l.4-.2l.4,.1l.4-.1l.4-.1l.4,.3l.4,.2l.4,.1l.4-.3l.4,.1l.4-.2l.4,.0l.4-.3l.4,.3l.4-.3l.4,.0l.4-.1l.4-.2l.4,.1l.4-.1l.4,.6l.4,.0l.4-.5l.4,.3l.4-.1l.4,.1l.4,.0l.4-.5l.4,.0l.4,.3l.4,.2l.4-.2l.4-.3l.4,.0l.4,.2l.4-.1l.4,.0l.4,.2l.4,.1l.4-.3l.4,.3l.4,.0l.4-.1l.4,.1l.4-.3l.4-.2l.4,.4l.4,.0l.4,.1l.4,.2l.4-.4l.4-.2l.4,.1l.4,.1l.4,.2l.4,.1l.4,.0l.4-.4l.4-.5l.4,.4l.4-.2l.4,.2l.4,.1l.4,.0l.4-.2l.4-.4l.4,.0l.4,.5l.4-.1l.4,.1l.4-.1l.4,.1l.4-.1l.4,.1l.4-.1l.4-.2l.4,.1l.4,.2l.4-.2l.4,.2l.4,.1l.4-.2l.4-.5l.4,.5l.4-.2l.4,.3l.4-.4l.4,.5l.4,.0l.4-.4l.4,.0l.4,.2l.4-.1l.4,.1l.4,.0l.4-.1l.4,.1l.4-.2l.4,.2l.4,.0l.4,.4l.4-.1l.4-.3l.4,.2l.4-.2l.4,.4l.4-.3l.4-.3l.4-.1l.4,.0l.4,.0l.4,.3l.4,.1l.4,.0l.4,.1l.4-.3l.4,.2l.4,.2l.4-.1l.4-.2l.4-.2l.4,.4l.4,.0l.4-.1l.4-.1l.4,.4l.4-.2l.4,.2l.4-.1l.4-.3l.4,.2l.4,.0l.4,.0l.4,.0l.4,.0l.4-.1l.4,.0l.4-.1l.4-.2l.4,.4l.4,.4l.4-.6l.4-.2l.4,.2l.4-.1l.4-.1l.4-.1l.4,.1l.4-.1l.4-.1l.4,.2l.4,.3l.4,.1l.4-.1l.4,.2l.4-.5l.4-.1l.4,.3l.4,.4l.4,.1l.4-.5l.4,.0l.4,.5l.4-.3l.4-.1l.4,.0l.4,.5l.4-.7l.4-.1l.4,.3l.4,.1l.4-.1l.4,.1l.4-.2l.4,.2l.4,.0l.4,.0l.4-.3l.4-.1l.4,.2l.4,.2l.4,.0l.4-.2l.4,.2l.4-.5l.4-.3l.4,.5l.4-.4l.4-.2l.4,.0l.4,.2l.4-.4l.4,.4l.4,.4l.4,.0l.4,.0l.4,.5l.4,.1l.4-.4l.4-.3l.4-.2l.4,.5l.4,.1l.4-.2l.4,.1l.4-.5l.4,.0l.4-.1l.4,.4l.4,.2l.4-.3l.4,.1l.4,.0l.4-.1l.4,.0l.4-.1l.4,.1l.4-.4l.4,.1l.4,.3l.4-.1l.4-.2l.4,.1l.4-.3l.4-.2l.4,.5l.4,.3l.4-.5l.4,.0l.4-.4l.4,.2l.4,.2l.4-.5l.4,.0l.4,.5l.4-.3l.4,.1l.4-.2l.4-.3l.4,.1l.4,.1l.4,.2l.4,.1l.4-.2l.4-.5l.4,.5l.4,.2l.4,.1l.4-.3l.4-.1l.4,.4l.4-.2l.4-.2l.4,.0l.4,.0l.4,.3l.4-.1l.4-.4l.4,.3l.4,.2l.4,.1l.4-.3l.4,.5l.4,.0l.4-.2l.4,.2l.4-.3l.4,.1l.4,.5l.4,.1l.4-.1l.4,.1l.4-.1l.4,.0l.4,.2l.4,.1l.4-.1l.4-.3l.4,.0l.4,.4l.4,.3l.4-.2l.4-.2l.4,.1l.4,.2l.4-.5l.4,.7l.4-.4l.4-.1l.4,.3l.4-.4l.4,.1l.4,.2l.4,.1l.4-.5l.4,.0l.4,.1l.4,.4l.4-.3l.4,.3l.4,.1l.4-.4l.4,.0l.4,.2l.4,.5l.4-.2l.4-.2l.4-.1l.4,.0l.4-.1l.4,.2l.4,.1l.4-.1l.4-.3l.4-.2l.4,.1l.4,.4l.4-.5l.4,.1l.4,.0l.4-.5l.4,.1l.4,.2l.4-.3l.4,.0l.4,.0l.4,.0l.4,.1l.4-.3l.4-.1l.4,.1l.4,.2l.4,.3l.4-.4l.4-.5l.4,.2l.4,.5l.4-.3l.4,.1l.4,.0l.4,.1l.4,.2l.4-.5l.4-.1l.4,.3l.4-.2l.4,.2l.4,.0l.4,.1l.4-.3l.4,.3l.4-.1l.4,.1l.4,.4l.4-.1l.4-.3l.4,.3l.4-.1l.4-.4l.4,.7l.4-.4l.4,.2l.4-.3l.4-.1l.4,.0l.4-.1l.4,.4l.4,.2l.4-.3l.4,.1l.4-.2l.4,.0l.4,.3l.4-.3l.4-.2l.4,.2l.4,.1l.4,.0l.4,.4l.4-.2l.4-.2l.4,.2l.4,.2l.4-.4l.4,.0l.4,.1l.4,.0l.4-.5l.4,.2l.4,.3l.4-.2l.4,.0l.4,.1l.4-.2l.4,.2l.4-.2l.4,.1l.4,.4l.4-.3l.4-.3l.4,.1l.4,.0l.4,.2l.4,.1l.4-.1l.4-.1l.4,.0l.4,.0l.4,.4l.4-.1l.4-.5l.4,.4l.4-.1l.4-.1l.4-.3l.4,.5l.4,.2l.4-.3l.4,.1l.4,.0l.4-.4l.4,.3l.4,.4l.4-.6l.4,.2l.4,.3l.4,.0l.4-.1l.4-.4l.4,.1l.4,.1l.4-.1l.4,.1l.4,.0l.4-.7l.4,.2l.4,.1l.4,.0l.4,.4l.4-.4l.4-.1l.4,.0l.4,.0l.4,.2l.4-.1l.4-.4l.4,.5l.4-.3l.4,.1l.4,.4l.4,.1l.4-.1l.4-.3l.4-.4l.4,.3l.4,.5l.4-.1l.4-.1l.4,.1l.4,.1l.4,.1l.4-.4l.4,.0l.4,.2l.4-.6l.4,.0l.4,.3l.4-.1l.4-.1l.4,.1l.4-.3l.4,.0l.4,.3l.4,.0l.4,.0l.4-.4l.4-.2l.4,.1l.4-.1l.4,.1l.4-.2l.4,.3l.4,.1l.4,.1l.4,.0l.4,.0l.4,.1l.4-.2l.4-.1l.4,.3l.4-.2l.4,.1l.4,.0l.4-.1l.4,.1l.4-.1l.4-.3l.4,.1l.4,.2l.4-.1l.4,.1l.4,.0l.4,.2l.4,.1l.4-.4l.4,.3l.4-.1l.4-.4l.4,.2l.4,.4l.4-.2l.4-.1l.4-.1l.4-.3l.4,.5l.4,.2l.4-.3l.4-.1l.4,.0l.4-.5l.4,.5l.4,.2l.4-.6l.4,.0l.4-.3l.4,.7l.4,.2l.4-.4l.4,.0l.4,.2l.4-.2l.4,.1l.4,.1l.4-.2l.4-.1l.4,.2l.4,.1l.4-.1l.4-.3l.4,.1l.4,.3l.4-.4l.4,.0l.4,.3l.4-.3l.4,.1l.4,.1l.4-.2l.4,.1l.4-.2l.4-.3l.4,.4l.4,.2l.4-.5l.4,.3l.4-.1l.4,.2l.4-.1l.4,.1l.4,.5l.4-.3l.4-.5l.4,.2l.4,.1l.4,.0l.4-.3l.4,.0l.4-.2l.4,.5l.4,.2l.4-.2l.4-.1l.4-.4l.4-.1l.4,.1l.4,.1l.4-.2l.4,.2l.4-.2l.4-.1l.4,.0l.4,.1l.4,.1l.4,.4l.4-.2l.4-.3l.4-.3l.4,.3l.4,.1l.4,.2l.4-.3l.4,.2l.4,.0l.4-.1l.4-.3l.4,.4l.4-.2l.4,.0l.4-.2l.4,.0l.4,.1l.4,.4l.4-.1l.4-.1l.4,.2l.4-.1l.4,.0l.4-.6l.4,.0l.4-.1l.4-.2l.4,.2l.4,.1l.4-.3l.4-.2l.4,.1l.4,.3l.4-.2l.4,.2l.4-.2l.4-.1l.4,.4l.4-.1l.4,.0l.4,.4l.4-.2l.4-.2l.4,.0l.4,.1l.4,.0l.4,.0l.4,.3l.4,.2l.4-.3l.4,.2l.4-.3l.4-.4l.4-.3l.4,.4l.4,.5l.4-.3l.4-.3l.4,.5l.4-.4l.4,.0l.4-.1l.4,.0l.4,.0l.4,.3l.4-.2l.4,.4l.4,.1l.4-.1l.4,.2l.4-.1l.4,.1l.4,.1l.4,.0l.4,.1l.4,.1l.4-.1l.4-.1l.4-.1l.4-.1l.4,.1l.4-.2l.4,.3l.4-.1l.4-.4l.4,.4l.4,.1l.4-.3l.4,.0l.4,.5l.4,.3l.4,.0l.4-.6l.4-.3l.4,.6l.4,.2l.4,.0l.4,.0l.4-.2l.4,.1l.4,.3l.4,.1l.4-.2l.4-.4l.4,.0l.4,.0l.4-.1l.4-.1l.4,.2l.4,.2l.4,.0l.4,.1l.4,.3l.4,.0l.4-.4l.4-.2l.4,.0l.4,.3" fill="none" stroke="#38e4e4" stroke-width="1.0" stroke-linejoin="round"/><path d="M35.50,404.3l.1,.3l.1-.2l.1,.0l.1-.3l.1-.3l.1,.2l.1-.4l.1-.1l.1-.8l.1,.2l.1,.8l.1,.1l.1-.2l.1-.1l.1-.2l.1,.4l.1-.3l.1,.4l.1,.7l.1-.9l.1,.4l.1,.0l.1-.7l.1,.0l.1,.6l.1-.3l.1-.3l.1,.5l.1-.6l.1,1.1l.1-.9l.1-.2l.1,.7l.1-.2l.1,.0l.1,.0l.1-.3l.1-.1l.1,.8l.1,.4l.1-.8l.1,.1l.1-.7l.1-.1l.1,.5l.1,.5l.1,.2l.1,.0l.1-.7l.1,.3l.1,.2l.1-.9l.1,.2l.1,.4l.1-.1l.1,.4l.1-.1l.1-.1l.1-.9l.1,1.0l.1,.1l.1-.3l.1-.2l.1-.2l.1,.3l.1-.6l.1,.2l.1-.4l.1,.4l.1-.2l.1,.0l.1-.4l.1,.8l.1,.2l.1-1.3l.1,1.6l.1-.5l.1-.3l.1,.3l.1,.1l.1,.2l.1,.4l.1-.4l.1,.0l.1-.3l.1-.1l.1-.4l.1,.4l.1,.0l.1,.8l.1-.4l.1,.4l.1,.2l.1-.2l.1-.6l.1,.7l.1-1.3l.1,1.1l.1-1.3l.1,.8l.1,.1l.1-.1l.1-.5l.1,.3l.1,.5l.1-.7l.1,.9l.1,.3l.1,.1l.1-.5l.1,.1l.1-.4l.1,.9l.1-.4l.1-.3l.1-.2l.1,.0l.1-.9l.1,1.2l.1-.7l.1-.7l.1,1.2l.1-.5l.1,.4l.1-.4l.1,.1l.1,.9l.1-.3l.1,.2l.1-.8l.1,.7l.1-.7l.1,.3l.1-.5l.1,.2l.1,.1l.1-.6l.1,.8l.1-.5l.1,.6l.1-.2l.1-.2l.1,1.1l.1-.8l.1-.3l.1,.6l.1-.2l.1,.3l.1-1.0l.1,1.1l.1-.9l.1,.1l.1-.1l.1,.3l.1,.8l.1-.7l.1-.2l.1,.0l.1,.2l.1,.2l.1-.5l.1,.2l.1,.8l.1-1.0l.1,.0l.1-.5l.1,.8l.1-.5l.1,.9l.1-.1l.1-.3l.1-.6l.1,.0l.1,.0l.1,.0l.1-.1l.1,.0l.1,.2l.1,.3l.1-.1l.1,.6l.1-.1l.1-.5l.1,1.1l.1-.9l.1,.2l.1,.0l.1-1.0l.1,.7l.1,.0l.1,.2l.1-.1l.1,.2l.1-1.0l.1,.1l.1,.7l.1-1.0l.1,.4l.1,.0l.1,.4l.1,.0l.1-.2l.1-.4l.1,.1l.1,.5l.1-.2l.1,.0l.1-.2l.1,.0l.1-.5l.1,.4l.1,.3l.1-.6l.1,.6l.1,.0l.1,.7l.1-.7l.1-.2l.1-.1l.1-.1l.1-.1l.1-.1l.1,.9l.1-.1l.1,.2l.1-.6l.1-.3l.1,.1l.1,1.1l.1-.1l.1-1.1l.1,.4l.1,.2l.1-.4l.1,.2l.1,.3l.1,.1l.1-.1l.1-.1l.1-.2l.1,.0l.1,.0l.1,.5l.1-.5l.1,.1l.1-.1l.1-.2l.1,.1l.1-.1l.1-.1l.1,.6l.1,.6l.1-.6l.1,.0l.1-.2l.1-.3l.1,.6l.1-.2l.1-.5l.1,.3l.1-.5l.1,.7l.1-.4l.1,.2l.1,.4l.1-1.5l.1,1.2l.1-.1l.1-.2l.1,.1l.1,.3l.1-.6l.1,.0l.1,.8l.1-.3l.1-.4l.1,.2l.1-.4l.1-.1l.1,.0l.1,.4l.1-.1l.1-.3l.1,.5l.1,.1l.1-.1l.1,.2l.1-.2l.1,.3l.1-.3l.1,.1l.1,.1l.1,.0l.1-.3l.1-.3l.1,.7l.1-.7l.1,.5l.1-.3l.1,.3l.1,.3l.1,.1l.1-1.0l.1-.2l.1-.6l.1,1.3l.1,.3l.1-.5l.1-.3l.1,.4l.1-.4l.1,.4l.1,.3l.1-.1l.1-.2l.1-.5l.1,.1l.1-.3l.1,.8l.1-.2l.1-.5l.1,.1l.1,.1l.1-.3l.1,.6l.1,.1l.1,.1l.1-.1l.1-.9l.1,.9l.1-.3l.1,.0l.1,1.1l.1-.9l.1-.1l.1-.2l.1-.3l.1,.7l.1-1.1l.1,.9l.1-.4l.1,.9l.1-.2l.1-.3l.1-.6l.1,.8l.1,.0l.1-.1l.1-.4l.1,.3l.1-.4l.1,.2l.1,.0l.1-.2l.1,.0l.1,.1l.1-.3l.1-.1l.1,.9l.1-.6l.1-.1l.1,.0l.1,.4l.1-.2l.1-.3l.1,.4l.1-.1l.1-.4l.1,.1l.1,.6l.1-.5l.1,.4l.1-.1l.1-.1l.1,.0l.1,.7l.1-.8l.1,.3l.1-.3l.1,.3l.1-.3l.1,.5l.1-.6l.1,.4l.1-.1l.1,.0l.1-.5l.1,.6l.1,.4l.1-.6l.1-.2l.1,.4l.1-.1l.1,.0l.1,.3l.1-.8l.1,.6l.1-.4l.1-.3l.1,.2l.1,.5l.1-.7l.1,.5l.1-.7l.1,.6l.1-.1l.1,.2l.1-.2l.1,.0l.1-.4l.1,.8l.1,.2l.1-.2l.1-.3l.1,.1l.1,.0l.1-.4l.1,.1l.1,.2l.1,.1l.1-.5l.1-.3l.1,.6l.1,.3l.1,.3l.1-.6l.1-.5l.1,.5l.1-.3l.1,.0l.1-.3l.1,.0l.1,.3l.1-.1l.1,.2l.1-.2l.1,.2l.1,.5l.1-.8l.1,.6l.1-.8l.1,.0l.1-.1l.1-.3l.1,1.3l.1-.3l.1,.1l.1,.4l.1-.6l.1,.2l.1-1.3l.1,1.3l.1-.4l.1-.4l.1,.6l.1-.2l.1-.3l.1-.5l.1,1.4l.1-1.6l.1,.9l.1,.5l.1-.3l.1-.5l.1,.1l.1,.0l.1,.6l.1-.2l.1-.3l.1-.1l.1,1.0l.1-1.0l.1,.0l.1,1.2l.1-1.2l.1,.0l.1,.2l.1,.6l.1-.6l.1,.1l.1-.7l.1,.3l.1,.3l.1,.1l.1,.3l.1-.3l.1-1.4l.1,.6l.1,.1l.1,.3l.1,.2l.1,.2l.1-.7l.1-.3l.1,1.1l.1-.7l.1-.3l.1,.3l.1,.0l.1-.2l.1,.1l.1,.7l.1-.7l.1,.7l.1,.0l.1-.3l.1,.8l.1-1.3l.1,1.3l.1-1.3l.1,.3l.1,.3l.1,.4l.1-.2l.1-.3l.1,.0l.1,.3l.1,.2l.1-.7l.1,.6l.1-.3l.1,.0l.1-.3l.1-.2l.1,.5l.1-1.2l.1,.8l.1,.2l.1-.8l.1,1.1l.1,.0l.1-1.0l.1,.4l.1,.0l.1-.1l.1-.3l.1,.5l.1,.5l.1-.6l.1,.1l.1,.0l.1,.1l.1,.3l.1-.6l.1,.0l.1,.3l.1-.8l.1,.4l.1,.0l.1,.1l.1-.7l.1,.2l.1,.2l.1,.2l.1-.2l.1,.2l.1-.3l.1,.6l.1-.9l.1,1.2l.1,.1l.1-.5l.1-.3l.1,.6l.1-.9l.1,.7l.1-.5l.1-.1l.1,.1l.1-.2l.1,.2l.1,.4l.1-.3l.1-.2l.1,.4l.1,.3l.1-.2l.1,.1l.1,.0l.1-.1l.1,.1l.1-.4l.1,.6l.1-.4l.1,.1l.1-.3l.1-.5l.1,.3l.1,.0l.1,.4l.1-.1l.1,.5l.1-1.0l.1-.1l.1,.6l.1-.2l.1,.4l.1,.3l.1,.9l.1-1.2l.1,.0l.1,.2l.1-.5l.1,.0l.1,.6l.1-.7l.1,.0l.1,.4l.1-1.2l.1,.7l.1,.0l.1,.1l.1-.2l.1,.1l.1,.2l.1,.2l.1-.4l.1,.3l.1-1.0l.1,.9l.1-.1l.1-.7l.1,.0l.1,.3l.1,.0l.1,.2l.1,.0l.1,.2l.1,.0l.1,.2l.1,.2l.1,.0l.1-.6l.1-.2l.1-.2l.1-.2l.1,.2l.1-.2l.1,.5l.1-.6l.1,.4l.1-.4l.1,.6l.1-.2l.1,.6l.1,.0l.1-.3l.1,.2l.1,.0l.1,.2l.1-.3l.1,.1l.1,.2l.1,.2l.1,.7l.1-1.0l.1,.0l.1-.1l.1-.2l.1-.1l.1,.1l.1-.1l.1,.4l.1,.0l.1-.4l.1,.4l.1,.1l.1-.2l.1,.0l.1-.1l.1,.4l.1-.3l.1-.4l.1,.1l.1,.4l.1-.5l.1,.4l.1-.4l.1,1.3l.1-.9l.1,.0l.1-.4l.1-.6l.1,.4l.1,1.0l.1-.9l.1-.1l.1,.3l.1,.1l.1-.4l.1,.2l.1,.2l.1-.8l.1,.2l.1-.8l.1,.5l.1,1.0l.1,.1l.1,.2l.1-.8l.1,.5l.1-.3l.1,.5l.1,.0l.1-.1l.1,.1l.1-.4l.1,.7l.1-.4l.1,.3l.1-.3l.1-.1l.1-.5l.1-.2l.1,.1l.1,.7l.1-.9l.1,1.1l.1-.5l.1-.4l.1,.6l.1-.6l.1,.5l.1-.2l.1,.3l.1-.2l.1,.1l.1-.5l.1,.6l.1-.3l.1,.1l.1,.2l.1-.2l.1-.5l.1,.5l.1-.9l.1,.8l.1-.3l.1,.1l.1-.4l.1,.8l.1-.3l.1,.2l.1-.6l.1,.0l.1,.0l.1,.3l.1-.8l.1,.3l.1,.2l.1,.0l.1,.0l.1,.4l.1-.1l.1-.2l.1,.2l.1,.3l.1-.4l.1,.1l.1,.5l.1,.4l.1-1.3l.1,.5l.1,.4l.1-.7l.1,.3l.1-.1l.1-.6l.1,.4l.1,.2l.1-.3l.1,.6l.1-.2l.1-.3l.1,.1l.1,.0l.1,.2l.1-.4l.1,.8l.1-.5l.1,.4l.1,.4l.1-.2l.1-.5l.1,.1l.1-.2l.1,.2l.1-.9l.1-.4l.1,.7l.1,.1l.1,.4l.1,.2l.1-.9l.1,.2l.1,.6l.1,.0l.1-.1l.1,.1l.1-.7l.1,1.3l.1-.9l.1,.3l.1-.1l.1-.7l.1,.6l.1,.1l.1-.5l.1,.0l.1,.2l.1,.2l.1-.1l.1-.5l.1,.0l.1,.2l.1-.7l.1,.4l.1,.5l.1-.2l.1-.1l.1,.6l.1-.2l.1,.1l.1-.4l.1,.1l.1-.1l.1,.4l.1-.7l.1,.5l.1,.5l.1,.1l.1-.4l.1-.4l.1,.6l.1-.7l.1,.1l.1-.3l.1,1.0l.1-.1l.1-.5l.1-.1l.1,.5l.1,.1l.1,.3l.1-.6l.1-.3l.1,.7l.1-.3l.1-.5l.1,.4l.1,.2l.1-.5l.1,.3l.1,.3l.1-.2l.1-.6l.1-.2l.1,.4l.1-.3l.1,.1l.1,.9l.1-1.5l.1,.7l.1,.1l.1,.4l.1,.5l.1-.5l.1-.2l.1,.1l.1-.1l.1,.3l.1,.8l.1-1.1l.1,.2l.1,.1l.1-.6l.1,.8l.1-.3l.1-.7l.1,.4l.1,.2l.1-.6l.1,.5l.1-.4l.1-.4l.1,.8l.1-.2l.1,.1l.1-.5l.1,.0l.1,.2l.1,.3l.1,.0l.1,.5l.1,.2l.1-.4l.1-.1l.1,.7l.1-.6l.1,.5l.1-.6l.1,.2l.1,.0l.1-.3l.1,.5l.1-.6l.1,.0l.1,.1l.1,.4l.1-1.4l.1,.3l.1,.3l.1,.0l.1,.4l.1-.1l.1,.1l.1-.3l.1,.1l.1-.2l.1-.3l.1,.6l.1-.6l.1,.2l.1-.2l.1,.8l.1-.5l.1-.1l.1,.6l.1-.3l.1,.2l.1,.0l.1,.0l.1-.1l.1-.7l.1,.9l.1-.1l.1-1.0l.1,.8l.1-.4l.1,.0l.1,.5l.1-.2l.1,.0l.1,.2l.1-.1l.1-.3l.1-.2l.1,.8l.1-.9l.1,.7l.1-.1l.1-.4l.1,.7l.1-.3l.1-.1l.1,.4l.1-.5l.1,.6l.1,.3l.1-.8l.1-.1l.1,.4l.1-1.0l.1,.4l.1-.1l.1-.3l.1,.7l.1,.1l.1-.2l.1-.2l.1,.5l.1,.3l.1,.0l.1-.6l.1,.0l.1,.6l.1-.3l.1,.3l.1-.8l.1,.1l.1,.0l.1,.1l.1,.1l.1-.3l.1,.9l.1-1.0l.1,.8l.1-.7l.1,.3l.1-.4l.1,.4l.1-.1l.1-.4l.1,.0l.1,.4l.1,.2l.1,.4l.1,.2l.1-1.0l.1,.6l.1-.3l.1,.4l.1-.2l.1,.1l.1-.3l.1-.2l.1,.5l.1-.7l.1,.3l.1,.4l.1-.7l.1,.1l.1,.7l.1-.6l.1-.6l.1,.9l.1,.3l.1-.7l.1-.1l.1,.5l.1,.0l.1-.5l.1-.2l.1,.4l.1,.1l.1-.7l.1,.2l.1,.7l.1,.0l.1,.2l.1,.1l.1,.4l.1-.5l.1-.1l.1-.8l.1,.2l.1,.4l.1-.8l.1,.9l.1-.1l.1-.3l.1,.1l.1-.1l.1,.0l.1,.0l.1,.0l.1,.5l.1-.6l.1,.1l.1-.4l.1,.9l.1-.2l.1,.5l.1,.2l.1-.5l.1-.5l.1,.2l.1,.1l.1-.1l.1-.4l.1,.6l.1-.5l.1,.3l.1,.0l.1-.8l.1,1.0l.1,.5l.1-.9l.1,.0l.1,.5l.1-.8l.1,.6l.1-.1l.1-.2l.1,.1l.1-.1l.1,.1l.1,.5l.1-.2l.1,.1l.1-.1l.1,.3l.1-.3l.1-.1l.1,.1l.1-1.0l.1,.2l.1,.8l.1,.3l.1-.8l.1,.5l.1-.4l.1,.4l.1,.0l.1,.2l.1-.5l.1,.8l.1-.8l.1,1.1l.1-.9l.1,.6l.1,.2l.1,.2l.1-1.0l.1-.9l.1,.9l.1-.5l.1-.1l.1,.1l.1-.1l.1,.6l.1-.3l.1,.2l.1,.0l.1-.3l.1,.3l.1,.2l.1,.2l.1-.5l.1-.1l.1-.1l.1,.4l.1,.1l.1,.0l.1-.4l.1,.4l.1-.1l.1-.1l.1-.1l.1,.4l.1-.5l.1,.6l.1-.6l.1,.3l.1-.2l.1,.8l.1-.2l.1,.1l.1-.8l.1-.2l.1,.0l.1,.5l.1,.4l.1,.0l.1,.1l.1-.5l.1,.8l.1-.3l.1-.5l.1-.5l.1,.4l.1,.3l.1,.4l.1-.4l.1,.0l.1,.4l.1-.1l.1-.5l.1,.1l.1,.1l.1-.4l.1,.4l.1-.2l.1-.1l.1,.5l.1,.2l.1,.0l.1-.2l.1,.2l.1-.5l.1-.5l.1,.3l.1,.2l.1-.4l.1,.8l.1-.1l.1-.4l.1,.8l.1-.2l.1,.4l.1-.5l.1,.1l.1-.4l.1,.0l.1,.5l.1,.1l.1-.7l.1,.4l.1-.5l.1,.2l.1,.2l.1-.5l.1,.0l.1-.3l.1,.6l.1,.1l.1-.2l.1-.1l.1,.0l.1-.4l.1,.6l.1,.6l.1-.6l.1-.1l.1-.1l.1,.0l.1,.6l.1-.1l.1-.7l.1,.2l.1,.7l.1-.8l.1,.4l.1-.3l.1,.3l.1-.4l.1,.1l.1-.1l.1,.9l.1,.2l.1-.5l.1,.0l.1-.2l.1-.2l.1,.1l.1-.1l.1,.0l.1-.5l.1,.3l.1,.1l.1-.7l.1,1.1l.1-.6l.1-.1l.1,.3l.1,.1l.1,.1l.1-.1l.1,.5l.1,.2l.1-.6l.1,.4l.1,.0l.1-.4l.1-.5l.1,.6l.1,.2l.1-.9l.1-.4l.1,.5l.1,.3l.1,.4l.1-.1l.1,.0l.1-.5l.1,.4l.1-.3l.1-.4l.1-.2l.1,.7l.1-1.0l.1,.7l.1-.1l.1-1.1l.1-.7l.1-.4l.1-.4l.1-.1l.1-.4l.1-.9l.1-.2l.1-.2l.1,.6l.1,.1l.1-.2l.1,.7l.1,.6l.1-.1l.1,1.0l.1,.7l.1,.0l.1,.9l.1,.3l.1,.0l.1,.6l.1-.5l.1,.5l.1-.2l.1,.3l.1-.6l.1,.3l.1,.1l.1,.1l.1,.3l.1-.9l.1,.5l.1-.3l.1,.4l.1,.0l.1-.7l.1,.1l.1,.2l.1-.2l.1-.2l.1-.5l.1,.5l.1,.8l.1-.9l.1,.6l.1,.1l.1,.1l.1,.4l.1-.8l.1,.9l.1-.6l.1,.6l.1-.5l.1,.0l.1-.2l.1,.4l.1-1.0l.1,.1l.1,.5l.1,.2l.1-.1l.1,.1l.1-.2l.1,.3l.1,.3l.1,.1l.1-.2l.1,.1l.1-.3l.1-.5l.1,.1l.1,.6l.1-.6l.1,.5l.1-1.1l.1,.5l.1,.1l.1,.6l.1-.3l.1-.1l.1,.4l.1-1.0l.1,.3l.1,.2l.1-.8l.1,.4l.1-.2l.1,.2l.1,.3l.1,.1l.1,.2l.1-.4l.1,.9l.1-.5l.1-.3l.1,.6l.1-.6l.1,.8l.1-.5l.1-.2l.1,.0l.1-.2l.1,.0l.1,.2l.1,.4l.1-.5l.1-.2l.1,.4l.1-.2l.1-.4l.1,.0l.1,1.1l.1-.6l.1,.6l.1,.1l.1-.5l.1,.2l.1-.3l.1,.2l.1-.2l.1-.1l.1,.4l.1-.4l.1,.1l.1-.4l.1,.3l.1,.3l.1-1.1l.1,.8l.1-.4l.1,.4l.1-.2l.1,.0l.1-.3l.1-.4l.1,1.7l.1-.5l.1-.3l.1-.7l.1,1.0l.1,.5l.1-.7l.1-.7l.1,.4l.1,.2l.1-.1l.1,.3l.1-.4l.1,.0l.1-.7l.1,1.2l.1-.4l.1-.7l.1-.8l.1,1.0l.1-1.0l.1,.0l.1-.5l.1,.0l.1-.3l.1-.7l.1,.2l.1-.8l.1-.8l.1-.8l.1,.0l.1-.6l.1,.6l.1-.1l.1,.7l.1,.9l.1-.1l.1,.5l.1,1.5l.1-.7l.1,.6l.1,.3l.1,.4l.1,.1l.1-.9l.1,1.1l.1,.7l.1,.0l.1,.0l.1,.0l.1,.2l.1-.3l.1-.4l.1,.8l.1,.3l.1-.3l.1-.2l.1,.3l.1-.2l.1,.2l.1-.4l.1-.5l.1,.9l.1,.4l.1-.5l.1,.7l.1-.1l.1-1.1l.1,1.8l.1-.8l.1-.5l.1-.5l.1,.0l.1,1.6l.1-1.2l.1,.2l.1-.6l.1,.0l.1,.4l.1-.6l.1,.2l.1,.3l.1,.4l.1,.1l.1-.4l.1,.7l.1-.5l.1-.1l.1,.2l.1,.0l.1,.4l.1-1.5l.1,.2l.1,.0l.1,1.3l.1-.2l.1-.6l.1,.3l.1-.8l.1,.2l.1,.5l.1-.3l.1,.6l.1-1.0l.1,.6l.1-.3l.1-.1l.1,.1l.1,.1l.1,.4l.1-.4l.1,.1l.1-.1l.1,.3l.1-.3l.1,.6l.1-.1l.1-.1l.1-.1l.1-.5l.1-.1l.1-.3l.1,.2l.1,.7l.1,.0l.1-.7l.1,.1l.1,.9l.1,.1l.1-.5l.1,.4l.1-.9l.1,.5l.1-.4l.1,.8l.1-.5l.1,.1l.1-.1l.1-.5l.1,.3l.1-.8l.1,.6l.1-.1l.1,.6l.1,.3l.1-.5l.1-.5l.1,.0l.1,.4l.1-.3l.1-.1l.1-.2l.1,.5l.1,.1l.1,.2l.1-.6l.1,.5l.1-.6l.1,.6l.1,.0l.1-.2l.1,.4l.1-.8l.1,.9l.1-.4l.1,.1l.1-.1l.1-.3l.1,.0l.1,.7l.1-.4l.1-.1l.1-.3l.1,.3l.1-.1l.1-.7l.1,1.0l.1-.1l.1,.0l.1-.1l.1,.0l.1,.4l.1,.8l.1-.8l.1-.5l.1,.3l.1-.2l.1,.3l.1-.9l.1,.2l.1,.1l.1,.5l.1,.0l.1-.3l.1,.2l.1-.6l.1,.0l.1-.8l.1,.5l.1,.0l.1,.6l.1,.2l.1-.6l.1,.4l.1,.0l.1,.1l.1-.6l.1-.3l.1,.8l.1-.8l.1,.6l.1-.8l.1,.4l.1,.2l.1,.0l.1,.7l.1-.8l.1,.6l.1-1.0l.1,1.0l.1-.4l.1,.3l.1,.3l.1-.9l.1,.3l.1-.5l.1,.1l.1,.2l.1-.2l.1,.2l.1-.2l.1-.1l.1-.6l.1,.2l.1-.4l.1,.1l.1-.9l.1,1.0l.1-.1l.1-.3l.1-.1l.1-.7l.1,.2l.1-.2l.1,.1l.1-.5l.1-.7l.1-.4l.1-.5l.1-1.4l.1-.3l.1-.6l.1-2.2l.1-1.8l.1-1.7l.1-1.7l.1-2.2l.1-3.2l.1-1.7l.1-2.6l.1-2.4l.1-2.2l.1-2.1l.1-2.4l.1-2.1l.1-1.4l.1-1.1l.1,.9l.1-.9l.1,1.6l.1,1.1l.1,1.8l.1,1.7l.1,2.3l.1,2.6l.1,2.5l.1,2.8l.1,2.7l.1,2.2l.1,2.6l.1,1.9l.1,1.4l.1,1.9l.1,1.1l.1,.7l.1,1.2l.1,1.1l.1,.1l.1,.1l.1,1.4l.1,.3l.1-.2l.1,.6l.1,.6l.1-1.1l.1,1.2l.1,.3l.1,.2l.1,.4l.1-.8l.1,.9l.1,.6l.1-1.5l.1,.5l.1,.4l.1-.5l.1-.5l.1,.8l.1-.2l.1-.2l.1,.5l.1,.3l.1,.2l.1-.1l.1-.5l.1,.5l.1-.8l.1,.4l.1,.5l.1,.1l.1-.2l.1-.1l.1-.8l.1,.2l.1,.1l.1,.3l.1,.1l.1,1.1l.1-.2l.1-.7l.1,.3l.1-.1l.1-.1l.1,.0l.1-.7l.1,1.1l.1-.2l.1,.2l.1-.2l.1,.1l.1-.3l.1-.5l.1,.7l.1-.3l.1-.5l.1-.2l.1,1.2l.1-.7l.1,.2l.1-.1l.1,1.2l.1-1.2l.1,1.1l.1-1.2l.1,1.5l.1-.6l.1-.8l.1,.8l.1-.1l.1-.5l.1,.6l.1-.1l.1,.1l.1-.7l.1,.4l.1-.4l.1,.4l.1,.0l.1-.2l.1,.9l.1-.9l.1,.8l.1-.1l.1-.7l.1-.3l.1,.7l.1,.5l.1,.2l.1-.4l.1,.2l.1-.5l.1,.0l.1,1.2l.1-.7l.1-.8l.1,.5l.1-.1l.1-.7l.1,.4l.1,.1l.1,.5l.1-.2l.1-.4l.1-.1l.1,.2l.1,.4l.1,.3l.1-.5l.1,.2l.1,.2l.1-.2l.1,.0l.1,.8l.1-.1l.1-.1l.1-1.4l.1,.7l.1,.8l.1-.7l.1-.3l.1,.4l.1-.2l.1,.0l.1,.2l.1,.3l.1-.3l.1,.1l.1-.4l.1,.2l.1,.3l.1-.5l.1,.1l.1-.4l.1,1.2l.1-.7l.1,.5l.1-.3l.1,.0l.1,.1l.1-.7l.1-1.0l.1,.6l.1,.3l.1,.1l.1,.4l.1,.9l.1-.5l.1-.6l.1,.5l.1-.4l.1,.2l.1-.4l.1-.8l.1,1.3l.1,.3l.1-.8l.1,.4l.1,.1l.1-.2l.1,.1l.1,.5l.1-.4l.1-.2l.1,.3l.1,.0l.1,.0l.1-.8l.1-.4l.1,1.0l.1-1.0l.1,.4l.1,.2l.1,.7l.1-.6l.1-.4l.1,.5l.1,.6l.1-1.1l.1,.3l.1,.8l.1-.2l.1-.5l.1,.1l.1,.2l.1-.3l.1,.3l.1,.6l.1-.3l.1,.5l.1-.5l.1-.3l.1,.2l.1-.6l.1,.4l.1-.4l.1,.1l.1-.1l.1-.3l.1,1.0l.1-1.0l.1,.7l.1-.4l.1,.7l.1-.2l.1,.2l.1,.3l.1,.0l.1,.0l.1,.0l.1-.2l.1-.3l.1-.2l.1,.1l.1-.4l.1,.3l.1,.7l.1-1.1l.1,1.2l.1-.9l.1,.3l.1-.2l.1,.0l.1,.3l.1,.4l.1-.5l.1-.1l.1-.3l.1,.9l.1-.3l.1,.1l.1-.3l.1-.6l.1,.8l.1-.7l.1,.4l.1,.4l.1-.6l.1,.1l.1-.6l.1,.9l.1-.1l.1-.5l.1,.3l.1-.8l.1,.3l.1,.3l.1,.2l.1-.4l.1-.4l.1,.4l.1,.6l.1-.4l.1,.3l.1,.2l.1-.3l.1,.1l.1-.7l.1,.1l.1,.2l.1,.2l.1,.2l.1-.6l.1,.4l.1-.1l.1-.2l.1,.0l.1,.1l.1,.0l.1-.4l.1,1.1l.1-1.1l.1,.3l.1-.4l.1,1.2l.1-1.8l.1,.7l.1,.4l.1,.2l.1-.3l.1-.5l.1,.9l.1-.3l.1-.5l.1,.0l.1-.1l.1,.2l.1-.6l.1,.7l.1-.3l.1,.5l.1-.2l.1-.5l.1,.7l.1-.2l.1-.6l.1-.2l.1,.3l.1,.4l.1,.2l.1-.9l.1-.1l.1,.2l.1-.3l.1-.3l.1,.0l.1-.2l.1,.5l.1-.2l.1-.9l.1,.2l.1-.2l.1-.9l.1-.6l.1-1.0l.1-.3l.1-.6l.1-.7l.1-1.9l.1-1.2l.1-1.0l.1-1.5l.1-2.3l.1-1.1l.1-2.0l.1-2.1l.1-1.3l.1-1.2l.1-2.4l.1-.6l.1-.7l.1-.2l.1-.4l.1,.2l.1,1.2l.1,.8l.1,.7l.1,.8l.1,1.9l.1,2.0l.1,2.0l.1,1.1l.1,1.6l.1,1.2l.1,2.0l.1,1.5l.1,1.0l.1,1.2l.1,.6l.1,1.0l.1,1.2l.1,.1l.1,1.0l.1,1.1l.1-.2l.1,.3l.1,.0l.1,.1l.1,.3l.1-.3l.1,.3l.1,.0l.1-.3l.1,.7l.1,.5l.1,.1l.1-.3l.1,.3l.1-.3l.1,.0l.1,.3l.1,.1l.1,.4l.1-1.1l.1,1.2l.1-.3l.1,.4l.1-.5l.1,.4l.1-.5l.1-.2l.1,.5l.1-.2l.1,.0l.1,.1l.1,.2l.1-.2l.1,.0l.1-.9l.1,1.2l.1-.6l.1,.3l.1-.1l.1-.1l.1,.6l.1-.9l.1,.3l.1,.6l.1-1.1l.1,.1l.1,.9l.1-.3l.1,.4l.1,.0l.1-.4l.1,.6l.1-.5l.1,.0l.1,.3l.1-.6l.1-.1l.1-.3l.1,.9l.1,.7l.1-.3l.1-.6l.1,.0l.1,.2l.1,.2l.1,.0l.1-.5l.1,.0l.1-1.0l.1,.9l.1-.4l.1,.5l.1,.6l.1-.1l.1,.0l.1,.1l.1-1.3l.1,.2l.1,.8l.1-.4l.1-.1l.1,.3l.1,.0l.1,.2l.1-.3l.1-.1l.1-.5l.1,.6l.1-.1l.1-.2l.1-.3l.1,.4l.1,.4l.1,.5l.1-.4l.1-.9l.1,.0l.1,.0l.1,.5l.1-.2l.1,.5l.1,.1l.1,.2l.1-.4l.1,.8l.1-.6l.1-.3l.1,.2l.1,.0l.1-.1l.1,.1l.1,.2l.1,.5l.1-.7l.1,.4l.1-1.4l.1,1.4l.1-.7l.1,.3l.1-.5l.1,.3l.1,.2l.1-.4l.1,.2l.1-.8l.1,1.3l.1-.3l.1-.1l.1,.5l.1-.5l.1,.1l.1-1.0l.1,.8l.1-.3l.1,.3l.1-.4l.1-.4l.1,.7l.1,.5l.1-.8l.1,.9l.1-.5l.1-.6l.1,.6l.1,.8l.1-.6l.1-.5l.1,.3l.1-.1l.1,1.6l.1-.8l.1-1.2l.1,1.2l.1-.2l.1-.6l.1,.0l.1,.1l.1,.7l.1-.9l.1,.1l.1,.5l.1-.3l.1-.1l.1,.4l.1,.5l.1-.4l.1-.2l.1,.5l.1,.1l.1-1.4l.1,.0l.1,.1l.1,.5l.1,.1l.1-.3l.1,.1l.1,.3l.1-.6l.1-.2l.1,.8l.1,.4l.1-.5l.1-.3l.1,.2l.1-.6l.1-.3l.1,.4l.1,.4l.1,.2l.1,.0l.1-.2l.1,.3l.1,.3l.1-.5l.1-.3l.1,.8l.1-.4l.1-.6l.1,.2l.1,.6l.1-.2l.1,.5l.1-.6l.1,.0l.1,.4l.1-.6l.1,.5l.1-.4l.1-.2l.1,.3l.1-.3l.1-.2l.1,.3l.1,.4l.1-.2l.1-.1l.1,.0l.1-.4l.1,.0l.1,.7l.1-.7l.1,.8l.1-.2l.1,.2l.1-.1l.1,.0l.1,.1l.1,.4l.1-.9l.1-.1l.1,.6l.1-.6l.1,.1l.1-.2l.1-.1l.1-.5l.1,.6l.1,.1l.1-.4l.1,.3l.1,.3l.1,.5l.1-.8l.1,.6l.1-.6l.1,.5l.1-.2l.1,.4l.1-.1l.1-.2l.1-.3l.1,.6l.1-.7l.1,.2l.1,.8l.1-.7l.1,.0l.1,.0l.1-.1l.1-.1l.1,.2l.1,.0l.1-.1l.1,.4l.1,.1l.1-.3l.1,.3l.1,.3l.1,.1l.1-.4l.1-.3l.1,.9l.1-.6l.1,.2l.1-.7l.1,.3l.1-.7l.1,.4l.1-.2l.1,1.2l.1-.7l.1-.7l.1,1.2l.1-.2l.1,.2l.1-1.0l.1,.6l.1,.3l.1-.6l.1,.2l.1-.6l.1,.0l.1,.5l.1-.7l.1,.2l.1,.4l.1,.1l.1,.4l.1-.8l.1,1.2l.1-.7l.1,.2l.1-.1l.1,.2l.1-.3l.1-.2l.1,.4l.1,.4l.1-.9l.1,.1l.1,.1l.1-.2l.1,.0l.1,.2l.1,.3l.1-.6l.1-.2l.1,.1l.1-.3l.1,1.3l.1-.3l.1-.2l.1-.6l.1,.6l.1,.0l.1,.0l.1-.6l.1,.3l.1-.2l.1,.0l.1-.3l.1,.6l.1-.5l.1-.2l.1,.7l.1,.5l.1,.4l.1-.8l.1,.5l.1,.0l.1,.0l.1-.4l.1,.2l.1-.3l.1-.4l.1,.9l.1-.3l.1,.1l.1-.5l.1-.3l.1,.2l.1,.2l.1-.3l.1,.9l.1,.3l.1-1.5l.1,.9l.1-.4l.1,.2l.1-.1l.1,.0l.1,.3l.1-.2l.1,.4l.1-.4l.1-.5l.1,.5l.1,.1l.1-.4l.1-.1l.1,1.1l.1-.9l.1-.2l.1-.8l.1,.9l.1-.2l.1,.4l.1,.2l.1-.7l.1,.1l.1,.6l.1-.1l.1-.3l.1,.2l.1-.4l.1,.1l.1,.0l.1-.6l.1,1.2l.1,.1l.1-.7l.1,.3l.1,.2l.1-.2l.1-.4l.1-.1l.1,.4l.1-.2l.1-.3l.1,.3l.1,.0l.1,.2l.1-.7l.1,.2l.1,.2l.1,.0l.1,1.1l.1-1.0l.1,.4l.1-.1l.1,.3l.1,.4l.1-.8l.1-.5l.1,.1l.1,.5l.1,.0l.1-.3l.1,.5l.1-.4l.1-.4l.1,.4l.1,.1l.1,.1l.1,.0l.1-.8l.1,.6l.1-.6l.1,.4l.1,.2l.1,.1l.1,.1l.1-.1l.1,.1l.1,.4l.1-.5l.1-.2l.1-.5l.1,.7l.1-.3l.1,.3l.1-.2l.1,.1l.1,.0l.1,.2l.1-.6l.1-.1l.1,.2l.1,.1l.1-.6l.1,.5l.1-.2l.1,.3l.1-.6l.1,1.0l.1-.1l.1,.3l.1-.3l.1,.1l.1-.7l.1,.7l.1,.4l.1-.3l.1-.1l.1,.2l.1,.2l.1-.8l.1-.2l.1-.1l.1,.5l.1,.1l.1,.4l.1-.5l.1-.1l.1,.9l.1,.0l.1-.5l.1,.3l.1-.4l.1-.2l.1,.1l.1-.4l.1-.4l.1,.0l.1,.3l.1,.5l.1,.0l.1,.1l.1-.5l.1,.5l.1-.5l.1-.3l.1,.6l.1-.4l.1,.7l.1-.5l.1-.5l.1,.0l.1-.5l.1,1.5l.1-.1l.1,1.0l.1-.6l.1-.6l.1-.4l.1-.4l.1,.4l.1,.1l.1-.4l.1,.6l.1,.1l.1-.5l.1,.2l.1-.4l.1,.8l.1-.5l.1-.3l.1-.5l.1,.3l.1-.1l.1,.9l.1-.2l.1-.5l.1,.2l.1,.5l.1,.0l.1-.3l.1,.8l.1-.1l.1,.2l.1-1.7l.1,.5l.1,.7l.1-.2l.1-.2l.1-.2l.1,.5l.1-.7l.1,.7l.1-.2l.1-.2l.1-.9l.1,.7l.1,.7l.1-.1l.1-.2l.1-.1l.1-.6l.1,.7l.1,.1l.1-.4l.1,.3l.1-.2l.1-.1l.1-.2l.1,.3l.1-.5l.1-.4l.1,.3l.1,.4l.1,.0l.1,.6l.1,.0l.1,.1l.1-.5l.1,.4l.1-.6l.1-.2l.1,.8l.1-.2l.1-.4l.1,.7l.1,.0l.1-.2l.1,.2l.1-.1l.1,.0l.1-.6l.1-.2l.1,.6l.1-1.2l.1,1.0l.1-.2l.1,.5l.1-.4l.1,.1l.1-.4l.1,.1l.1,.7l.1-.9l.1-.2l.1,1.2l.1-.1l.1-.2l.1-.3l.1,.4l.1-.3l.1,.4l.1-.3l.1-.1l.1,.4l.1-.6l.1,.5l.1-.5l.1,.1l.1,.3l.1-.4l.1,.6l.1-.5l.1,.1l.1-.8l.1,.9l.1-.1l.1-.7l.1,.9l.1,.0l.1-.3l.1-.3l.1-.2l.1,.5l.1,.0l.1-.3l.1,.6l.1-.6l.1,.2l.1-.6l.1,.7l.1,.3l.1-.6l.1,1.1l.1-1.0l.1,.3l.1-.1l.1-.2l.1-.7l.1,1.4l.1-1.2l.1,1.2l.1-.8l.1,.0l.1,1.2l.1-1.2l.1,.4l.1-.4l.1,.4l.1,.4l.1,.5l.1-1.5l.1,.7l.1,.4l.1,.0l.1-.6l.1,.1l.1,.5l.1-.5l.1,.6l.1-1.1l.1,.4l.1,.1l.1-.4l.1,.7l.1-.6l.1,.3l.1-.8l.1,.2l.1,.4l.1,.0l.1-.6l.1,.0l.1,.9l.1-.4l.1,.5l.1,.6l.1-.3l.1-.8l.1,.9l.1,.0l.1-.7l.1-.2l.1,.6l.1-.4l.1,.3l.1,.0l.1-.2l.1,.9l.1-.5l.1-.7l.1-.3l.1-.1l.1,.7l.1-.9l.1,.8l.1-.2l.1-.3l.1,1.1l.1-.2l.1-.1l.1-.1l.1,.1l.1-.2l.1,.6l.1-.1l.1-.5l.1-.3l.1,.2l.1,.4l.1-.3l.1-.2l.1,.0l.1,.2l.1-.3l.1-.3l.1,.6l.1-.4l.1,.3l.1-.6l.1,.8l.1-.2l.1,.0l.1,.0l.1,.0l.1,.0l.1,.0l.1-.3l.1,.7l.1-.6l.1-.1l.1-.1l.1-.2l.1,.0l.1,.2l.1-.7l.1,.9l.1,.1l.1-1.0l.1,1.2l.1,.1l.1,.2l.1,.0l.1,.3l.1-.7l.1,.1l.1,.3l.1-.5l.1-.4l.1,.6l.1,.0l.1-.4l.1,.2l.1,.3l.1-1.2l.1,.6l.1,.2l.1,.2l.1-.5l.1-.1l.1,.6l.1,.5l.1-1.4l.1,1.1l.1-.1l.1,.1l.1,.2l.1-.5l.1,.6l.1-1.0l.1,.2l.1,.4l.1,.0l.1-.8l.1-.1l.1,.8l.1-.1l.1,.0l.1-.2l.1-.4l.1,.8l.1,.1l.1-.2l.1,.8l.1-.8l.1,.6l.1-.5l.1-1.2l.1,.6l.1-.5l.1,.6l.1,.5l.1-1.1l.1,.9l.1-.4l.1,.4l.1,.0l.1-.5l.1,.6l.1-.1l.1,.4l.1,.4l.1-.7l.1,.6l.1-.7l.1-.1l.1-.3l.1-.4l.1,.4l.1,.0l.1,.4l.1-.4l.1,.2l.1,.6l.1-.3l.1-.1l.1-.2l.1,.3l.1-.3l.1,.2l.1-.7l.1,.7l.1-.3l.1-.3l.1,.4l.1,.4l.1-.1l.1,.4l.1-.6l.1,.0l.1-.1l.1-.5l.1,.4l.1,.1l.1,.6l.1-.8l.1,.2l.1-.5l.1,.3l.1-.7l.1,.7l.1-.3l.1,.2l.1,1.0l.1-.9l.1,.3l.1,.0l.1,.5l.1,.4l.1-.3l.1-.3l.1-.9l.1,.5l.1-1.0l.1,.5l.1,.2l.1-.2l.1,.4l.1-.1l.1,.0l.1,.1l.1-.4l.1,.7l.1-.1l.1-.3l.1,.3l.1-.3l.1,.0l.1,.6l.1-1.0l.1,.7l.1,.6l.1-1.5l.1,1.6l.1-1.4l.1,.0l.1,.3l.1,.4l.1,.2l.1-.5l.1,.4l.1,.3l.1-1.1l.1,.2l.1,.3l.1,.4l.1-.5l.1,.1l.1,.1l.1-.1l.1-.2l.1,.2l.1,.1l.1-.5l.1,.5l.1,.3l.1,.0l.1-.2l.1,.5l.1-.2l.1-.9l.1,.8l.1-.9l.1,.2l.1,.6l.1-.6l.1-.7l.1,1.0l.1-.1l.1,.0l.1-.6l.1,.8l.1-.3l.1,.6l.1-.6l.1,.1l.1-.4l.1,.6l.1,.5l.1-.2l.1-.5l.1,.7l.1-.4l.1,.0l.1-.1l.1-.2l.1,.0l.1,.0l.1,.2l.1-.3l.1,.1l.1-.8l.1-.2l.1,.7l.1-.1l.1,.3l.1-.7l.1,.5l.1-.3l.1,.6l.1-.1l.1-.2l.1,.4l.1-.4l.1,.0l.1,.2l.1,.5l.1-.5l.1,.1l.1,.0l.1,.3l.1,.3l.1-1.2l.1,.5l.1-.2l.1,.5l.1-1.4l.1,.4l.1-.1l.1,1.2l.1-.5l.1,.0l.1,.1l.1,.0l.1-.1l.1-.3l.1-.4l.1,.9l.1-.2l.1-.3l.1,.2l.1,.9l.1-.8l.1,.0l.1,.4l.1,.4l.1-1.0l.1,.0l.1-.1l.1,.4l.1,.1l.1,.1l.1-.4l.1-.4l.1-.1l.1,.5l.1-.7l.1,.2l.1,.0l.1,.4l.1,.1l.1-.3l.1,1.0l.1,.0l.1-1.1l.1,.5l.1-.2l.1,.2l.1-.4l.1,.3l.1,.3l.1-.3l.1-.6l.1-.1l.1,.1l.1,1.1l.1-.5l.1,.2l.1,.4l.1-.9l.1,.5l.1-.5l.1,.4l.1-.8l.1,.5l.1-.1l.1,.0l.1-.5l.1,.5l.1,.6l.1-.3l.1,.4l.1,.0l.1,.0l.1-.4l.1,.0l.1-.5l.1,.8l.1-.2l.1,.2l.1,.5l.1-.5l.1-.2l.1-.3l.1,.4l.1,.1l.1-.7l.1-.4l.1,.2l.1,.7l.1-.1l.1,.0l.1-.7l.1,.7l.1-.5l.1,.3l.1,.1l.1,.1l.1,.7l.1-1.1l.1,.4l.1-.2l.1,.3l.1,.2l.1-.5l.1-.5l.1,.5l.1,.6l.1-.8l.1,.7l.1-.5l.1,.1l.1,.0l.1,.7l.1-.3l.1-.1l.1-.8l.1,.0l.1-.1l.1,.8l.1,.0l.1-.6l.1-.2l.1-.4l.1,.6l.1,.3l.1-.2l.1,.0l.1-.4l.1,.3l.1-.5l.1,.5l.1-.1l.1,.2l.1-.2l.1-.1l.1,.7l.1-.9l.1,.5l.1-.2l.1-.2l.1,.0l.1-.1l.1-.3l.1,.0l.1-.3l.1,.4l.1,.2l.1-.3l.1-.4l.1,.6l.1,.3l.1-.4l.1,.0l.1,.5l.1-.3l.1,.4l.1-.6l.1-.7l.1,.6l.1,.0l.1,.0l.1-.4l.1,.2l.1,.8l.1-1.1l.1,.7l.1-1.0l.1,.3l.1,.0l.1,.1l.1-.4l.1-.1l.1,.1l.1-.5l.1-.4l.1,.3l.1,.8l.1-.6l.1,.3l.1-.9l.1-1.1l.1,.1l.1,.0l.1-1.0l.1-.4l.1-.7l.1-.6l.1-1.6l.1-.2l.1-1.9l.1-1.2l.1-1.8l.1-3.0l.1-2.1l.1-2.8l.1-3.3l.1-3.5l.1-3.0l.1-3.9l.1-4.1l.1-3.9l.1-3.5l.1-3.1l.1-3.2l.1-3.2l.1-1.8l.1-1.2l.1-.8l.1,.6l.1,.9l.1,2.3l.1,3.1l.1,3.1l.1,3.3l.1,4.8l.1,3.0l.1,4.1l.1,3.7l.1,3.3l.1,3.7l.1,2.8l.1,2.5l.1,2.7l.1,2.8l.1,.7l.1,1.9l.1,2.1l.1,.9l.1,.7l.1,.9l.1,.8l.1,.5l.1,.5l.1,.7l.1-.1l.1,.0l.1,.6l.1,.1l.1-.4l.1,.4l.1-.1l.1,.9l.1,.3l.1,.0l.1,.7l.1-.4l.1,.1l.1,.0l.1,.2l.1,.4l.1-.9l.1,.6l.1-.2l.1,.3l.1-.8l.1,.3l.1,.9l.1,.0l.1,.2l.1-.4l.1,.3l.1-.4l.1-.5l.1,.2l.1,.0l.1-.2l.1,.3l.1-.2l.1,.7l.1,.1l.1,.0l.1,.1l.1-.6l.1,.6l.1-.2l.1,.1l.1-.3l.1-1.0l.1,1.0l.1-.2l.1,.9l.1-1.0l.1,.7l.1-.3l.1-.3l.1,.1l.1,.0l.1,.5l.1,.0l.1,.1l.1,.1l.1-.3l.1,.2l.1,.2l.1-.4l.1-.2l.1-.4l.1,1.2l.1-.5l.1,.8l.1-.8l.1,.5l.1-.2l.1,.0l.1-.3l.1,.3l.1,.0l.1-.3l.1,.1l.1-.1l.1,.2l.1,.0l.1-.3l.1,.1l.1,.3l.1-.6l.1,.7l.1,.1l.1-1.3l.1,.6l.1,.4l.1-.6l.1,1.0l.1-.1l.1-.1l.1,.2l.1-.2l.1,.3l.1-.1l.1-.2l.1,.0l.1-.5l.1-.1l.1,.8l.1,.1l.1-.6l.1-.3l.1-.3l.1,1.1l.1-.1l.1,.3l.1-.1l.1,.1l.1-.3l.1-.5l.1,.0l.1,.6l.1-1.0l.1,.7l.1-.5l.1,.7l.1-.6l.1-.1l.1,.8l.1-1.4l.1,1.7l.1-.4l.1-.5l.1,.4l.1-.7l.1,.3l.1-.3l.1,.4l.1-.4l.1,.2l.1,1.0l.1-.6l.1,.0l.1,.0l.1-.1l.1,.2l.1-.6l.1,.7l.1-.3l.1-.9l.1,.7l.1,.5l.1-.4l.1-.1l.1,.4l.1-.2l.1-.4l.1,.7l.1-.1l.1,.1l.1,.7l.1-.4l.1-.2l.1,.0l.1,.9l.1-.4l.1-1.1l.1,.6l.1-.4l.1-.2l.1,.3l.1-.2l.1-.5l.1,.3l.1,.3l.1-.1l.1,.3l.1-.2l.1,.9l.1,.1l.1-.8l.1-.2l.1,.3l.1,.3l.1-.3l.1,.2l.1,.2l.1-.7l.1,.5l.1-.1l.1,.0l.1,.2l.1-.7l.1,.2l.1,.4l.1,.0l.1-.3l.1,.3l.1,.0l.1-.1l.1-.3l.1,.9l.1,.4l.1-.6l.1-.1l.1,.5l.1-.1l.1-.6l.1,.1l.1-.2l.1,.7l.1-1.0l.1,.7l.1-.8l.1,.5l.1-.3l.1,.1l.1,.4l.1-.1l.1-.6l.1,.2l.1,.1l.1,.5l.1-.7l.1-.1l.1-.1l.1,.3l.1,.3l.1-.6l.1,.6l.1,.1l.1-.2l.1,.0l.1,.7l.1-.8l.1,.3l.1,.6l.1-1.2l.1,.5l.1,.0l.1-.5l.1,.0l.1,.5l.1,.2l.1,.0l.1,.0l.1,.0l.1-.1l.1,.1l.1-.2l.1-.1l.1,.8l.1-1.3l.1,1.1l.1,.1l.1-1.0l.1-.4l.1,.4l.1,.4l.1-.5l.1,.8l.1-.4l.1-.5l.1,.6l.1-.8l.1,.3l.1,.4l.1,.4l.1-.2l.1,.4l.1-1.0" fill="none" stroke="#38e4e4" stroke-width="0.65" stroke-linejoin="round"/>
<path d="M35.50,509.7l.4-.4l.4-.1l.4-.1l.4-.2l.4,.3l.4-.2l.4,.1l.4,.4l.4,.0l.4,.0l.4,.1l.4-.5l.4,.2l.4,.2l.4-.2l.4-.3l.4,.1l.4-.1l.4-.4l.4,.4l.4-.1l.4,.1l.4-.1l.4,.0l.4,.2l.4-.1l.4-.1l.4,.2l.4-.2l.4-.1l.4,.0l.4,.5l.4-.1l.4-.3l.4-.2l.4,.2l.4-.1l.4-.2l.4,.5l.4-.4l.4,.6l.4-.3l.4-.2l.4,.0l.4,.1l.4,.1l.4-.5l.4,.0l.4,.3l.4-.3l.4,.1l.4,.3l.4-.5l.4,.4l.4-.2l.4-.4l.4,.2l.4,.0l.4,.0l.4-.2l.4-.2l.4,.4l.4,.1l.4-.6l.4,.4l.4,.4l.4-.5l.4,.2l.4,.0l.4-.2l.4,.0l.4,.1l.4-.2l.4,.2l.4,.4l.4-.8l.4-.4l.4,.4l.4,.2l.4-.1l.4-.4l.4,.1l.4,.1l.4-.2l.4,.2l.4,.0l.4,.1l.4-.3l.4-.4l.4,.7l.4-.4l.4,.3l.4-.1l.4-.3l.4,.1l.4,.1l.4,.0l.4-.2l.4-.4l.4,.4l.4-.3l.4,.3l.4,.0l.4,.0l.4-.4l.4,.5l.4-.1l.4-.5l.4-.1l.4,.4l.4-.3l.4-.1l.4,.2l.4-.1l.4-.3l.4,.2l.4,.2l.4,.0l.4-.4l.4,.0l.4,.3l.4-.2l.4-.1l.4-.1l.4,.0l.4-.5l.4-.2l.4,.3l.4,.0l.4-.4l.4,.3l.4,.4l.4-.6l.4,.2l.4,.0l.4,.0l.4-.1l.4-.3l.4-.1l.4,.1l.4,.2l.4-.3l.4-.3l.4,.3l.4-.2l.4-.3l.4,.0l.4,.1l.4-.4l.4,.3l.4,.4l.4-.2l.4,.0l.4-.4l.4-.4l.4,.3l.4,.0l.4,.0l.4,.4l.4,.2l.4-.3l.4-.3l.4,.2l.4-.2l.4-.2l.4-.1l.4-.2l.4,.5l.4,.0l.4-.1l.4,.4l.4-.3l.4,.2l.4-.5l.4-.3l.4,.4l.4-.1l.4-.2l.4,.4l.4-.4l.4,.2l.4,.3l.4-.2l.4,.0l.4-.5l.4,.0l.4,.6l.4,.3l.4-.3l.4-.1l.4-.3l.4,.1l.4,.1l.4,.2l.4-.4l.4-.1l.4,.1l.4-.2l.4,.3l.4-.1l.4-.1l.4,.5l.4,.0l.4-.3l.4,.0l.4,.2l.4-.4l.4,.1l.4,.3l.4-.5l.4,.2l.4,.6l.4-.5l.4,.2l.4-.2l.4,.2l.4-.5l.4,.1l.4,.2l.4-.1l.4-.1l.4,.7l.4-.1l.4-.1l.4-.2l.4-.2l.4,.2l.4,.3l.4,.2l.4-.3l.4,.0l.4-.1l.4,.1l.4-.2l.4-.3l.4,.3l.4,.4l.4-.6l.4,.0l.4,.5l.4-.2l.4-.2l.4,.5l.4-.2l.4-.3l.4,.3l.4-.2l.4-.2l.4,.0l.4,.6l.4-.2l.4-.2l.4-.2l.4,.4l.4-.1l.4,.3l.4-.2l.4-.2l.4,.0l.4,.1l.4,.2l.4,.0l.4-.2l.4-.3l.4,.2l.4,.2l.4,.0l.4,.1l.4,.0l.4,.1l.4,.2l.4,.2l.4-.3l.4-.2l.4-.1l.4,.1l.4,.1l.4-.4l.4,.1l.4,.6l.4-.3l.4-.1l.4,.1l.4,.2l.4,.1l.4,.1l.4-.2l.4-.3l.4,.4l.4-.1l.4-.4l.4,.1l.4,.0l.4,.3l.4,.1l.4,.0l.4,.0l.4-.2l.4-.1l.4-.1l.4,.5l.4,.3l.4-.2l.4-.2l.4,.0l.4,.1l.4,.0l.4,.3l.4-.5l.4-.2l.4-.1l.4-.2l.4,.1l.4,.6l.4,.3l.4-.7l.4,.1l.4,.2l.4,.0l.4,.2l.4-.6l.4-.1l.4,.2l.4,.1l.4,.2l.4-.2l.4,.0l.4,.4l.4,.1l.4-.1l.4-.1l.4,.1l.4-.1l.4,.0l.4-.1l.4,.1l.4,.0l.4-.1l.4-.2l.4,.0l.4,.2l.4,.2l.4,.0l.4,.0l.4-.1l.4-.2l.4,.2l.4,.1l.4-.3l.4,.0l.4,.2l.4-.4l.4-.4l.4,.4l.4,.3l.4,.0l.4,.0l.4,.2l.4-.4l.4,.0l.4,.1l.4,.1l.4,.3l.4,.0l.4-.2l.4-.3l.4,.3l.4-.5l.4,.3l.4,.1l.4,.0l.4-.1l.4-.2l.4,.0l.4,.2l.4-.3l.4-.2l.4,.1l.4,.1l.4,.4l.4-.4l.4-.2l.4-.1l.4,.3l.4,.2l.4-.1l.4,.1l.4,.1l.4-.2l.4,.0l.4,.2l.4,.0l.4-.1l.4-.1l.4,.0l.4-.1l.4-.2l.4,.2l.4-.1l.4,.0l.4-.2l.4-.3l.4-.1l.4-.1l.4,.3l.4,.0l.4-.2l.4,.2l.4,.2l.4-.4l.4,.1l.4,.1l.4,.1l.4-.2l.4,.2l.4,.4l.4-.1l.4-.6l.4,.2l.4,.3l.4,.3l.4-.3l.4-.1l.4-.6l.4,.2l.4,.3l.4-.1l.4-.1l.4,.1l.4-.3l.4,.3l.4,.0l.4-.5l.4,.2l.4,.4l.4-.1l.4,.1l.4-.5l.4,.2l.4,.2l.4,.3l.4-.1l.4-.2l.4-.2l.4,.1l.4,.3l.4,.0l.4-.2l.4,.0l.4,.1l.4,.2l.4,.3l.4-.6l.4,.1l.4-.3l.4,.4l.4,.0l.4,.3l.4-.1l.4-.2l.4,.1l.4,.1l.4,.0l.4-.4l.4,.3l.4,.3l.4,.2l.4,.1l.4,.1l.4-.6l.4,.0l.4,.2l.4-.3l.4,.0l.4-.1l.4,.0l.4,.1l.4-.1l.4,.1l.4,.0l.4,.1l.4-.5l.4,.2l.4,.4l.4,.0l.4-.3l.4,.1l.4-.4l.4,.1l.4,.1l.4-.2l.4-.4l.4,.3l.4,.3l.4-.1l.4-.5l.4,.2l.4,.1l.4,.2l.4,.3l.4,.2l.4-.6l.4,.3l.4-.4l.4-.3l.4,.3l.4,.4l.4-.4l.4-.3l.4-.1l.4,.2l.4,.4l.4-.7l.4,.4l.4-.1l.4-.1l.4,.3l.4-.2l.4,.5l.4,.0l.4-.1l.4,.4l.4-.2l.4,.0l.4,.0l.4-.1l.4-.2l.4,.3l.4,.5l.4-.2l.4-.2l.4,.2l.4-.3l.4-.3l.4,.5l.4,.1l.4-.2l.4-.3l.4,.4l.4,.0l.4-.2l.4-.2l.4-.1l.4,.3l.4-.1l.4-.1l.4-.1l.4,.0l.4,.3l.4-.6l.4,.5l.4-.1l.4-.1l.4,.1l.4-.3l.4,.3l.4,.0l.4,.2l.4,.3l.4-.4l.4-.1l.4,.1l.4-.2l.4-.1l.4,.5l.4,.1l.4-.6l.4,.0l.4-.2l.4,.2l.4,.6l.4,.2l.4,.0l.4-.3l.4-.3l.4,.2l.4,.1l.4,.0l.4-.4l.4,.0l.4,.1l.4,.1l.4-.2l.4,.0l.4,.2l.4,.1l.4-.1l.4-.2l.4,.1l.4,.2l.4-.2l.4-.1l.4,.2l.4,.0l.4,.0l.4-.2l.4,.2l.4,.1l.4-.4l.4,.0l.4,.3l.4-.3l.4,.0l.4,.5l.4,.0l.4-.2l.4,.1l.4,.3l.4-.4l.4,.2l.4-.1l.4,.0l.4,.1l.4-.3l.4,.0l.4,.0l.4-.2l.4,.3l.4,.0l.4-.2l.4,.1l.4-.1l.4,.0l.4-.5l.4,.5l.4,.2l.4-.5l.4,.0l.4,.4l.4,.2l.4-.1l.4-.3l.4-.2l.4,.2l.4,.0l.4-.1l.4,.3l.4-.2l.4-.1l.4-.1l.4-.2l.4,.0l.4,.1l.4,.4l.4-.3l.4,.0l.4,.3l.4,.2l.4,.0l.4,.1l.4-.4l.4-.1l.4,.3l.4-.4l.4,.0l.4,.1l.4,.0l.4,.1l.4-.1l.4,.3l.4,.1l.4-.2l.4-.2l.4-.2l.4,.1l.4,.0l.4,.0l.4-.1l.4,.3l.4,.0l.4,.0l.4,.0l.4,.1l.4-.5l.4-.4l.4,.8l.4-.3l.4-.2l.4,.6l.4-.5l.4,.2l.4,.1l.4-.1l.4-.2l.4-.2l.4,.5l.4-.1l.4,.0l.4,.3l.4,.0l.4,.5l.4-.4l.4-.2l.4-.4l.4,.1l.4,.0l.4,.1l.4,.3l.4-.1l.4-.5l.4,.5l.4-.2l.4-.1l.4,.0l.4,.0l.4,.2l.4-.1l.4-.1l.4-.1l.4,.2l.4,.3l.4,.0l.4-.1l.4-.1l.4,.1l.4-.1l.4-.2l.4,.2l.4,.4l.4-.5l.4-.1l.4,.0l.4,.0l.4-.1l.4,.3l.4-.2l.4,.5l.4-.3l.4-.4l.4,.5l.4-.1l.4-.1l.4,.2l.4-.2l.4,.2l.4-.1l.4-.2l.4,.2l.4-.2l.4,.2l.4-.4l.4-.2l.4,.8l.4,.0l.4-.4l.4,.3l.4,.2l.4,.2l.4-.8l.4,.1l.4,.1l.4,.0l.4-.1l.4,.2l.4-.1l.4,.0l.4-.1l.4,.0l.4-.3l.4,.1l.4,.2l.4,.0l.4,.0l.4-.2l.4,.6l.4,.4l.4-.2l.4-.3l.4-.3l.4,.0l.4-.3l.4,.1l.4,.1l.4-.1l.4-.3l.4,.4l.4,.1l.4-.2l.4-.1l.4,.0l.4,.0l.4,.1l.4,.0l.4,.1l.4-.1l.4,.2l.4-.2l.4-.2l.4,.2l.4-.4l.4,.2l.4,.0l.4-.4l.4,.1l.4,.0l.4,.2l.4,.1l.4,.1l.4,.0l.4-.1l.4-.5l.4,.2l.4,.0l.4,.3l.4-.3l.4,.4l.4-.2l.4,.1l.4-.2l.4-.1l.4,.2l.4,.0l.4,.1l.4,.2l.4,.3l.4-.4l.4,.1l.4-.5l.4,.1l.4,.2l.4,.0l.4-.1l.4,.3l.4,.1l.4,.1l.4,.1l.4-.5l.4,.2l.4,.1l.4,.2l.4-.3l.4-.1l.4,.4l.4,.1l.4-.2l.4-.4l.4,.1l.4,.4l.4,.0l.4,.1l.4-.2l.4,.2l.4-.1l.4-.2l.4,.2l.4,.2l.4-.2l.4,.1l.4,.0l.4-.1l.4,.0l.4-.1l.4,.1l.4-.5l.4,.4l.4,.1l.4,.4l.4-.5l.4-.3l.4,.5l.4,.0l.4,.0l.4-.5l.4,.7l.4,.0l.4,.4l.4-.5l.4-.1l.4-.3l.4-.2l.4,.5" fill="none" stroke="#e020e0" stroke-width="0.9" stroke-linejoin="round"/><path d="M35.50,509.8l.1-1.2l.1,.5l.1,.1l.1-.3l.1,.5l.1-.1l.1,.1l.1-.5l.1,.6l.1-.3l.1,.1l.1-.2l.1,.0l.1-.2l.1,.2l.1-.2l.1-.4l.1-.1l.1,.9l.1,.1l.1-.3l.1,.5l.1-.4l.1-.2l.1,.0l.1,.3l.1,.3l.1-.6l.1-.1l.1,.7l.1,.1l.1,.1l.1-.8l.1,.6l.1,.1l.1-.3l.1,.1l.1-.3l.1,.2l.1,.1l.1-.2l.1,.9l.1-.6l.1,.2l.1,.0l.1-.7l.1,.2l.1-.5l.1,.2l.1-.2l.1,.6l.1-.1l.1-.3l.1,.6l.1-.4l.1-.2l.1,.7l.1-.4l.1-.4l.1,.6l.1,.0l.1-.2l.1,.3l.1-.4l.1,.5l.1-.5l.1-.1l.1-1.0l.1,.9l.1,.9l.1-1.0l.1,.1l.1-.2l.1-.5l.1,.6l.1,.4l.1,.0l.1-.4l.1-.3l.1,.2l.1,.7l.1-.4l.1,.4l.1-.5l.1-.4l.1,.0l.1,.6l.1,.1l.1-.2l.1,.4l.1-.7l.1,.0l.1,.1l.1,.2l.1-1.2l.1,1.1l.1,.1l.1-.2l.1-.1l.1,.8l.1-.6l.1,.0l.1,.6l.1-1.0l.1,1.2l.1-1.2l.1-.1l.1-.1l.1,.1l.1,.0l.1,.3l.1-.1l.1-.5l.1,1.1l.1-.2l.1,.0l.1,.1l.1-.3l.1-.3l.1,1.2l.1-1.1l.1-.3l.1,1.1l.1-.8l.1,.2l.1-.1l.1,.2l.1,.4l.1,.1l.1-.4l.1,.6l.1-.7l.1-.3l.1,.7l.1-.3l.1-.2l.1-.2l.1,.5l.1-.6l.1-.1l.1,.4l.1,.0l.1-.6l.1,1.1l.1-1.0l.1,.3l.1,.2l.1-.1l.1,.2l.1-.3l.1-1.0l.1,1.3l.1-.4l.1,.4l.1-.2l.1-.1l.1,.5l.1,.0l.1-.2l.1-.5l.1,.8l.1-.3l.1,.5l.1-.2l.1-.1l.1,.4l.1,.0l.1-.2l.1-.6l.1,.1l.1-.3l.1,.2l.1-.2l.1-.1l.1,.5l.1-.1l.1-.5l.1-.4l.1,.5l.1,.4l.1,.0l.1-.5l.1,.2l.1-.2l.1,.7l.1-.5l.1,.2l.1-.8l.1,.8l.1-.4l.1-.1l.1,.3l.1,.3l.1,.2l.1-1.0l.1,.5l.1,.3l.1,.0l.1-.2l.1-.5l.1,.3l.1-.2l.1,.3l.1,.5l.1-.3l.1,.3l.1,.5l.1-.3l.1-.9l.1,.0l.1-.5l.1,.9l.1-.2l.1-.1l.1,.1l.1-.2l.1,.5l.1-.5l.1,.5l.1-.2l.1-.2l.1,.0l.1-.3l.1,.0l.1,.5l.1,.1l.1-.3l.1,.4l.1-1.0l.1,.7l.1-.1l.1-.2l.1,.4l.1,.5l.1-.5l.1,.1l.1,.0l.1,.1l.1-.7l.1-.2l.1,.5l.1-.2l.1-.4l.1,.7l.1-.8l.1-.3l.1,.6l.1-.1l.1,.3l.1,.1l.1-.2l.1,.4l.1-.7l.1-.5l.1,1.0l.1-.1l.1,.1l.1-.5l.1,.4l.1-.1l.1,.8l.1-.7l.1,.4l.1-.2l.1,.3l.1-.3l.1-.9l.1,.5l.1-.3l.1,.5l.1,.3l.1-.6l.1,.6l.1-.6l.1,.4l.1,.1l.1,.1l.1-.3l.1,.2l.1-.4l.1-.1l.1,.4l.1,.0l.1-.1l.1,.0l.1,.4l.1,.0l.1,.1l.1-.6l.1-.3l.1-.2l.1,.4l.1-.4l.1-.4l.1,.7l.1,1.1l.1-.6l.1,.1l.1-.1l.1,.3l.1-.6l.1,.2l.1,.0l.1-.4l.1-.2l.1-.4l.1,.3l.1-.6l.1-.2l.1,.6l.1,.5l.1,.2l.1-.4l.1,.5l.1-.1l.1,.1l.1-.4l.1,.5l.1,.0l.1-.5l.1,.0l.1-.2l.1-.2l.1-.1l.1-.2l.1,.6l.1-.2l.1,.0l.1,.2l.1,.0l.1,.5l.1-.2l.1-.4l.1,.4l.1-.9l.1,.2l.1,.1l.1,.4l.1-.2l.1-.1l.1,.0l.1,.0l.1-.2l.1,.1l.1,.3l.1,.0l.1,.2l.1,.5l.1-.4l.1-.9l.1,.5l.1,.5l.1-.6l.1-.3l.1,.0l.1-.5l.1,.6l.1,.1l.1-.2l.1,.7l.1,.5l.1-.8l.1-.4l.1,.2l.1-.3l.1-.5l.1,.8l.1,.5l.1-.5l.1,.3l.1,.0l.1-.2l.1-.2l.1-.1l.1-.1l.1,.1l.1,.2l.1-.3l.1-.2l.1,.6l.1-.2l.1,1.1l.1-1.0l.1,.8l.1-.5l.1,.0l.1,.0l.1-.1l.1-.2l.1,.1l.1-.3l.1-.2l.1,.6l.1-1.2l.1,1.4l.1-.5l.1-.3l.1,.8l.1,.1l.1-.2l.1-1.4l.1,.2l.1,.8l.1-.7l.1,.5l.1-.3l.1,.4l.1-.1l.1,.0l.1-.5l.1,.6l.1-.2l.1,.6l.1-.5l.1,.5l.1-.1l.1-.2l.1-.4l.1,.3l.1-.3l.1,.5l.1-.5l.1,.0l.1,.8l.1-.2l.1,.4l.1-.3l.1-1.0l.1,.6l.1-.1l.1-.2l.1,.2l.1,.4l.1-.7l.1-.2l.1,.3l.1,.3l.1-.3l.1,.5l.1,.1l.1-.5l.1,.5l.1-1.0l.1,.7l.1-.9l.1-.1l.1-.2l.1,.6l.1,.0l.1,.0l.1,.0l.1,.1l.1,.0l.1-.1l.1,.3l.1-.3l.1,.1l.1-.5l.1-.1l.1,.7l.1-.5l.1,.2l.1-.4l.1,.1l.1,.0l.1,.3l.1,.7l.1-.6l.1,.5l.1-.3l.1,.2l.1-.5l.1,.8l.1-.5l.1-.4l.1,.4l.1-.9l.1,.1l.1,.4l.1,.6l.1-.7l.1,.7l.1-.1l.1-.4l.1,.4l.1,.0l.1-.8l.1,.9l.1-1.0l.1,.6l.1,.0l.1,.4l.1-.2l.1-.4l.1-.6l.1,1.2l.1-.5l.1,.0l.1-.4l.1-.5l.1,.7l.1-.4l.1,.3l.1-.1l.1-.7l.1,.6l.1-.5l.1,.0l.1,.4l.1-.5l.1,.5l.1,.0l.1,.7l.1-.4l.1,.1l.1-.7l.1-.4l.1,.5l.1,.5l.1-.4l.1-.4l.1,.0l.1,.9l.1-.3l.1-.6l.1-.1l.1,1.4l.1-.4l.1-.2l.1-.1l.1-.3l.1-.1l.1,.1l.1-.8l.1,.6l.1,.2l.1,.6l.1,.0l.1-.6l.1,.2l.1,.2l.1,.4l.1-.2l.1-.6l.1,.7l.1-.9l.1,.6l.1-.3l.1-.5l.1,.3l.1-.1l.1,.3l.1,.1l.1-1.1l.1,.3l.1,.6l.1-.1l.1-.1l.1,.0l.1,.3l.1,.1l.1-.6l.1-.5l.1,1.0l.1-.5l.1-.5l.1,.7l.1-.4l.1,.2l.1-.8l.1,.9l.1-.4l.1,.2l.1-.2l.1-.1l.1,.8l.1-.1l.1-.1l.1-.5l.1,.3l.1-.3l.1,.3l.1-.6l.1,.2l.1,.1l.1-.2l.1,.4l.1-.8l.1,1.2l.1-.6l.1-.1l.1,.0l.1-.2l.1-.1l.1,.0l.1-.3l.1,.3l.1,.1l.1-.1l.1-.1l.1,.9l.1,.4l.1-.9l.1,.7l.1-.6l.1,.2l.1-.6l.1,.3l.1,.0l.1,.3l.1-.2l.1,.8l.1-.9l.1,.4l.1-.2l.1-1.0l.1,.0l.1,.7l.1-.7l.1,.0l.1-.5l.1,.4l.1,.4l.1,.5l.1,.2l.1-.6l.1,.5l.1-.4l.1-.1l.1,.0l.1,.0l.1-.4l.1,.6l.1-.4l.1,.6l.1,1.0l.1-1.3l.1,1.1l.1-1.1l.1,.5l.1,.5l.1-.4l.1,.1l.1,.1l.1-.5l.1-.3l.1,.2l.1,.0l.1,.4l.1-1.3l.1,1.1l.1-.1l.1,.0l.1-.3l.1,.0l.1-.2l.1,.6l.1-.4l.1-.3l.1,.1l.1,.3l.1,.3l.1-.3l.1-.5l.1-.3l.1,.3l.1-.2l.1-.1l.1,.2l.1,.8l.1-.1l.1-.2l.1,.4l.1-.2l.1,.3l.1-.5l.1,.6l.1-.3l.1-.3l.1-.5l.1,.7l.1,.2l.1-.3l.1,.1l.1-.2l.1,.3l.1-.7l.1,.3l.1,.7l.1-.2l.1-.3l.1,.6l.1-.7l.1,.2l.1-.3l.1-.4l.1,.3l.1,.3l.1-1.1l.1,.1l.1,.9l.1-.6l.1,.3l.1,.0l.1-.1l.1,.5l.1-.7l.1-.1l.1,.2l.1,.2l.1,.4l.1-.6l.1,.6l.1,.1l.1-.3l.1,.3l.1-.4l.1-.5l.1,.6l.1-.8l.1,.8l.1-.6l.1,.1l.1,.3l.1-.3l.1,.5l.1-.1l.1,.1l.1,.4l.1-.2l.1-.4l.1,.4l.1-.2l.1-.3l.1-.3l.1,.2l.1,.7l.1-.7l.1,.0l.1,.4l.1-.9l.1,.6l.1-1.1l.1,.4l.1-.3l.1,.9l.1,.2l.1,.0l.1,.1l.1,1.4l.1-.7l.1-.1l.1-.5l.1-.1l.1,.2l.1-.3l.1-.1l.1,.2l.1-.6l.1,.7l.1-.1l.1,.2l.1,.0l.1,.1l.1-.7l.1,.2l.1,.4l.1-.6l.1,.4l.1-.4l.1,.1l.1-.2l.1,.6l.1,.7l.1,.1l.1-.7l.1,.0l.1,.2l.1-.9l.1,.1l.1,.2l.1-.7l.1,.2l.1,.1l.1-.1l.1,.3l.1-.7l.1,.9l.1-.2l.1,.2l.1,.1l.1-.5l.1,.6l.1-1.3l.1,.7l.1,.4l.1,.4l.1-.4l.1,.2l.1-.2l.1,.3l.1-.8l.1-.1l.1,.3l.1,.3l.1,.7l.1-1.0l.1,.1l.1,1.1l.1-.7l.1-.1l.1,.0l.1-.3l.1,.1l.1,.2l.1-.4l.1,.8l.1-1.5l.1,1.2l.1-.5l.1,1.0l.1-.9l.1,.6l.1,.4l.1-.6l.1-.7l.1,.2l.1,.2l.1,.2l.1-.4l.1,.2l.1-.4l.1,.4l.1,.5l.1-.4l.1,.0l.1,.1l.1,.5l.1-.5l.1-.3l.1-.4l.1-.3l.1,1.0l.1-.4l.1,.8l.1,.1l.1-.3l.1-.2l.1,.6l.1-1.2l.1-.2l.1,1.2l.1-.9l.1,.4l.1,.6l.1,.3l.1-1.2l.1,.2l.1,.4l.1-.3l.1-.2l.1,.7l.1-1.0l.1,1.0l.1-.5l.1-.2l.1-.5l.1,.2l.1,.6l.1-.4l.1,.3l.1,.0l.1-.2l.1-.1l.1,.1l.1,.0l.1,.6l.1-.7l.1,1.0l.1-1.1l.1-.1l.1,.3l.1-.4l.1,.9l.1,.2l.1,.3l.1,.2l.1-.1l.1-1.1l.1,.8l.1-.4l.1,.5l.1-.5l.1-.1l.1-.1l.1,.5l.1-.1l.1-.9l.1,.7l.1,.0l.1-.2l.1,.0l.1,.3l.1,.0l.1-.2l.1,.0l.1,.0l.1-.2l.1,.5l.1,.0l.1-.2l.1,.5l.1,.4l.1,.0l.1-.8l.1,.1l.1-.2l.1,.6l.1-.6l.1,.5l.1-.8l.1,.4l.1-.3l.1,.4l.1-.1l.1-.8l.1,1.0l.1-.4l.1,.0l.1-.2l.1-.1l.1,.5l.1,.1l.1,.3l.1-.5l.1-.3l.1,.4l.1-.6l.1,.0l.1,.1l.1,.2l.1-.7l.1,.6l.1,.1l.1,.1l.1,.8l.1-1.1l.1,.6l.1,.1l.1-.3l.1,.2l.1-1.2l.1,.5l.1-.2l.1-.2l.1,.4l.1,.5l.1-.2l.1,1.1l.1-1.3l.1,.7l.1,.0l.1-.2l.1,.1l.1-.6l.1,.2l.1-.2l.1,.1l.1-.1l.1,.2l.1,.6l.1-.3l.1,.3l.1-.4l.1-.1l.1,.6l.1-1.1l.1,.2l.1,.5l.1-.1l.1-.1l.1,.3l.1-.4l.1,.4l.1,.5l.1-1.2l.1,.5l.1,.1l.1-.2l.1,.1l.1-.5l.1,.3l.1-.1l.1,.1l.1-.1l.1,.7l.1-.1l.1,.6l.1-.3l.1-.1l.1,.1l.1,.2l.1-1.0l.1-.2l.1,.1l.1,.7l.1-.5l.1-.1l.1,.2l.1,.1l.1-.5l.1-.1l.1,.2l.1,.3l.1-.2l.1,.5l.1,.2l.1-.5l.1-.3l.1-.1l.1,.4l.1-.3l.1,.6l.1-.4l.1,.7l.1-.3l.1,.1l.1-.6l.1,.3l.1,.1l.1-1.0l.1,.8l.1-.1l.1-.3l.1-.3l.1,.6l.1-.3l.1,.2l.1,.3l.1-1.2l.1,1.4l.1,.5l.1-.8l.1,.1l.1,.0l.1,.3l.1,.7l.1-1.2l.1-.6l.1,1.0l.1-.1l.1-.3l.1-.1l.1-.6l.1,.7l.1-.5l.1,.5l.1-.2l.1-.2l.1-.3l.1,1.4l.1-.6l.1,.0l.1,.6l.1-.4l.1-.1l.1-.9l.1,1.3l.1-.1l.1-.8l.1,.1l.1,.6l.1-.3l.1,.6l.1-.9l.1,.5l.1,.1l.1,.0l.1-.6l.1,.1l.1,.3l.1,.8l.1-.9l.1,.3l.1,.5l.1-.1l.1,.2l.1-.4l.1,.0l.1,.4l.1-.5l.1,.0l.1-.4l.1,.0l.1-.2l.1,.2l.1,.0l.1,.0l.1,.1l.1,.4l.1,.5l.1-.9l.1,.6l.1-.3l.1-.7l.1,.8l.1-.8l.1,.9l.1-.6l.1,.8l.1-.3l.1-.8l.1-.1l.1,.6l.1-.5l.1,.3l.1,.6l.1-.2l.1,.3l.1,.5l.1-.6l.1,.2l.1-.6l.1-.9l.1,.8l.1-.1l.1,.3l.1-.1l.1-.2l.1,.0l.1,.2l.1-.2l.1-.1l.1,.4l.1,.0l.1,.4l.1-.4l.1,.2l.1-.3l.1,.3l.1,.3l.1,.3l.1-.5l.1,.2l.1-.5l.1-.1l.1,.2l.1,.0l.1-.1l.1-.2l.1,.3l.1,.2l.1-.5l.1,.4l.1,.2l.1,.2l.1-.1l.1,.1l.1-.3l.1-.6l.1,.0l.1,.2l.1-.3l.1,.0l.1,.3l.1,.3l.1-.3l.1,.1l.1,.6l.1-.9l.1,.1l.1-.3l.1,.8l.1,.0l.1-.6l.1,.6l.1-.6l.1,.6l.1,.0l.1,.0l.1-.6l.1,.7l.1,.1l.1,.3l.1-.3l.1-.2l.1-.2l.1,.4l.1,.0l.1-.1l.1-.1l.1-.2l.1-.5l.1,.4l.1,.5l.1-.1l.1-.6l.1,.7l.1-.2l.1-.1l.1-.6l.1,.6l.1,.3l.1,.7l.1-.8l.1,.0l.1,.6l.1,.1l.1-.2l.1-.5l.1-.1l.1,.3l.1-.1l.1,.0l.1-.5l.1-.2l.1,.8l.1-.6l.1,.2l.1,.5l.1-1.0l.1,.5l.1,.0l.1,.4l.1-.1l.1,.1l.1-.7l.1,.4l.1-.1l.1,.8l.1-.2l.1,.0l.1,.1l.1-.5l.1-.2l.1,.5l.1-.4l.1,.0l.1,.6l.1-1.3l.1,.5l.1-.3l.1,.1l.1-.8l.1,.8l.1-.5l.1,.3l.1,.2l.1,.1l.1,.0l.1,.2l.1-.4l.1-.3l.1,.7l.1,.2l.1-.1l.1,.2l.1,.4l.1,.4l.1,.1l.1-1.2l.1,.4l.1-.1l.1-.6l.1,.2l.1-1.0l.1,1.1l.1-.2l.1-.3l.1,.6l.1,.8l.1-.8l.1,.8l.1,.0l.1-.7l.1-.2l.1,.3l.1,.4l.1,.1l.1-.4l.1-.5l.1,.9l.1-1.3l.1,.2l.1-.1l.1,.1l.1-.2l.1,.2l.1,.3l.1-.1l.1-.3l.1,.5l.1-.2l.1-.4l.1,.2l.1,.9l.1-.6l.1,.3l.1-.4l.1,.1l.1,.2l.1-.3l.1,.4l.1,.0l.1-.1l.1-.5l.1-.2l.1-.2l.1,1.1l.1-.3l.1-.2l.1,.0l.1,.7l.1-.5l.1,.6l.1-.2l.1,.2l.1-.4l.1-1.1l.1,1.6l.1-1.1l.1,.8l.1-.4l.1-.1l.1,.0l.1-.1l.1,.4l.1,.2l.1-.8l.1-.2l.1,1.1l.1-.3l.1-.6l.1,.8l.1,.1l.1-.2l.1,.0l.1-.4l.1-.9l.1,1.2l.1-.5l.1,1.1l.1-.7l.1,.2l.1-.3l.1-.3l.1,.3l.1,.8l.1-.9l.1-.5l.1,1.1l.1,.0l.1-1.0l.1,.4l.1-.1l.1-.2l.1,.3l.1-.6l.1,.7l.1,.2l.1-.4l.1,.4l.1,.0l.1,.1l.1,.6l.1-.5l.1-.5l.1,.6l.1,.0l.1-1.0l.1,.6l.1-.2l.1,.3l.1,.1l.1,.5l.1-.4l.1-.4l.1-.3l.1,.2l.1,.3l.1,.6l.1-1.4l.1,.3l.1,.6l.1-.4l.1,.1l.1-.5l.1,.1l.1,.8l.1-.5l.1,.7l.1-.6l.1,.3l.1,.3l.1-.8l.1-.2l.1,.5l.1-.3l.1,.0l.1,.4l.1-.5l.1,.4l.1-.2l.1-.2l.1,.4l.1,.2l.1-.5l.1-.6l.1,.3l.1,.0l.1-.2l.1,.5l.1-.5l.1,.5l.1-.3l.1,.2l.1,.1l.1,.3l.1-.5l.1,.3l.1,.2l.1,.3l.1,.1l.1-.4l.1,.1l.1,.0l.1-.3l.1,.8l.1-.2l.1-.6l.1,.3l.1-.2l.1,.0l.1,.0l.1,.0l.1-.4l.1,.2l.1,.3l.1,.0l.1-.1l.1-.4l.1,.2l.1,.7l.1-.5l.1-.3l.1,.5l.1,.4l.1-1.1l.1,1.0l.1-.8l.1,.7l.1-.1l.1-.4l.1-.2l.1,.3l.1-.1l.1,.2l.1,.3l.1-.4l.1,.8l.1-1.1l.1-.4l.1,.3l.1,.7l.1-.6l.1,.2l.1,.4l.1-.3l.1,.2l.1-.4l.1-.1l.1-.1l.1,.0l.1,.5l.1-.8l.1,.2l.1,.3l.1-.4l.1,.3l.1-.2l.1,.5l.1-.6l.1,.5l.1-.1l.1,.6l.1-1.1l.1-.1l.1,.2l.1,.0l.1,.1l.1,.4l.1-.5l.1,.5l.1-.1l.1,.2l.1-.8l.1,.4l.1,.3l.1,.5l.1-.8l.1,.0l.1,.7l.1-.5l.1-.2l.1,.6l.1-.9l.1,.4l.1,.3l.1-.5l.1,1.1l.1-.8l.1-.2l.1,.3l.1-.2l.1-1.0l.1,1.0l.1,.0l.1-.3l.1,.8l.1-.4l.1-.2l.1,.9l.1-.4l.1,.0l.1,.0l.1-1.1l.1,1.2l.1-1.1l.1,.0l.1,.5l.1-.3l.1,.6l.1-.6l.1,.5l.1-.1l.1-.3l.1,.3l.1,.0l.1,.1l.1,.0l.1,.1l.1-.2l.1,.1l.1,.5l.1-.4l.1,.7l.1-.7l.1,.0l.1,.2l.1,.2l.1-.1l.1-.3l.1-.2l.1-.1l.1,.1l.1-.5l.1,.1l.1-.1l.1,.9l.1-.3l.1,.4l.1-.5l.1,.3l.1-.4l.1-.3l.1,.6l.1-.2l.1,.0l.1-.2l.1,.7l.1-.2l.1,.0l.1,.2l.1-.8l.1,.4l.1-.1l.1-.3l.1,.1l.1-.3l.1,.4l.1,.0l.1-.7l.1,1.2l.1-.2l.1-.2l.1,.2l.1-.3l.1,.0l.1,.3l.1-.6l.1-.3l.1,.9l.1-.4l.1,.4l.1-.1l.1-.7l.1,.3l.1-.4l.1,.3l.1,.0l.1,.2l.1,.4l.1-.7l.1-.3l.1,.3l.1-.3l.1-.3l.1,.1l.1-.4l.1,.0l.1,.1l.1,.2l.1-.1l.1-.4l.1,.3l.1-.3l.1,.5l.1-.5l.1-.1l.1-.4l.1,.8l.1-.1l.1,.1l.1-.9l.1-.3l.1,.6l.1-.6l.1-1.1l.1,.8l.1-.7l.1,.7l.1-.1l.1-1.1l.1,.5l.1-.4l.1-.5l.1-1.4l.1-.8l.1-.3l.1-2.1l.1-.7l.1-1.2l.1-1.4l.1-2.2l.1-1.7l.1-3.0l.1-3.3l.1-3.3l.1-3.8l.1-3.5l.1-3.4l.1-5.0l.1-4.7l.1-4.9l.1-4.8l.1-3.5l.1-3.9l.1-3.0l.1-2.8l.1-.7l.1-.9l.1,.5l.1,1.8l.1,2.6l.1,3.3l.1,3.5l.1,4.5l.1,3.6l.1,5.0l.1,4.4l.1,4.3l.1,3.9l.1,4.2l.1,3.3l.1,4.1l.1,2.0l.1,2.1l.1,2.3l.1,2.4l.1,2.4l.1,.9l.1,1.3l.1,2.0l.1,.1l.1,1.1l.1,.7l.1,.6l.1,.1l.1-.2l.1,.3l.1,1.1l.1,.4l.1-.6l.1,.4l.1-.1l.1-.3l.1,.4l.1-.5l.1,.7l.1,.2l.1,.1l.1,.0l.1,1.0l.1-.9l.1,.1l.1-.2l.1,.4l.1,.0l.1-.2l.1,.7l.1-.3l.1,.1l.1-.5l.1,.5l.1,.6l.1-.1l.1-.3l.1,.2l.1-.2l.1-.1l.1,.1l.1,.1l.1-.2l.1,.9l.1,.4l.1-.8l.1,.0l.1,.7l.1-.8l.1-.3l.1-.2l.1,.0l.1-.2l.1,.0l.1-.5l.1,1.3l.1,.1l.1-.6l.1,.1l.1,1.1l.1-.9l.1-.2l.1,.7l.1-.8l.1-.4l.1,.8l.1,.0l.1-.1l.1-.1l.1-.2l.1,.1l.1-.8l.1,.8l.1-.3l.1,.0l.1,.3l.1,.4l.1-.1l.1,.9l.1-1.6l.1,1.1l.1-.1l.1-1.2l.1,1.4l.1-.1l.1-.1l.1,.0l.1,.1l.1-.1l.1-.3l.1,.4l.1-.3l.1,.2l.1,.7l.1-1.6l.1,.1l.1,.0l.1,.3l.1,.7l.1-.4l.1,.3l.1,.2l.1-1.3l.1,.8l.1-.1l.1,.4l.1-.7l.1,1.1l.1-.8l.1-.2l.1-.1l.1-.1l.1,.5l.1-.2l.1,.2l.1-.3l.1,.5l.1-.1l.1,.4l.1-.2l.1-.5l.1,.6l.1-.6l.1,.1l.1,.5l.1-.5l.1,.3l.1-.3l.1-.2l.1,.5l.1-.6l.1,.9l.1-.2l.1-.3l.1-.4l.1,.4l.1,.0l.1,.3l.1-1.1l.1,.4l.1,.4l.1,.2l.1,.0l.1-.3l.1,.6l.1-.5l.1,.7l.1-.5l.1,.2l.1,.5l.1-.7l.1-.3l.1,.8l.1,.0l.1-.4l.1-.2l.1,.4l.1,.0l.1-.7l.1-.2l.1,.7l.1-.5l.1,.8l.1,.1l.1-.7l.1,1.0l.1-.7l.1,.0l.1,.1l.1,.1l.1,.2l.1-.2l.1-.5l.1-.1l.1-.5l.1,.1l.1,.4l.1,.0l.1-.2l.1,.5l.1,.0l.1,.2l.1,.2l.1,.2l.1,.1l.1-.7l.1,.0l.1-.1l.1,1.2l.1-1.5l.1,.7l.1-.3l.1,.6l.1,.1l.1,.2l.1-.4l.1,.4l.1-.7l.1-.3l.1-.1l.1,.1l.1,.8l.1-.4l.1,.0l.1-.6l.1,.6l.1,.1l.1-.7l.1,1.0l.1-.8l.1,.2l.1,.0l.1-.1l.1-.1l.1,.2l.1,.3l.1,.1l.1-.1l.1-.3l.1-.9l.1,.5l.1,.1l.1,.2l.1,.3l.1-.6l.1,.1l.1,.3l.1,.0l.1,.3l.1-.2l.1-.3l.1-.8l.1,.6l.1-.8l.1,.8l.1,1.2l.1-.5l.1-.3l.1,.7l.1-1.1l.1,.6l.1,.1l.1-.4l.1-.1l.1,.2l.1-.2l.1-.3l.1,.0l.1,.3l.1-.4l.1,.0l.1,.4l.1,.0l.1,.2l.1-.6l.1,.7l.1,.0l.1-.4l.1,.9l.1-.5l.1,.0l.1,.2l.1,.1l.1-.2l.1-.4l.1,.1l.1-.1l.1,.0l.1,.1l.1,.3l.1-1.2l.1,.8l.1-.3l.1-.4l.1,1.4l.1-.9l.1,.8l.1-.6l.1,.2l.1,.0l.1-.2l.1-.1l.1,.2l.1,.0l.1,.5l.1-.9l.1-.7l.1-.2l.1,.8l.1-.5l.1-.1l.1,1.0l.1-1.0l.1,.3l.1,.6l.1,.3l.1-.2l.1-.7l.1,.5l.1-.6l.1,.2l.1-1.2l.1,.4l.1,.4l.1-.1l.1,.1l.1-1.4l.1,1.7l.1-.2l.1,.6l.1-1.4l.1,.4l.1-.3l.1-.2l.1-.1l.1-.3l.1,.0l.1-.7l.1-.4l.1-.9l.1-.4l.1-.6l.1-.9l.1-1.1l.1-1.1l.1-2.4l.1-1.6l.1-2.3l.1-.8l.1-1.7l.1-2.7l.1-2.0l.1-2.7l.1-1.8l.1-1.8l.1-2.3l.1-2.3l.1-.7l.1-.8l.1,.0l.1,.5l.1,.1l.1,1.5l.1,1.9l.1,1.1l.1,2.4l.1,1.7l.1,3.1l.1,2.2l.1,1.9l.1,1.9l.1,1.5l.1,1.7l.1,2.3l.1,1.2l.1,.8l.1,1.6l.1,.5l.1,.6l.1,1.1l.1,.6l.1,.6l.1,1.2l.1-.3l.1,.6l.1,1.0l.1-1.0l.1,.4l.1-.1l.1,.1l.1,.6l.1-1.4l.1,1.3l.1-.8l.1,.1l.1,.8l.1,.0l.1,.0l.1-.2l.1,.4l.1-.7l.1,.6l.1,1.0l.1-1.5l.1,.8l.1,.1l.1-.5l.1,.5l.1,.3l.1-.1l.1-.2l.1-.4l.1,.2l.1-.1l.1,.8l.1-.4l.1-.2l.1,.2l.1,1.0l.1-1.4l.1,1.0l.1-.3l.1-.4l.1,.3l.1-.5l.1,.8l.1,.0l.1-.3l.1,.3l.1-.1l.1,.0l.1,.1l.1,.1l.1-.5l.1,.4l.1,.1l.1,.3l.1-.7l.1-.1l.1,.0l.1,.1l.1-.7l.1,.4l.1,.5l.1,.4l.1-.1l.1-.8l.1,.6l.1-.3l.1-.3l.1,.8l.1,.0l.1,.2l.1-.2l.1,.3l.1-.3l.1,.0l.1-.2l.1,.4l.1-.1l.1-.1l.1-.3l.1,.0l.1,.0l.1,.2l.1-.1l.1,.8l.1-.6l.1-1.2l.1,.9l.1,.2l.1-.2l.1-.3l.1-.2l.1,.8l.1-.9l.1,.7l.1,.2l.1,.2l.1,.4l.1-1.0l.1,.1l.1,.4l.1,.0l.1,.0l.1-.4l.1,.0l.1,.6l.1-.5l.1-.2l.1,.1l.1,.4l.1-.7l.1,.3l.1-.5l.1,.5l.1,.3l.1,.2l.1-.6l.1-.2l.1,.0l.1-.4l.1,.2l.1,.4l.1,.2l.1,.3l.1-.5l.1-.4l.1,.4l.1-.5l.1,.6l.1,.0l.1-.8l.1,.6l.1,.7l.1-.2l.1-.5l.1-1.0l.1,1.3l.1-.1l.1,.0l.1,.3l.1-.3l.1,.0l.1-.3l.1,.0l.1,.2l.1-.3l.1-.3l.1,.0l.1,.5l.1-.4l.1,.0l.1,.4l.1,.3l.1-.9l.1-.2l.1,.9l.1-.4l.1,.3l.1-.3l.1-.4l.1,.6l.1,.2l.1,.1l.1,.1l.1,.5l.1-1.0l.1,.3l.1-.3l.1-.6l.1,.2l.1,.2l.1,.1l.1-.2l.1,.9l.1-.6l.1-.4l.1-.1l.1,.3l.1-.3l.1,.0l.1,.0l.1,.6l.1,.7l.1-1.6l.1,.9l.1,.0l.1-.3l.1,1.0l.1-.6l.1-.5l.1,.6l.1-.2l.1,.8l.1-.3l.1,.3l.1-.9l.1,.4l.1,.4l.1-.7l.1-.3l.1,.1l.1,.2l.1,.0l.1,.2l.1,.0l.1-.4l.1-.2l.1,.3l.1-.6l.1,.3l.1,.2l.1-.6l.1,.6l.1,.0l.1-.5l.1,.5l.1-.3l.1,1.0l.1-.2l.1,.2l.1,.3l.1-.2l.1-.4l.1-.2l.1-.5l.1,.2l.1,.6l.1-.9l.1,.1l.1,.3l.1,.1l.1,.0l.1-.7l.1,.2l.1,.3l.1,.1l.1,.2l.1-.1l.1,.2l.1-.2l.1,.0l.1,.0l.1,.8l.1,.3l.1-.9l.1,.0l.1,.2l.1,.2l.1-.2l.1,.2l.1,.1l.1-.3l.1-.4l.1-.2l.1,.3l.1,.3l.1-.9l.1,1.0l.1-.3l.1,.3l.1-.7l.1,.1l.1-.2l.1,.7l.1-.1l.1-.1l.1,.1l.1,.1l.1-.2l.1,.4l.1-.6l.1,.1l.1,.2l.1-.5l.1,.2l.1-.6l.1,.4l.1,.1l.1-.2l.1,.7l.1-.7l.1,.0l.1-.2l.1,.7l.1-.5l.1,.7l.1,.1l.1-.3l.1,.2l.1,.2l.1-1.3l.1,.1l.1,1.1l.1-.9l.1,1.4l.1-.7l.1-.9l.1,1.0l.1-.4l.1,.3l.1,.1l.1-.4l.1,.0l.1,.2l.1-.5l.1,.3l.1,.4l.1-.3l.1,.0l.1-.2l.1-.7l.1,.3l.1-.3l.1,1.0l.1,.2l.1-.3l.1-.6l.1,.6l.1,.4l.1-.2l.1,.3l.1-.2l.1-.8l.1,.4l.1,.1l.1-.5l.1,.1l.1,.4l.1,.7l.1-.3l.1-.3l.1-.1l.1-.5l.1,.5l.1,.5l.1-.6l.1,.3l.1,.4l.1-.6l.1-.5l.1,.4l.1,.0l.1,1.1l.1-.9l.1-.1l.1,.5l.1-.7l.1,.3l.1,.0l.1,.0l.1,.1l.1-.2l.1-.9l.1,1.0l.1-.5l.1,.3l.1-.2l.1,.3l.1,.4l.1-.5l.1-.2l.1,.5l.1-.3l.1,.7l.1-1.0l.1,.0l.1,.8l.1-1.1l.1,.7l.1-.4l.1,.6l.1,.4l.1,.2l.1-.7l.1,.3l.1,.1l.1-.1l.1,.5l.1-.3l.1,.2l.1-.6l.1,.0l.1-.6l.1,.0l.1,.5l.1-.2l.1,.2l.1-.1l.1,.2l.1-.1l.1,.5l.1-.6l.1,.3l.1,.0l.1-.6l.1,.3l.1,1.0l.1-.5l.1,.4l.1-.1l.1-.2l.1-.2l.1-1.0l.1,.7l.1-.4l.1,.1l.1,.5l.1,.4l.1-.2l.1,.0l.1-.1l.1-.1l.1-.6l.1-.1l.1,.4l.1,.4l.1-.2l.1-.5l.1,.1l.1,.2l.1-.1l.1-.3l.1,.8l.1-.5l.1-.8l.1,.7l.1,.3l.1,.0l.1-.5l.1-.1l.1,1.4l.1-1.4l.1,.0l.1,.6l.1,.3l.1-.4l.1-.5l.1,.4l.1-.4l.1,.2l.1-.2l.1,1.4l.1-.5l.1-.5l.1,.0l.1,.5l.1-.7l.1,.1l.1,.1l.1,.0l.1,.5l.1-.8l.1-.3l.1-.3l.1,.2l.1-.2l.1,.1l.1,.5l.1,.5l.1,.2l.1-.3l.1,.2l.1-.2l.1-.3l.1-.3l.1,.4l.1-.2l.1,.0l.1-.1l.1,.1l.1,.1l.1-.3l.1,.4l.1-.3l.1-.4l.1,.5l.1,1.4l.1-1.5l.1,.5l.1,.4l.1-.4l.1,.0l.1-.5l.1,.2l.1-.1l.1-.2l.1,.4l.1,.3l.1,.0l.1,.1l.1-.3l.1,1.0l.1-1.1l.1-.4l.1,.2l.1,.6l.1,.1l.1-.1l.1-.3l.1,.3l.1-.4l.1-.2l.1,.3l.1,.2l.1,.2l.1-.7l.1-.1l.1,.9l.1-.7l.1,.5l.1-.2l.1,.0l.1,.2l.1-.5l.1,.4l.1,.0l.1,.1l.1-.9l.1,.4l.1,.5l.1-.4l.1,.1l.1,.0l.1-.7l.1,.1l.1,.6l.1-.2l.1-.6l.1,.6l.1,.0l.1-.1l.1,.0l.1,.5l.1,.0l.1-.7l.1,.2l.1,.1l.1-.1l.1,.1l.1-.4l.1,.5l.1-.9l.1,.5l.1,.4l.1,.1l.1-.1l.1,.2l.1,.2l.1-.2l.1,.7l.1-.9l.1,1.1l.1-1.3l.1,.8l.1-.7l.1-.3l.1,.3l.1-.6l.1,.7l.1,.2l.1-.5l.1,.2l.1,.3l.1-.6l.1,.6l.1-.6l.1,1.2l.1-.7l.1-.6l.1,1.0l.1-.3l.1-.7l.1,.9l.1-.7l.1,.4l.1,.6l.1-1.1l.1,.0l.1,.5l.1-1.1l.1,1.2l.1-.6l.1,.7l.1,.0l.1-.8l.1-.1l.1,1.0l.1-.9l.1,.6l.1,.0l.1,.0l.1-.2l.1-.3l.1,.6l.1-.2l.1,.3l.1-.6l.1,1.0l.1-.3l.1-.2l.1,.3l.1-.2l.1-.6l.1,.4l.1,.2l.1-.1l.1,.1l.1-.5l.1-.1l.1,.0l.1,.2l.1-.2l.1,.0l.1-.3l.1,.1l.1,.0l.1,.1l.1,.0l.1,.3l.1-.3l.1,.7l.1-.7l.1-.1l.1,.5l.1,.4l.1-.6l.1-.5l.1,.8l.1-.6l.1,.2l.1,.1l.1-.1l.1,.7l.1-.3l.1-.2l.1,.3l.1-.6l.1,.3l.1,.4l.1-.1l.1-1.0l.1,.9l.1-.3l.1-.6l.1,1.1l.1,.1l.1-.6l.1,.5l.1-.3l.1,.4l.1,.2l.1-.2l.1-.6l.1-.6l.1-.2l.1,.0l.1-.1l.1,.4l.1,.3l.1,.5l.1,.1l.1-.7l.1,1.3l.1-1.0l.1-.3l.1-.4l.1,.6l.1,.6l.1-.9l.1,.3l.1,.3l.1,.2l.1-.6l.1,.2l.1,.4l.1,.1l.1-.7l.1,.1l.1,.4l.1-.3l.1-.1l.1,.8l.1-.1l.1-.1l.1-.5l.1-.3l.1,.2l.1,.4l.1-.5l.1,.6l.1-.9l.1,1.1l.1-.8l.1-.2l.1,.0l.1,.3l.1,.1l.1-.7l.1,.8l.1-.4l.1-.1l.1,.1l.1,.9l.1-1.0l.1,.2l.1,.2l.1,.4l.1-1.5l.1,1.0l.1,.1l.1-.7l.1,.6l.1,.2l.1,.4l.1-.3l.1-.3l.1,.5l.1,.3l.1-.7l.1,.5l.1,.0l.1,.2l.1,.2l.1-.6l.1-.5l.1,.5l.1-.4l.1,1.2l.1-.3l.1-1.0l.1,.4l.1-.6l.1,.4l.1-.4l.1,.9l.1-.3l.1-.1l.1,.2l.1-.4l.1,.3l.1-.6l.1,.1l.1,.8l.1-1.7l.1,1.2l.1-.3l.1,.8l.1-.7l.1,.3l.1-.3l.1,.8l.1-.7l.1-.4l.1-.5l.1,.4l.1,.6l.1-.7l.1-.1l.1,.6l.1,.0l.1,.3l.1,.0l.1,.9l.1-1.0l.1,.0l.1-.1l.1,.3l.1,.1l.1-.4l.1,.2l.1,.0l.1,.9l.1-1.5l.1,.9l.1-.7l.1,.2l.1,.2l.1,.3l.1-.5l.1,.2l.1-.3l.1-.7l.1,1.7l.1-.6l.1-.2l.1-.3l.1,.3l.1,.2l.1,.3l.1-.5l.1-.2l.1-.4l.1,.1l.1,.3l.1-.7l.1,.5l.1,.2l.1,.7l.1-1.2l.1,.3l.1,.9l.1-1.1l.1,1.8l.1-1.0l.1,.5l.1-.2l.1-.9l.1,.8l.1-.5l.1,.3l.1-.1l.1,.1l.1,.3l.1-.4l.1,.5l.1-.2l.1-.4l.1,.4l.1-.3l.1,.5l.1-.6l.1,.0l.1,.5l.1-.9l.1,.6l.1-.5l.1,.5l.1,.0l.1-.6l.1,.6l.1,.7l.1-.6l.1,.5l.1,.5l.1-1.6l.1,.4l.1,.6l.1-.8l.1-.1l.1-.2l.1-.6l.1,1.2l.1,.1l.1,.1l.1-.1l.1-.8l.1-.5l.1,.9l.1,.4l.1-.3l.1-.2l.1,.6l.1-.7l.1,.0l.1,.5l.1-.6l.1,.1l.1,.2l.1,.3l.1-.5l.1,.0l.1,.3l.1-.4l.1,.2l.1,.5l.1,.1l.1-.2l.1,.1l.1,.4l.1-.7l.1-.1l.1-.2l.1-.3l.1,.5l.1-.3l.1-.3l.1,1.5l.1-.7l.1,.1l.1-.1l.1-.1l.1-.3l.1-.3l.1,.1l.1,.5l.1-.2l.1,.2l.1-.9l.1,.6l.1,.5l.1-.5l.1,.6l.1-.4l.1-.1l.1-.1l.1,.3l.1-.4l.1,.9l.1-.2l.1-.1l.1-.5l.1,.5l.1-.5l.1,.7l.1-.2l.1-.6l.1,.2l.1,.7l.1-.3l.1,.2l.1-.7l.1,.4l.1-.6l.1,.6l.1,.0l.1-.3l.1,.4l.1-.3l.1,.0l.1,.2l.1,.0l.1-.4l.1,.0l.1-.6l.1-.2l.1,.8l.1-.9l.1,.4l.1,.4l.1,1.0l.1,.0l.1,1.0l.1-1.4l.1,.0l.1-.2l.1-.6l.1,.9l.1-.8l.1,.2l.1,.3l.1-.1l.1,.4l.1-.1l.1,.1l.1-.1l.1-.2l.1,.3l.1-.3l.1,.1l.1-.1l.1,.6l.1-.9l.1,.6l.1-.5l.1-.2l.1,.2l.1,.5l.1-.9l.1,.8l.1-.3l.1-.3l.1-.4l.1,.5l.1,.0l.1,.3l.1,.3l.1-.1l.1-.4l.1,.7l.1-.8l.1,.1l.1-.1l.1,.4l.1,.1l.1-.2l.1,.1l.1-.1l.1-.2l.1,.4l.1-.5l.1,.1l.1,.4l.1-.5l.1,.1l.1,1.0l.1-.6l.1-.5l.1,.0l.1,.7l.1-.3l.1-.6l.1,.6l.1-1.1l.1,1.1l.1,.1l.1,.1l.1-1.1l.1,.7l.1,.6l.1-.4l.1-.4l.1,.7l.1-.9l.1,.4l.1,.3l.1-.4l.1,.3l.1,.0l.1,.0l.1-.3l.1-.5l.1-.1l.1,.0l.1,.3l.1,.0l.1,1.3l.1-.7l.1,.2l.1,.5l.1-.7l.1,.3l.1,.5l.1-.5l.1,.4l.1-.6l.1,.4l.1,.3l.1-.3l.1-.4l.1,.0l.1,.0l.1-.6l.1-.2l.1,.8l.1,.1l.1-.4l.1-.2l.1-.2l.1-.2l.1,.2l.1,.0l.1,.4l.1-.2l.1,.2l.1-.5l.1,.3l.1,.5l.1-.9l.1-.2l.1,.9l.1,.1l.1-.1l.1-.5l.1,.4l.1-1.2l.1,.7l.1-.3l.1,.7l.1-.7l.1,1.1l.1,.2l.1,.1l.1-.3l.1-.7l.1,.3l.1,.5l.1-.2l.1-.6l.1,.1l.1-.2l.1,.3l.1-.1l.1,.4l.1-.1l.1-.3l.1,.7l.1-1.3l.1,.1l.1,.4l.1,.5l.1,.3l.1-.4l.1-.1l.1-.1l.1-.6l.1,.4l.1,.6l.1-.2l.1-.5l.1,.3l.1-.2l.1-.5l.1,.7l.1-.2l.1-.1l.1,.1l.1,.2l.1-.1l.1-.1l.1,.1l.1-.2l.1-.1l.1,.2l.1-.1l.1,.3l.1-.4l.1-.3l.1,.3l.1-.4l.1,.3l.1,.4l.1-.5l.1-.8l.1,.2l.1,.2l.1-.8l.1,.3l.1,.0l.1-.2l.1-.5l.1,.4l.1,.0l.1-.2l.1,.4l.1-.8l.1,.0l.1,.1l.1-.4l.1-.7l.1-.6l.1-.2l.1-.5l.1-1.1l.1-.7l.1-.1l.1-1.9l.1-.4l.1-1.9l.1-1.9l.1-2.1l.1-2.1l.1-2.5l.1-3.0l.1-2.8l.1-3.8l.1-4.2l.1-3.6l.1-3.6l.1-4.3l.1-4.3l.1-3.7l.1-2.8l.1-3.2l.1-1.4l.1-1.7l.1-1.3l.1,.7l.1,1.6l.1,1.5l.1,3.1l.1,3.6l.1,3.5l.1,3.4l.1,4.6l.1,4.3l.1,3.3l.1,4.1l.1,3.0l.1,3.1l.1,3.8l.1,2.6l.1,1.7l.1,1.6l.1,3.2l.1,.6l.1,1.7l.1,.5l.1,1.6l.1,1.1l.1,.3l.1,.9l.1,.4l.1,.5l.1-.1l.1,.1l.1-.3l.1,.8l.1,.3l.1-.2l.1,.9l.1-.4l.1,1.3l.1-.8l.1-.6l.1,.3l.1,.3l.1,.3l.1,.1l.1-.5l.1,.6l.1-.2l.1,.3l.1-.4l.1,.3l.1,.2l.1-.5l.1,.4l.1,.4l.1-.8l.1,.3l.1,.0l.1,.8l.1-.4l.1,.2l.1-.2l.1,.5l.1-.1l.1,.4l.1-.6l.1,.1l.1,.3l.1-.2l.1-.8l.1,.8l.1,.0l.1-.7l.1,.1l.1,.8l.1-.5l.1-.5l.1,.7l.1-1.0l.1,1.1l.1-.7l.1,1.0l.1-.6l.1-.1l.1,.2l.1-.1l.1,.6l.1-.3l.1-.4l.1-.1l.1,.1l.1,.7l.1-.7l.1,.5l.1-.2l.1-.4l.1-.2l.1,.8l.1,.2l.1,.0l.1,.2l.1-.1l.1,.5l.1-.4l.1-.8l.1,.7l.1-.6l.1,.5l.1-.6l.1,.6l.1,.1l.1-1.0l.1-.1l.1-.1l.1-.2l.1,.7l.1,.1l.1-.3l.1-.3l.1,.4l.1,.5l.1-.6l.1,.7l.1-.2l.1,.4l.1-.3l.1,.1l.1,.3l.1-.9l.1,.3l.1,.4l.1-.8l.1,.5l.1-.8l.1,.3l.1,.1l.1,.5l.1,.0l.1-.6l.1,1.4l.1,.1l.1-.4l.1-.4l.1,.2l.1-.6l.1-.2l.1,.0l.1,.2l.1-.3l.1,.0l.1,.8l.1-.5l.1,.2l.1,.1l.1-.3l.1,.2l.1,.6l.1-.7l.1,.5l.1-.5l.1,.2l.1,.6l.1-1.1l.1,.5l.1,.0l.1,.4l.1-.5l.1,.1l.1,.3l.1,.5l.1-.3l.1-.9l.1,1.2l.1-.6l.1-.2l.1,.2l.1-.5l.1,.4l.1-.3l.1,.1l.1-.9l.1,1.5l.1-.4l.1,.2l.1-.1l.1,.0l.1,.6l.1,.0l.1-.6l.1,.5l.1-.6l.1-.1l.1,.2l.1,.0l.1-.1l.1-.8l.1,.6l.1,.4l.1,.3l.1-.1l.1-.5l.1,.3l.1-.8l.1,.7l.1,.5l.1-.7l.1-.3l.1,.7l.1-.4l.1-.1l.1,.1l.1-.4l.1,.6l.1-.3l.1-.2l.1,.4l.1,.1l.1-.3l.1-.1l.1-.3l.1-.2l.1,.4l.1-.6l.1,.8l.1,.4l.1,.0l.1,.2l.1-.5l.1,.0l.1,.2l.1-.1l.1,.3l.1,.4l.1-.3l.1,.4l.1-.7l.1-1.0l.1,1.0l.1-.6l.1,.0l.1-.2l.1,.2l.1,1.2l.1-.4l.1-.4l.1,.1l.1,.1l.1-.3l.1,.5l.1,.2l.1-.9l.1,.6l.1-.2l.1-.2l.1,.2l.1-.7l.1,.0l.1,.5l.1-.1l.1,.2l.1,.7l.1-.8l.1,.9l.1,.1l.1-.7l.1,.5l.1-.6l.1,.6l.1,.0l.1-.5l.1,.5l.1-.2l.1,.1l.1-.8l.1,.3l.1,.0l.1-.5l.1,.9l.1-.2l.1-.2l.1,.3l.1-.8l.1,.9l.1-1.3l.1,1.0l.1,.0l.1-.5l.1,.1l.1,1.3l.1-1.1" fill="none" stroke="#e020e0" stroke-width="0.65" stroke-linejoin="round"/>
<rect x="35.3" y="1.6" width="349.3" height="527.8" fill="none" stroke="#000" stroke-width="1.35"/>
<line x1="35.3" y1="107" x2="384.6" y2="107" stroke="#000" stroke-width="1.35"/>
<line x1="35.3" y1="212.5" x2="384.6" y2="212.5" stroke="#000" stroke-width="1.35"/>
<line x1="35.3" y1="318.2" x2="384.6" y2="318.2" stroke="#000" stroke-width="1.35"/>
<line x1="35.3" y1="424" x2="384.6" y2="424" stroke="#000" stroke-width="1.35"/>
<path d="M133.40,70.00C132.29,68.00 129.71,66.00 129.71,63.92C129.71,62.56 130.60,62.00 131.48,62.00C132.51,62.00 133.18,62.64 133.40,63.28C133.62,62.64 134.29,62.00 135.32,62.00C136.20,62.00 137.09,62.56 137.09,63.92C137.09,66.00 134.51,68.00 133.40,70.00Z" fill="#000"/>
<g fill="#000"><circle cx="146.70" cy="65.68" r="1.83"/><circle cx="144.38" cy="68.77" r="1.83"/><circle cx="149.02" cy="68.77" r="1.83"/><path d="M146.70,66.36L144.58,69.25L148.82,69.25Z"/><path d="M146.27,68.67L147.13,68.67L147.52,72.34L145.88,72.34Z"/></g>
<g fill="#000"><circle cx="161.20" cy="66.98" r="1.83"/><circle cx="158.88" cy="70.07" r="1.83"/><circle cx="163.52" cy="70.07" r="1.83"/><path d="M161.20,67.66L159.08,70.55L163.32,70.55Z"/><path d="M160.77,69.97L161.63,69.97L162.02,73.64L160.38,73.64Z"/></g>
<path d="M169.80,50.00C168.69,48.00 166.11,46.00 166.11,43.92C166.11,42.56 167.00,42.00 167.88,42.00C168.91,42.00 169.58,42.64 169.80,43.28C170.02,42.64 170.69,42.00 171.72,42.00C172.60,42.00 173.49,42.56 173.49,43.92C173.49,46.00 170.91,48.00 169.80,50.00Z" fill="#000"/>
<g fill="#000"><circle cx="176.50" cy="66.98" r="1.83"/><circle cx="174.18" cy="70.07" r="1.83"/><circle cx="178.82" cy="70.07" r="1.83"/><path d="M176.50,67.66L174.38,70.55L178.62,70.55Z"/><path d="M176.07,69.97L176.93,69.97L177.32,73.64L175.68,73.64Z"/></g>
<circle cx="204.20" cy="26.20" r="2.6" fill="#000"/>
<circle cx="240.80" cy="44.20" r="2.6" fill="#000"/>
<path d="M292.50,49.90C291.39,47.90 288.81,45.90 288.81,43.82C288.81,42.46 289.70,41.90 290.58,41.90C291.61,41.90 292.28,42.54 292.50,43.18C292.72,42.54 293.39,41.90 294.42,41.90C295.30,41.90 296.19,42.46 296.19,43.82C296.19,45.90 293.61,47.90 292.50,49.90Z" fill="#000"/>
<circle cx="358.50" cy="16.30" r="2.6" fill="#000"/>
<path d="M133.50,178.00C132.39,176.00 129.81,174.00 129.81,171.92C129.81,170.56 130.70,170.00 131.58,170.00C132.61,170.00 133.28,170.64 133.50,171.28C133.72,170.64 134.39,170.00 135.42,170.00C136.30,170.00 137.19,170.56 137.19,171.92C137.19,174.00 134.61,176.00 133.50,178.00Z" fill="#000"/>
<g fill="#000"><circle cx="158.20" cy="171.98" r="1.83"/><circle cx="155.88" cy="175.07" r="1.83"/><circle cx="160.52" cy="175.07" r="1.83"/><path d="M158.20,172.66L156.08,175.55L160.32,175.55Z"/><path d="M157.77,174.97L158.63,174.97L159.02,178.64L157.38,178.64Z"/></g>
<path d="M168.40,173.20C167.29,171.20 164.71,169.20 164.71,167.12C164.71,165.76 165.60,165.20 166.48,165.20C167.51,165.20 168.18,165.84 168.40,166.48C168.62,165.84 169.29,165.20 170.32,165.20C171.20,165.20 172.09,165.76 172.09,167.12C172.09,169.20 169.51,171.20 168.40,173.20Z" fill="#000"/>
<g fill="#000"><circle cx="178.20" cy="170.38" r="1.83"/><circle cx="175.88" cy="173.47" r="1.83"/><circle cx="180.52" cy="173.47" r="1.83"/><path d="M178.20,171.06L176.08,173.95L180.32,173.95Z"/><path d="M177.77,173.37L178.63,173.37L179.02,177.04L177.38,177.04Z"/></g>
<circle cx="202.50" cy="139.10" r="2.6" fill="#000"/>
<circle cx="237.50" cy="150.60" r="2.6" fill="#000"/>
<path d="M292.50,173.20C291.39,171.20 288.81,169.20 288.81,167.12C288.81,165.76 289.70,165.20 290.58,165.20C291.61,165.20 292.28,165.84 292.50,166.48C292.72,165.84 293.39,165.20 294.42,165.20C295.30,165.20 296.19,165.76 296.19,167.12C296.19,169.20 293.61,171.20 292.50,173.20Z" fill="#000"/>
<circle cx="355.00" cy="114.20" r="2.6" fill="#000"/>
<path d="M166.50,284.00C165.39,282.00 162.81,280.00 162.81,277.92C162.81,276.56 163.70,276.00 164.58,276.00C165.61,276.00 166.28,276.64 166.50,277.28C166.72,276.64 167.39,276.00 168.42,276.00C169.30,276.00 170.19,276.56 170.19,277.92C170.19,280.00 167.61,282.00 166.50,284.00Z" fill="#000"/>
<circle cx="202.40" cy="245.60" r="2.6" fill="#000"/>
<circle cx="239.00" cy="257.30" r="2.6" fill="#000"/>
<path d="M292.70,282.90C291.59,280.90 289.01,278.90 289.01,276.82C289.01,275.46 289.90,274.90 290.78,274.90C291.81,274.90 292.48,275.54 292.70,276.18C292.92,275.54 293.59,274.90 294.62,274.90C295.50,274.90 296.39,275.46 296.39,276.82C296.39,278.90 293.81,280.90 292.70,282.90Z" fill="#000"/>
<circle cx="354.50" cy="219.50" r="2.6" fill="#000"/>
<g fill="#000"><circle cx="164.90" cy="384.38" r="1.83"/><circle cx="162.58" cy="387.47" r="1.83"/><circle cx="167.22" cy="387.47" r="1.83"/><path d="M164.90,385.06L162.78,387.95L167.02,387.95Z"/><path d="M164.47,387.37L165.33,387.37L165.72,391.04L164.08,391.04Z"/></g>
<g fill="#000"><circle cx="181.50" cy="384.78" r="1.83"/><circle cx="179.18" cy="387.87" r="1.83"/><circle cx="183.82" cy="387.87" r="1.83"/><path d="M181.50,385.46L179.38,388.35L183.62,388.35Z"/><path d="M181.07,387.77L181.93,387.77L182.32,391.44L180.68,391.44Z"/></g>
<circle cx="202.40" cy="350.60" r="2.6" fill="#000"/>
<circle cx="239.40" cy="363.90" r="2.6" fill="#000"/>
<circle cx="356.50" cy="332.50" r="2.6" fill="#000"/>
<circle cx="204.40" cy="432.40" r="2.6" fill="#000"/>
<circle cx="237.50" cy="464.50" r="2.6" fill="#000"/>
<circle cx="354.80" cy="436.10" r="2.6" fill="#000"/>
<circle cx="308.10" cy="11.30" r="2.3" fill="#000"/>
<g fill="#000"><circle cx="307.00" cy="21.17" r="1.68"/><circle cx="304.88" cy="24.00" r="1.68"/><circle cx="309.12" cy="24.00" r="1.68"/><path d="M307.00,21.79L305.06,24.44L308.94,24.44Z"/><path d="M306.60,23.91L307.40,23.91L307.75,27.27L306.25,27.27Z"/></g>
<path d="M307.30,39.05C306.25,37.17 303.79,35.30 303.79,33.35C303.79,32.07 304.63,31.55 305.47,31.55C306.46,31.55 307.09,32.15 307.30,32.75C307.51,32.15 308.14,31.55 309.13,31.55C309.97,31.55 310.81,32.07 310.81,33.35C310.81,35.30 308.35,37.17 307.30,39.05Z" fill="#000"/>
<text transform="translate(38.9,23.3) scale(1.0,1.08)" font-family="Liberation Serif" font-weight="bold" font-size="17">CuO/ rGO/Cu<tspan font-size="16" dy="6.2" dx="0.9">2</tspan><tspan dy="-6.2" dx="0.3">O/Cu</tspan></text>
<text transform="translate(40.5,127.6) scale(1.0,1.08)" font-family="Liberation Serif" font-weight="bold" font-size="17">CuO/Cu<tspan font-size="16" dy="6.6" dx="0.4">2</tspan><tspan dy="-6.6" dx="0.3">O/Cu</tspan></text>
<text transform="translate(44,239.4) scale(1.0,1.08)" font-family="Liberation Serif" font-weight="bold" font-size="17">rGO/Cu<tspan font-size="16" dy="6.2" dx="1.1">2</tspan><tspan dy="-6.2" dx="0.4">O/Cu</tspan></text>
<text transform="translate(38.6,342.6) scale(1.0,1.08)" font-family="Liberation Serif" font-weight="bold" font-size="17">CuO/Cu</text>
<text transform="translate(39,446.7) scale(1.0,1.08)" font-family="Liberation Serif" font-weight="bold" font-size="17">Cu</text>
<text transform="translate(315.2,14.8) scale(1.04,1.03)" font-family="Liberation Serif" font-weight="bold" font-size="13" letter-spacing="0.3">Cu</text>
<text transform="translate(315.2,26.3) scale(1.04,1.03)" font-family="Liberation Serif" font-weight="bold" font-size="13" letter-spacing="0.6">CuO</text>
<text transform="translate(315.2,38.7) scale(1.04,1.03)" font-family="Liberation Serif" font-weight="bold" font-size="13" letter-spacing="0.5">Cu<tspan font-size="13.5" dy="5.3" dx="0.2">2</tspan><tspan dy="-5.3" dx="0.1">O</tspan></text>
<text x="36" y="551.4" font-family="Liberation Serif" font-weight="bold" font-size="19" text-anchor="middle">10</text>
<text x="85.3" y="551.4" font-family="Liberation Serif" font-weight="bold" font-size="19" text-anchor="middle">20</text>
<text x="135.5" y="551.4" font-family="Liberation Serif" font-weight="bold" font-size="19" text-anchor="middle">30</text>
<text x="185.3" y="551.4" font-family="Liberation Serif" font-weight="bold" font-size="19" text-anchor="middle">40</text>
<text x="235.2" y="551.4" font-family="Liberation Serif" font-weight="bold" font-size="19" text-anchor="middle">50</text>
<text x="284.8" y="551.4" font-family="Liberation Serif" font-weight="bold" font-size="19" text-anchor="middle">60</text>
<text x="334.8" y="551.4" font-family="Liberation Serif" font-weight="bold" font-size="19" text-anchor="middle">70</text>
<text x="384" y="551.4" font-family="Liberation Serif" font-weight="bold" font-size="19" text-anchor="middle">80</text>
<text transform="translate(210.9,581.9) scale(1.14,1)" font-family="Liberation Serif" font-weight="bold" font-size="20" text-anchor="middle" word-spacing="1.5">2θ (degree)</text>
<text transform="translate(16.2,267.6) rotate(-90)" font-family="Liberation Serif" font-weight="bold" font-size="22.85" text-anchor="middle">Intensity (a.u.)</text>
</svg></body></html>
